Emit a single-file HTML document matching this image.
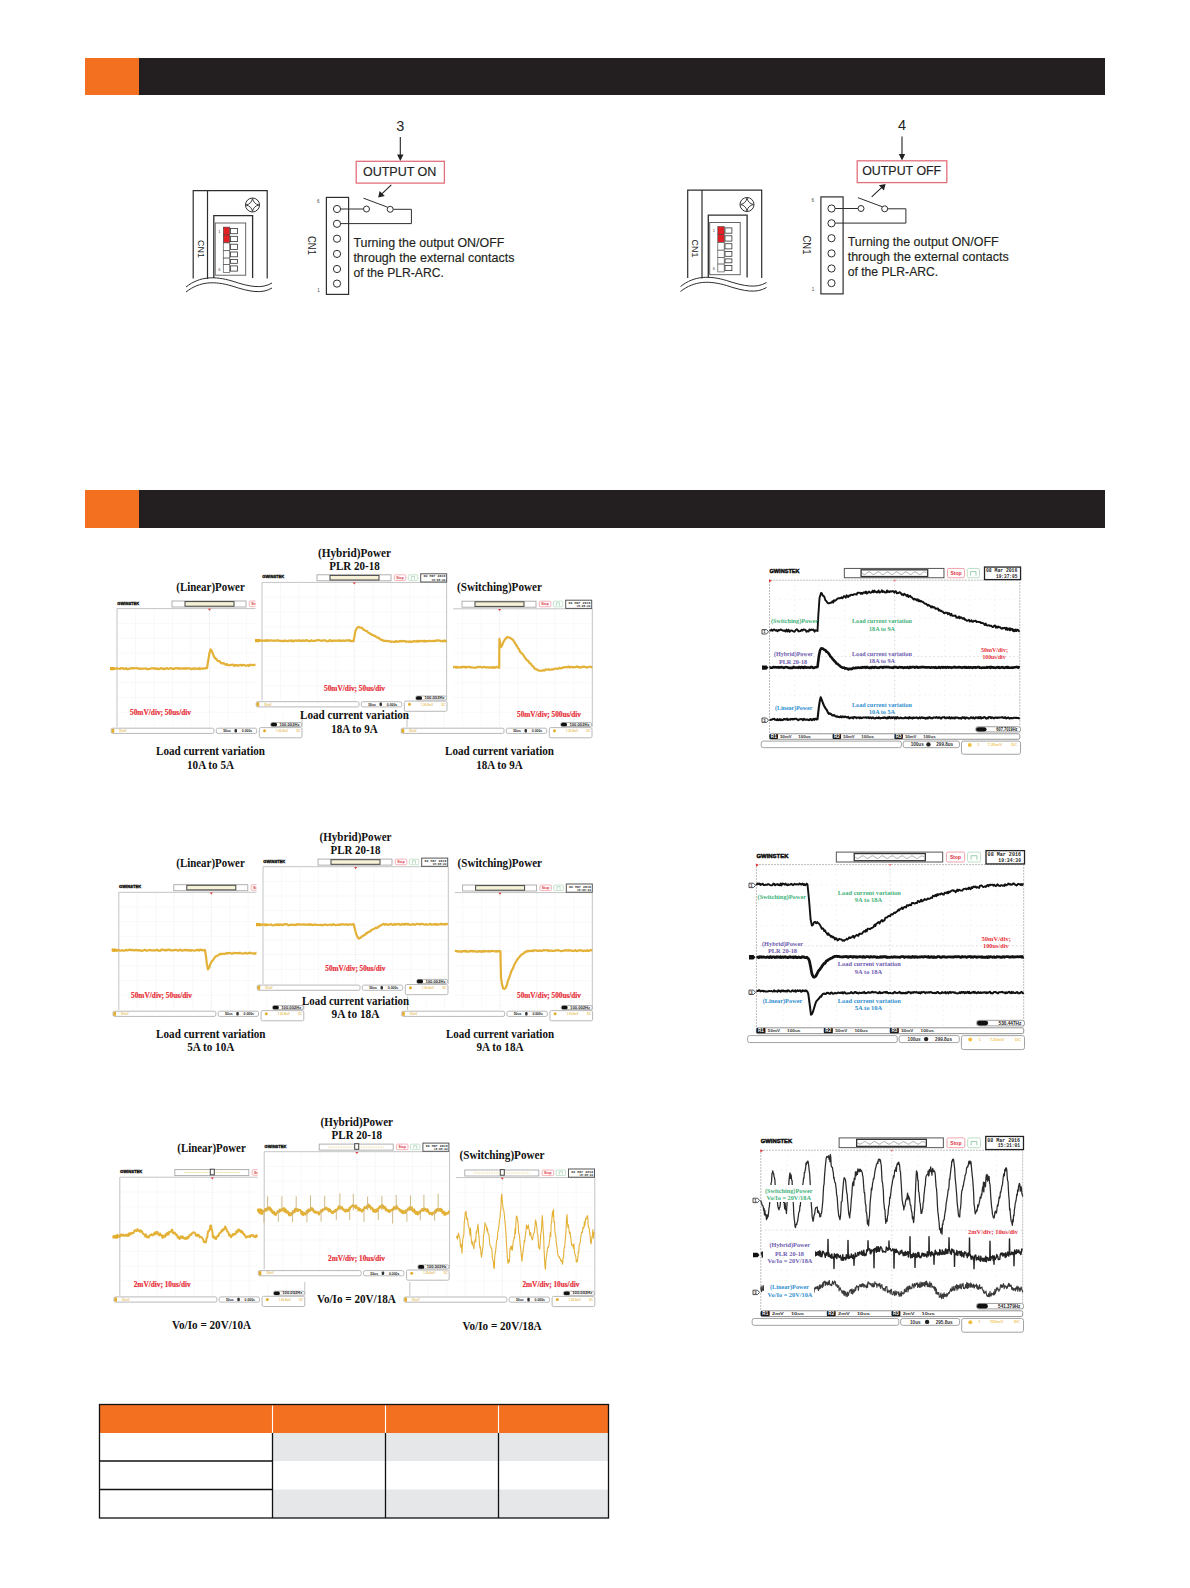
<!DOCTYPE html><html><head><meta charset="utf-8"><style>html,body{margin:0;padding:0;background:#fff;}body{width:1190px;height:1588px;position:relative;overflow:hidden;}svg{position:absolute;left:0;top:0;}</style></head><body>
<svg width="1190" height="1588" viewBox="0 0 1190 1588">
<rect x="85" y="58" width="1020" height="37" fill="#231f20" stroke="none" stroke-width="1" rx="0"/>
<rect x="85" y="58" width="54" height="37" fill="#f37021" stroke="none" stroke-width="1" rx="0"/>
<rect x="85" y="490" width="1020" height="38" fill="#231f20" stroke="none" stroke-width="1" rx="0"/>
<rect x="85" y="490" width="54" height="38" fill="#f37021" stroke="none" stroke-width="1" rx="0"/>
<g transform="translate(0,0)">
<path d="M193.2,278.4 V190.6 H267.2 V278.4" fill="none" stroke="#2e2e2e" stroke-width="1.2"/>
<line x1="207.5" y1="190.6" x2="207.5" y2="279" stroke="#2e2e2e" stroke-width="1.2"/>
<path d="M213.8,278 V215.6 H252.6 V278" fill="none" stroke="#2e2e2e" stroke-width="1.3"/>
<rect x="215.2" y="223" width="30.5" height="52.2" fill="#fff" stroke="#555" stroke-width="0.9" rx="0"/>
<circle cx="252.5" cy="205" r="7" fill="none" stroke="#2e2e2e" stroke-width="1"/>
<path d="M252.5,198.6 Q253.6,203.9 258.9,205 Q253.6,206.1 252.5,211.4 Q251.4,206.1 246.1,205 Q251.4,203.9 252.5,198.6 Z" fill="none" stroke="#2e2e2e" stroke-width="0.9"/>
<rect x="223.3" y="227.1" width="6.4" height="7.9" fill="#e31e24" stroke="#444" stroke-width="0.6" rx="0"/>
<rect x="230.5" y="228.4" width="6.9" height="5.3" fill="#fff" stroke="#333" stroke-width="0.8" rx="0"/>
<rect x="223.3" y="235" width="6.4" height="7.9" fill="#e31e24" stroke="#444" stroke-width="0.6" rx="0"/>
<rect x="230.5" y="236.3" width="6.9" height="5.3" fill="#fff" stroke="#333" stroke-width="0.8" rx="0"/>
<rect x="223.3" y="242.9" width="6.4" height="7.8" fill="#fff" stroke="#555" stroke-width="0.7" rx="0"/>
<rect x="230.5" y="244.2" width="6.9" height="5.2" fill="#fff" stroke="#333" stroke-width="0.8" rx="0"/>
<rect x="223.3" y="250.7" width="6.4" height="7.4" fill="#fff" stroke="#555" stroke-width="0.7" rx="0"/>
<rect x="230.5" y="252" width="6.9" height="4.8" fill="#fff" stroke="#333" stroke-width="0.8" rx="0"/>
<rect x="223.3" y="258.1" width="6.4" height="6.5" fill="#fff" stroke="#555" stroke-width="0.7" rx="0"/>
<rect x="230.5" y="259.4" width="6.9" height="3.9" fill="#fff" stroke="#333" stroke-width="0.8" rx="0"/>
<rect x="223.3" y="264.6" width="6.4" height="7.8" fill="#fff" stroke="#555" stroke-width="0.7" rx="0"/>
<rect x="230.5" y="265.9" width="6.9" height="5.2" fill="#fff" stroke="#333" stroke-width="0.8" rx="0"/>
<text x="219.3" y="232.5" font-family="'Liberation Sans', sans-serif" font-size="4" font-weight="normal" fill="#444" text-anchor="middle">1</text>
<text x="219.3" y="270.5" font-family="'Liberation Sans', sans-serif" font-size="4" font-weight="normal" fill="#444" text-anchor="middle">6</text>
<text transform="translate(197.6,240) rotate(90)" font-family="'Liberation Sans', sans-serif" font-size="9.6" fill="#222" textLength="18" lengthAdjust="spacingAndGlyphs">CN1</text>
<path d="M186,287 C200,276 215,276 232,281 C250,287 262,289 272,283" fill="none" stroke="#2e2e2e" stroke-width="1"/>
<path d="M186,292 C200,281 215,281 232,286 C250,292 262,294 272,288" fill="none" stroke="#2e2e2e" stroke-width="1"/>
<rect x="326.4" y="197.4" width="22.2" height="97" fill="none" stroke="#2e2e2e" stroke-width="1.2" rx="0"/>
<circle cx="337" cy="209" r="3.6" fill="#fff" stroke="#2e2e2e" stroke-width="1"/>
<circle cx="337" cy="223.8" r="3.6" fill="#fff" stroke="#2e2e2e" stroke-width="1"/>
<circle cx="337" cy="238.7" r="3.6" fill="#fff" stroke="#2e2e2e" stroke-width="1"/>
<circle cx="337" cy="253.9" r="3.6" fill="#fff" stroke="#2e2e2e" stroke-width="1"/>
<circle cx="337" cy="269" r="3.6" fill="#fff" stroke="#2e2e2e" stroke-width="1"/>
<circle cx="337" cy="283.6" r="3.6" fill="#fff" stroke="#2e2e2e" stroke-width="1"/>
<text x="318.2" y="202.5" font-family="'Liberation Sans', sans-serif" font-size="4.5" font-weight="normal" fill="#444" text-anchor="middle">6</text>
<text x="318.5" y="291.5" font-family="'Liberation Sans', sans-serif" font-size="4.5" font-weight="normal" fill="#444" text-anchor="middle">1</text>
<text transform="translate(308.2,236) rotate(90)" font-family="'Liberation Sans', sans-serif" font-size="10" fill="#222" textLength="19" lengthAdjust="spacingAndGlyphs">CN1</text>
<line x1="340.6" y1="209" x2="363.5" y2="209" stroke="#2e2e2e" stroke-width="1"/>
<circle cx="366.5" cy="209" r="3" fill="#fff" stroke="#2e2e2e" stroke-width="1"/>
<circle cx="390.2" cy="209.3" r="3" fill="#fff" stroke="#2e2e2e" stroke-width="1"/>
<line x1="363.5" y1="198.2" x2="387.6" y2="207.2" stroke="#2e2e2e" stroke-width="1"/>
<path d="M393.2,209.3 H411.4 V223.6 H340.6" fill="none" stroke="#2e2e2e" stroke-width="1"/>
</g>
<g transform="translate(494.5,-0.5)">
<path d="M193.2,278.4 V190.6 H267.2 V278.4" fill="none" stroke="#2e2e2e" stroke-width="1.2"/>
<line x1="207.5" y1="190.6" x2="207.5" y2="279" stroke="#2e2e2e" stroke-width="1.2"/>
<path d="M213.8,278 V215.6 H252.6 V278" fill="none" stroke="#2e2e2e" stroke-width="1.3"/>
<rect x="215.2" y="223" width="30.5" height="52.2" fill="#fff" stroke="#555" stroke-width="0.9" rx="0"/>
<circle cx="252.5" cy="205" r="7" fill="none" stroke="#2e2e2e" stroke-width="1"/>
<path d="M252.5,198.6 Q253.6,203.9 258.9,205 Q253.6,206.1 252.5,211.4 Q251.4,206.1 246.1,205 Q251.4,203.9 252.5,198.6 Z" fill="none" stroke="#2e2e2e" stroke-width="0.9"/>
<rect x="223.3" y="227.1" width="6.4" height="7.9" fill="#e31e24" stroke="#444" stroke-width="0.6" rx="0"/>
<rect x="230.5" y="228.4" width="6.9" height="5.3" fill="#fff" stroke="#333" stroke-width="0.8" rx="0"/>
<rect x="223.3" y="235" width="6.4" height="7.9" fill="#e31e24" stroke="#444" stroke-width="0.6" rx="0"/>
<rect x="230.5" y="236.3" width="6.9" height="5.3" fill="#fff" stroke="#333" stroke-width="0.8" rx="0"/>
<rect x="223.3" y="242.9" width="6.4" height="7.8" fill="#fff" stroke="#555" stroke-width="0.7" rx="0"/>
<rect x="230.5" y="244.2" width="6.9" height="5.2" fill="#fff" stroke="#333" stroke-width="0.8" rx="0"/>
<rect x="223.3" y="250.7" width="6.4" height="7.4" fill="#fff" stroke="#555" stroke-width="0.7" rx="0"/>
<rect x="230.5" y="252" width="6.9" height="4.8" fill="#fff" stroke="#333" stroke-width="0.8" rx="0"/>
<rect x="223.3" y="258.1" width="6.4" height="6.5" fill="#fff" stroke="#555" stroke-width="0.7" rx="0"/>
<rect x="230.5" y="259.4" width="6.9" height="3.9" fill="#fff" stroke="#333" stroke-width="0.8" rx="0"/>
<rect x="223.3" y="264.6" width="6.4" height="7.8" fill="#fff" stroke="#555" stroke-width="0.7" rx="0"/>
<rect x="230.5" y="265.9" width="6.9" height="5.2" fill="#fff" stroke="#333" stroke-width="0.8" rx="0"/>
<text x="219.3" y="232.5" font-family="'Liberation Sans', sans-serif" font-size="4" font-weight="normal" fill="#444" text-anchor="middle">1</text>
<text x="219.3" y="270.5" font-family="'Liberation Sans', sans-serif" font-size="4" font-weight="normal" fill="#444" text-anchor="middle">6</text>
<text transform="translate(197.6,240) rotate(90)" font-family="'Liberation Sans', sans-serif" font-size="9.6" fill="#222" textLength="18" lengthAdjust="spacingAndGlyphs">CN1</text>
<path d="M186,287 C200,276 215,276 232,281 C250,287 262,289 272,283" fill="none" stroke="#2e2e2e" stroke-width="1"/>
<path d="M186,292 C200,281 215,281 232,286 C250,292 262,294 272,288" fill="none" stroke="#2e2e2e" stroke-width="1"/>
<rect x="326.4" y="197.4" width="22.2" height="97" fill="none" stroke="#2e2e2e" stroke-width="1.2" rx="0"/>
<circle cx="337" cy="209" r="3.6" fill="#fff" stroke="#2e2e2e" stroke-width="1"/>
<circle cx="337" cy="223.8" r="3.6" fill="#fff" stroke="#2e2e2e" stroke-width="1"/>
<circle cx="337" cy="238.7" r="3.6" fill="#fff" stroke="#2e2e2e" stroke-width="1"/>
<circle cx="337" cy="253.9" r="3.6" fill="#fff" stroke="#2e2e2e" stroke-width="1"/>
<circle cx="337" cy="269" r="3.6" fill="#fff" stroke="#2e2e2e" stroke-width="1"/>
<circle cx="337" cy="283.6" r="3.6" fill="#fff" stroke="#2e2e2e" stroke-width="1"/>
<text x="318.2" y="202.5" font-family="'Liberation Sans', sans-serif" font-size="4.5" font-weight="normal" fill="#444" text-anchor="middle">6</text>
<text x="318.5" y="291.5" font-family="'Liberation Sans', sans-serif" font-size="4.5" font-weight="normal" fill="#444" text-anchor="middle">1</text>
<text transform="translate(308.2,236) rotate(90)" font-family="'Liberation Sans', sans-serif" font-size="10" fill="#222" textLength="19" lengthAdjust="spacingAndGlyphs">CN1</text>
<line x1="340.6" y1="209" x2="363.5" y2="209" stroke="#2e2e2e" stroke-width="1"/>
<circle cx="366.5" cy="209" r="3" fill="#fff" stroke="#2e2e2e" stroke-width="1"/>
<circle cx="390.2" cy="209.3" r="3" fill="#fff" stroke="#2e2e2e" stroke-width="1"/>
<line x1="363.5" y1="198.2" x2="387.6" y2="207.2" stroke="#2e2e2e" stroke-width="1"/>
<path d="M393.2,209.3 H411.4 V223.6 H340.6" fill="none" stroke="#2e2e2e" stroke-width="1"/>
</g>
<g transform="translate(0,0)">
<text x="400.3" y="130.6" font-family="'Liberation Sans', sans-serif" font-size="14.5" font-weight="normal" fill="#222" text-anchor="middle">3</text>
<line x1="400.3" y1="137" x2="400.3" y2="155.5" stroke="#222" stroke-width="1.1"/>
<path d="M397.1,154.5 L400.3,161 L403.5,154.5 Z" fill="#222"/>
</g>
<rect x="356.2" y="161.3" width="88.2" height="21.8" fill="none" stroke="#e2707c" stroke-width="1.3" rx="0"/>
<text x="362.9" y="175.7" font-family="'Liberation Sans', sans-serif" font-size="12" font-weight="normal" fill="#222" text-anchor="start" textLength="73.5" lengthAdjust="spacingAndGlyphs" stroke="#222" stroke-width="0.15">OUTPUT ON</text>
<g transform="translate(501.7,-0.5)">
<text x="400.3" y="130.6" font-family="'Liberation Sans', sans-serif" font-size="14.5" font-weight="normal" fill="#222" text-anchor="middle">4</text>
<line x1="400.3" y1="137" x2="400.3" y2="155.5" stroke="#222" stroke-width="1.1"/>
<path d="M397.1,154.5 L400.3,161 L403.5,154.5 Z" fill="#222"/>
</g>
<rect x="857.2" y="160.8" width="89.6" height="21.8" fill="none" stroke="#e2707c" stroke-width="1.3" rx="0"/>
<text x="862.2" y="175.2" font-family="'Liberation Sans', sans-serif" font-size="12" font-weight="normal" fill="#222" text-anchor="start" textLength="79" lengthAdjust="spacingAndGlyphs" stroke="#222" stroke-width="0.15">OUTPUT OFF</text>
<g stroke="#222" stroke-width="1.1" fill="#222">
<line x1="391.3" y1="184.8" x2="381" y2="194.6"/>
<path d="M378.2,197.4 L379.6,190.9 L384.8,195.9 Z" stroke="none"/>
<line x1="871.7" y1="196.8" x2="882.6" y2="186.7"/>
<path d="M885.6,183.9 L883.9,190.4 L878.9,185.2 Z" stroke="none"/>
</g>
<text x="353.4" y="246.9" font-family="'Liberation Sans', sans-serif" font-size="12.2" font-weight="normal" fill="#231f20" text-anchor="start" textLength="151" lengthAdjust="spacingAndGlyphs" stroke="#231f20" stroke-width="0.15">Turning the output ON/OFF</text>
<text x="353.4" y="261.8" font-family="'Liberation Sans', sans-serif" font-size="12.2" font-weight="normal" fill="#231f20" text-anchor="start" textLength="161" lengthAdjust="spacingAndGlyphs" stroke="#231f20" stroke-width="0.15">through the external contacts</text>
<text x="353.4" y="276.7" font-family="'Liberation Sans', sans-serif" font-size="12.2" font-weight="normal" fill="#231f20" text-anchor="start" textLength="90.5" lengthAdjust="spacingAndGlyphs" stroke="#231f20" stroke-width="0.15">of the PLR-ARC.</text>
<text x="847.7" y="246.4" font-family="'Liberation Sans', sans-serif" font-size="12.2" font-weight="normal" fill="#231f20" text-anchor="start" textLength="151" lengthAdjust="spacingAndGlyphs" stroke="#231f20" stroke-width="0.15">Turning the output ON/OFF</text>
<text x="847.7" y="261.3" font-family="'Liberation Sans', sans-serif" font-size="12.2" font-weight="normal" fill="#231f20" text-anchor="start" textLength="161" lengthAdjust="spacingAndGlyphs" stroke="#231f20" stroke-width="0.15">through the external contacts</text>
<text x="847.7" y="276.2" font-family="'Liberation Sans', sans-serif" font-size="12.2" font-weight="normal" fill="#231f20" text-anchor="start" textLength="90.5" lengthAdjust="spacingAndGlyphs" stroke="#231f20" stroke-width="0.15">of the PLR-ARC.</text>
<rect x="99.5" y="1404.5" width="509" height="28.5" fill="#f37021" stroke="none" stroke-width="1" rx="0"/>
<rect x="272.5" y="1433" width="336" height="28" fill="#e6e7e8" stroke="none" stroke-width="1" rx="0"/>
<rect x="272.5" y="1489.5" width="336" height="28.5" fill="#e6e7e8" stroke="none" stroke-width="1" rx="0"/>
<line x1="272.5" y1="1405.5" x2="272.5" y2="1433" stroke="#fff" stroke-width="1.1"/>
<line x1="272.5" y1="1433" x2="272.5" y2="1518" stroke="#111" stroke-width="1.3"/>
<line x1="385.5" y1="1405.5" x2="385.5" y2="1433" stroke="#fff" stroke-width="1.1"/>
<line x1="385.5" y1="1433" x2="385.5" y2="1518" stroke="#111" stroke-width="1.3"/>
<line x1="498.5" y1="1405.5" x2="498.5" y2="1433" stroke="#fff" stroke-width="1.1"/>
<line x1="498.5" y1="1433" x2="498.5" y2="1518" stroke="#111" stroke-width="1.3"/>
<line x1="99.5" y1="1461" x2="272.5" y2="1461" stroke="#111" stroke-width="1.3"/>
<line x1="99.5" y1="1489.5" x2="272.5" y2="1489.5" stroke="#111" stroke-width="1.3"/>
<rect x="99.5" y="1404.5" width="509" height="113.5" fill="none" stroke="#111" stroke-width="1.3" rx="0"/>
<path d="M135.5,608.6V727M154,608.6V727M172.5,608.6V727M191,608.6V727M228,608.6V727M246.5,608.6V727M265,608.6V727M283.5,608.6V727M117,623.4H302M117,638.2H302M117,653H302M117,667.8H302M117,682.6H302M117,697.4H302M117,712.2H302" stroke="#f6f6f6" stroke-width="0.7" fill="none"/>
<path d="M209.5,608.6V727" stroke="#dcdcdc" stroke-width="0.8" stroke-dasharray="1,1.5" fill="none"/>
<path d="M117,727 V608.6 H302 V727" stroke="#c4c4c4" stroke-width="1" fill="none"/>
<text x="117.3" y="604.5" font-family="'Liberation Sans', sans-serif" font-size="4.4" font-weight="bold" fill="#111" text-anchor="start" textLength="22" lengthAdjust="spacingAndGlyphs" stroke="#111" stroke-width="0.35">GWINSTEK</text>
<rect x="172" y="601" width="74" height="6" fill="#fff" stroke="#a8a8a8" stroke-width="0.9" rx="0"/>
<rect x="185" y="601.6" width="49" height="4.6" fill="#f6f2d8" stroke="#444" stroke-width="1" rx="0"/>
<rect x="249.3" y="601" width="11.5" height="5.6" fill="#fff" stroke="#f0a0a8" stroke-width="0.8" rx="1"/>
<text x="255" y="605" font-family="'Liberation Sans', sans-serif" font-size="3.4" font-weight="bold" fill="#e0303c" text-anchor="middle">Stop</text>
<rect x="263.3" y="601" width="9.5" height="5.6" fill="#fff" stroke="#b8dcc0" stroke-width="0.8" rx="1"/>
<path d="M266.5,605.6 v-3 h3 v3" stroke="#8cc8a0" stroke-width="0.6" fill="none"/>
<rect x="275.7" y="600" width="26" height="8.2" fill="#fff" stroke="#555" stroke-width="1" rx="0"/>
<text x="300.5" y="603.6" font-family="'Liberation Mono', monospace" font-size="3.4" font-weight="bold" fill="#333" text-anchor="end" textLength="22" lengthAdjust="spacingAndGlyphs">02 Mar 2016</text>
<text x="300.5" y="607.2" font-family="'Liberation Mono', monospace" font-size="3.4" font-weight="bold" fill="#333" text-anchor="end" textLength="14" lengthAdjust="spacingAndGlyphs">18:08:22</text>
<path d="M208,608.8 h3 l-1.5,2 z" fill="#e03030"/>
<rect x="270.6" y="722.5" width="31" height="4" fill="#fff" stroke="#999" stroke-width="0.7" rx="1.5"/>
<rect x="271" y="722.7" width="6" height="3.6" fill="#111" stroke="none" stroke-width="1" rx="1.5"/>
<text x="289.5" y="725.6" font-family="'Liberation Sans', sans-serif" font-size="3.4" font-weight="bold" fill="#222" text-anchor="middle" textLength="20" lengthAdjust="spacingAndGlyphs">100.002Hz</text>
<rect x="111.2" y="728.2" width="102.8" height="5.2" fill="#fff" stroke="#b0b0b0" stroke-width="0.9" rx="1.5"/>
<rect x="111.6" y="728.8" width="2.6" height="4" fill="#e3ad2c" stroke="none" stroke-width="1" rx="0"/>
<text x="123" y="732" font-family="'Liberation Sans', sans-serif" font-size="2.8" font-weight="bold" fill="#e8c060" text-anchor="middle">50mV</text>
<rect x="216.3" y="728.2" width="40.4" height="5.2" fill="#fff" stroke="#b0b0b0" stroke-width="0.9" rx="1.5"/>
<text x="227" y="732.1" font-family="'Liberation Sans', sans-serif" font-size="3.4" font-weight="bold" fill="#222" text-anchor="middle">50us</text>
<rect x="234.5" y="729" width="2.5" height="3.6" fill="#333" stroke="none" stroke-width="1" rx="1"/>
<text x="247" y="732.1" font-family="'Liberation Sans', sans-serif" font-size="3.4" font-weight="bold" fill="#222" text-anchor="middle">0.000s</text>
<rect x="259.3" y="727.6" width="42.7" height="10.2" fill="#fff" stroke="#b0b0b0" stroke-width="0.9" rx="1.5"/>
<circle cx="264.5" cy="730.8" r="1.5" fill="#e3ad2c"/>
<text x="282" y="732" font-family="'Liberation Sans', sans-serif" font-size="2.8" font-weight="bold" fill="#e8c060" text-anchor="middle">1   26.8mV</text>
<text x="298.5" y="732" font-family="'Liberation Sans', sans-serif" font-size="2.8" font-weight="bold" fill="#e8c060" text-anchor="middle">DC</text>
<polyline points="111,668.54 112,668.67 113,669.11 114,668.56 115,668.61 116,668.7 117,668.22 118,668.61 119,668.76 120,668.95 121,668.11 122,668.36 123,668.11 124,668.97 125,668.83 126,668.05 127,669.18 128,669.16 129,668.78 130,668.74 131,668.19 132,668.02 133,668.63 134,668.07 135,668.23 136,668.29 137,668.04 138,668.56 139,668.53 140,669.01 141,668.62 142,668.77 143,668.6 144,668.79 145,668.55 146,668.33 147,669.2 148,669.19 149,669.01 150,668.85 151,668.38 152,668.28 153,668.35 154,668.08 155,668.92 156,668.48 157,669.02 158,668.46 159,669.15 160,669.02 161,668 162,668.25 163,669.09 164,668.56 165,669.18 166,668.48 167,668.09 168,668.76 169,668.93 170,668.32 171,668.1 172,668.4 173,669.16 174,668.91 175,668.14 176,668.3 177,668.12 178,668.07 179,668.96 180,668.21 181,668.67 182,668.54 183,668.23 184,668.88 185,668.16 186,668.77 187,668.14 188,668.5 189,668.26 190,668.32 191,669.17 192,668.96 193,668.36 194,669.06 195,668.25 196,668.47 197,669.03 198,668.77 199,668.12 200,669.19 201,668.26 202,668.31 203,668.93 204,668.39 205,668.36 206,668.09 207,668.11 208.3,660.1 209.5,652.71 210.7,649.42 212.15,651.81 213.6,655.64 214.68,657.76 215.76,658.52 216.84,659.78 217.92,661.08 219,661.02 220,661.57 221,663.01 222,663.38 223,663.13 224,663.42 225,664.37 226,664.83 227,664.11 228,665.18 229,665.26 230,665.06 231,664.97 232,664.69 233,664.68 234,665.84 235,664.99 236,665.55 237,665.01 238,665.69 239,665.42 240,665.05 241,664.91 242,665.56 243,664.78 244,664.97 245,665.37 246,665.72 247,665.44 248,665.04 249,665.8 250,664.94 251,664.72 252,665.02 253,665.23 254,664.77 255,664.91 256,665.14 257,665.39 258,664.86 259,665.13 260,665.77 261,665.88 262,665.49 263,665.53 264,665.4 265,664.87 266,664.74 267,664.72 268,665.79 269,665.54 270,665.86 271,664.73 272,665.46 273,665.28 274,665.58 275,665.08 276,665.9 277,664.79 278,665.36 279,665.58 280,665.78 281,665.58 282,665.54 283,665.65 284,665.8 285,665.12 286,665.52 287,665.78 288,665.75 289,665.2 290,665.65 291,665.74 292,665.39 293,665.45 294,665.16 295,665.4 296,665.43 297,664.8 298,665.47 299,665.89 300,665.76 301,665.57 302,665.3" fill="none" stroke="#e3ad2c" stroke-width="2.2" stroke-linejoin="round" opacity="0.95"/>
<path d="M110,667 h4 l2,1.6 l-2,1.6 h-4 z" fill="#e3ad2c"/>
<path d="M425.53,608.8V727M444.06,608.8V727M462.59,608.8V727M481.12,608.8V727M518.18,608.8V727M536.71,608.8V727M555.24,608.8V727M573.77,608.8V727M407,623.57H592.3M407,638.35H592.3M407,653.12H592.3M407,667.9H592.3M407,682.67H592.3M407,697.45H592.3M407,712.22H592.3" stroke="#f6f6f6" stroke-width="0.7" fill="none"/>
<path d="M499.65,608.8V727" stroke="#dcdcdc" stroke-width="0.8" stroke-dasharray="1,1.5" fill="none"/>
<path d="M407,727 V608.8 H592.3 V727" stroke="#c4c4c4" stroke-width="1" fill="none"/>
<text x="407.3" y="604.7" font-family="'Liberation Sans', sans-serif" font-size="4.4" font-weight="bold" fill="#111" text-anchor="start" textLength="22" lengthAdjust="spacingAndGlyphs" stroke="#111" stroke-width="0.35">GWINSTEK</text>
<rect x="462" y="601.2" width="74" height="6" fill="#fff" stroke="#a8a8a8" stroke-width="0.9" rx="0"/>
<rect x="475" y="601.8" width="49" height="4.6" fill="#f6f2d8" stroke="#444" stroke-width="1" rx="0"/>
<rect x="539.3" y="601.2" width="11.5" height="5.6" fill="#fff" stroke="#f0a0a8" stroke-width="0.8" rx="1"/>
<text x="545" y="605.2" font-family="'Liberation Sans', sans-serif" font-size="3.4" font-weight="bold" fill="#e0303c" text-anchor="middle">Stop</text>
<rect x="553.3" y="601.2" width="9.5" height="5.6" fill="#fff" stroke="#b8dcc0" stroke-width="0.8" rx="1"/>
<path d="M556.5,605.8 v-3 h3 v3" stroke="#8cc8a0" stroke-width="0.6" fill="none"/>
<rect x="565.7" y="600.2" width="26" height="8.2" fill="#fff" stroke="#555" stroke-width="1" rx="0"/>
<text x="590.5" y="603.8" font-family="'Liberation Mono', monospace" font-size="3.4" font-weight="bold" fill="#333" text-anchor="end" textLength="22" lengthAdjust="spacingAndGlyphs">02 Mar 2016</text>
<text x="590.5" y="607.4" font-family="'Liberation Mono', monospace" font-size="3.4" font-weight="bold" fill="#333" text-anchor="end" textLength="14" lengthAdjust="spacingAndGlyphs">18:08:22</text>
<path d="M498.15,609 h3 l-1.5,2 z" fill="#e03030"/>
<rect x="560.6" y="722.5" width="31" height="4" fill="#fff" stroke="#999" stroke-width="0.7" rx="1.5"/>
<rect x="561" y="722.7" width="6" height="3.6" fill="#111" stroke="none" stroke-width="1" rx="1.5"/>
<text x="579.5" y="725.6" font-family="'Liberation Sans', sans-serif" font-size="3.4" font-weight="bold" fill="#222" text-anchor="middle" textLength="20" lengthAdjust="spacingAndGlyphs">100.002Hz</text>
<rect x="401.2" y="728.2" width="102.8" height="5.2" fill="#fff" stroke="#b0b0b0" stroke-width="0.9" rx="1.5"/>
<rect x="401.6" y="728.8" width="2.6" height="4" fill="#e3ad2c" stroke="none" stroke-width="1" rx="0"/>
<text x="413" y="732" font-family="'Liberation Sans', sans-serif" font-size="2.8" font-weight="bold" fill="#e8c060" text-anchor="middle">50mV</text>
<rect x="506.3" y="728.2" width="40.4" height="5.2" fill="#fff" stroke="#b0b0b0" stroke-width="0.9" rx="1.5"/>
<text x="517" y="732.1" font-family="'Liberation Sans', sans-serif" font-size="3.4" font-weight="bold" fill="#222" text-anchor="middle">50us</text>
<rect x="524.5" y="729" width="2.5" height="3.6" fill="#333" stroke="none" stroke-width="1" rx="1"/>
<text x="537" y="732.1" font-family="'Liberation Sans', sans-serif" font-size="3.4" font-weight="bold" fill="#222" text-anchor="middle">0.000s</text>
<rect x="549.3" y="727.6" width="42.7" height="10.2" fill="#fff" stroke="#b0b0b0" stroke-width="0.9" rx="1.5"/>
<circle cx="554.5" cy="730.8" r="1.5" fill="#e3ad2c"/>
<text x="572" y="732" font-family="'Liberation Sans', sans-serif" font-size="2.8" font-weight="bold" fill="#e8c060" text-anchor="middle">1   26.8mV</text>
<text x="588.5" y="732" font-family="'Liberation Sans', sans-serif" font-size="2.8" font-weight="bold" fill="#e8c060" text-anchor="middle">DC</text>
<polyline points="401,667.17 402,667.58 403,667.4 404.01,667.23 405.01,667.71 406.01,666.8 407.01,667.6 408.01,666.74 409.02,667.42 410.02,667.28 411.02,666.98 412.02,667.54 413.02,667.3 414.03,667.44 415.03,667.8 416.03,667.01 417.03,666.71 418.03,667.06 419.04,667.51 420.04,666.94 421.04,666.9 422.04,667.79 423.04,667.49 424.05,667.23 425.05,667.77 426.05,667.09 427.05,667.5 428.06,666.94 429.06,667.22 430.06,667.67 431.06,667.8 432.06,667.76 433.07,667.16 434.07,667.4 435.07,667.08 436.07,666.86 437.07,667.3 438.08,667.7 439.08,667.72 440.08,667.55 441.08,667.84 442.08,667.03 443.09,666.9 444.09,667.24 445.09,667.03 446.09,666.96 447.09,667.2 448.1,667.45 449.1,667.29 450.1,667.08 451.1,667.71 452.1,667.88 453.11,667.24 454.11,666.79 455.11,666.74 456.11,667.75 457.11,666.75 458.12,667.55 459.12,667.38 460.12,667.07 461.12,667.65 462.12,666.72 463.13,666.86 464.13,667.25 465.13,666.73 466.13,667.7 467.13,666.98 468.14,666.87 469.14,666.76 470.14,667.46 471.14,667.24 472.14,667.46 473.15,667.49 474.15,667.67 475.15,667.85 476.15,667.52 477.16,666.94 478.16,667.27 479.16,666.91 480.16,666.71 481.16,667.27 482.17,667.56 483.17,666.91 484.17,667.03 485.17,667.11 486.17,667.54 487.18,667.32 488.18,667.44 489.18,667.61 490.18,667.17 491.18,667.65 492.19,667.79 493.19,666.8 494.19,667.82 495.19,667.57 496.19,666.86 497.2,667.24 498.2,667.45 499.2,667.79 499.4,638.85 500.7,647.08 501.8,646.06 502.9,643.12 504,641.03 505.05,639.21 506.1,638.31 507.15,636.96 508.2,637.27 509.4,637.65 510.6,638.15 511.8,639.2 513,639.66 514,641.56 515,643.08 516,644.74 517,646 518,648.11 519,649.27 520,651.49 521.07,652.89 522.14,653.72 523.21,654.81 524.28,656.62 525.35,658.08 526.42,659.64 527.49,660.55 528.56,661.2 529.63,663.28 530.7,663.48 531.77,665.5 532.84,665.96 533.91,667.36 534.99,669.01 536.06,669.13 537.13,669.75 538.2,670.42 539.27,670.66 540.35,670.76 541.42,670.52 542.49,670.76 543.56,670.13 544.64,670.58 545.71,669.44 546.78,669.49 547.85,669.74 548.93,669.35 550,669.77 551.04,669.56 552.07,669.3 553.11,669.54 554.15,669.04 555.18,668.58 556.22,668.5 557.26,668.88 558.29,668.76 559.33,667.76 560.37,668.36 561.41,668.33 562.44,667.64 563.48,667.55 564.52,666.98 565.55,667.26 566.59,667.13 567.63,667.19 568.66,666.45 569.7,667.56 570.73,667.02 571.76,666.88 572.8,667.36 573.83,667.08 574.86,666.99 575.89,667.23 576.92,666.48 577.95,667.05 578.99,666.9 580.02,667.55 581.05,667.51 582.08,666.72 583.11,666.97 584.15,666.55 585.18,666.92 586.21,667.38 587.24,667.48 588.27,666.97 589.3,666.78 590.34,666.63 591.37,667.14 592.4,667" fill="none" stroke="#e3ad2c" stroke-width="2.2" stroke-linejoin="round" opacity="0.95"/>
<path d="M400,665.7 h4 l2,1.6 l-2,1.6 h-4 z" fill="#e3ad2c"/>
<rect x="255.5" y="571.9" width="197.6" height="141.1" fill="#fff" stroke="none" stroke-width="1" rx="0"/>
<path d="M280.46,582.4V700.5M298.92,582.4V700.5M317.38,582.4V700.5M335.84,582.4V700.5M372.76,582.4V700.5M391.22,582.4V700.5M409.68,582.4V700.5M428.14,582.4V700.5M262,597.16H446.6M262,611.92H446.6M262,626.69H446.6M262,641.45H446.6M262,656.21H446.6M262,670.97H446.6M262,685.74H446.6" stroke="#f6f6f6" stroke-width="0.7" fill="none"/>
<path d="M354.3,582.4V700.5" stroke="#dcdcdc" stroke-width="0.8" stroke-dasharray="1,1.5" fill="none"/>
<path d="M262,700.5 V582.4 H446.6 V700.5" stroke="#c4c4c4" stroke-width="1" fill="none"/>
<text x="262.3" y="578.3" font-family="'Liberation Sans', sans-serif" font-size="4.4" font-weight="bold" fill="#111" text-anchor="start" textLength="22" lengthAdjust="spacingAndGlyphs" stroke="#111" stroke-width="0.35">GWINSTEK</text>
<rect x="317" y="574.8" width="74" height="6" fill="#fff" stroke="#a8a8a8" stroke-width="0.9" rx="0"/>
<rect x="330" y="575.4" width="49" height="4.6" fill="#f6f2d8" stroke="#444" stroke-width="1" rx="0"/>
<rect x="394.3" y="574.8" width="11.5" height="5.6" fill="#fff" stroke="#f0a0a8" stroke-width="0.8" rx="1"/>
<text x="400" y="578.8" font-family="'Liberation Sans', sans-serif" font-size="3.4" font-weight="bold" fill="#e0303c" text-anchor="middle">Stop</text>
<rect x="408.3" y="574.8" width="9.5" height="5.6" fill="#fff" stroke="#b8dcc0" stroke-width="0.8" rx="1"/>
<path d="M411.5,579.4 v-3 h3 v3" stroke="#8cc8a0" stroke-width="0.6" fill="none"/>
<rect x="420.7" y="573.8" width="26" height="8.2" fill="#fff" stroke="#555" stroke-width="1" rx="0"/>
<text x="445.5" y="577.4" font-family="'Liberation Mono', monospace" font-size="3.4" font-weight="bold" fill="#333" text-anchor="end" textLength="22" lengthAdjust="spacingAndGlyphs">02 Mar 2016</text>
<text x="445.5" y="581" font-family="'Liberation Mono', monospace" font-size="3.4" font-weight="bold" fill="#333" text-anchor="end" textLength="14" lengthAdjust="spacingAndGlyphs">18:08:22</text>
<path d="M352.8,582.6 h3 l-1.5,2 z" fill="#e03030"/>
<rect x="415.6" y="696" width="31" height="4" fill="#fff" stroke="#999" stroke-width="0.7" rx="1.5"/>
<rect x="416" y="696.2" width="6" height="3.6" fill="#111" stroke="none" stroke-width="1" rx="1.5"/>
<text x="434.5" y="699.1" font-family="'Liberation Sans', sans-serif" font-size="3.4" font-weight="bold" fill="#222" text-anchor="middle" textLength="20" lengthAdjust="spacingAndGlyphs">100.002Hz</text>
<rect x="256.2" y="701.7" width="102.8" height="5.2" fill="#fff" stroke="#b0b0b0" stroke-width="0.9" rx="1.5"/>
<rect x="256.6" y="702.3" width="2.6" height="4" fill="#e3ad2c" stroke="none" stroke-width="1" rx="0"/>
<text x="268" y="705.5" font-family="'Liberation Sans', sans-serif" font-size="2.8" font-weight="bold" fill="#e8c060" text-anchor="middle">50mV</text>
<rect x="361.3" y="701.7" width="40.4" height="5.2" fill="#fff" stroke="#b0b0b0" stroke-width="0.9" rx="1.5"/>
<text x="372" y="705.6" font-family="'Liberation Sans', sans-serif" font-size="3.4" font-weight="bold" fill="#222" text-anchor="middle">50us</text>
<rect x="379.5" y="702.5" width="2.5" height="3.6" fill="#333" stroke="none" stroke-width="1" rx="1"/>
<text x="392" y="705.6" font-family="'Liberation Sans', sans-serif" font-size="3.4" font-weight="bold" fill="#222" text-anchor="middle">0.000s</text>
<rect x="404.3" y="701.1" width="42.7" height="10.2" fill="#fff" stroke="#b0b0b0" stroke-width="0.9" rx="1.5"/>
<circle cx="409.5" cy="704.3" r="1.5" fill="#e3ad2c"/>
<text x="427" y="705.5" font-family="'Liberation Sans', sans-serif" font-size="2.8" font-weight="bold" fill="#e8c060" text-anchor="middle">1   26.8mV</text>
<text x="443.5" y="705.5" font-family="'Liberation Sans', sans-serif" font-size="2.8" font-weight="bold" fill="#e8c060" text-anchor="middle">DC</text>
<polyline points="256,641.21 257.01,640.26 258.01,641.04 259.02,640.13 260.02,640.33 261.03,640.37 262.04,640.92 263.04,640.49 264.05,640.53 265.06,640.84 266.06,640.23 267.07,640.98 268.07,640.25 269.08,640.71 270.09,640.4 271.09,640.34 272.1,640.74 273.11,640.62 274.11,640.55 275.12,640.6 276.12,640.74 277.13,640.29 278.14,640.35 279.14,640.86 280.15,640.87 281.15,640.74 282.16,641.12 283.17,640.83 284.17,641.13 285.18,640.38 286.19,640.99 287.19,641.07 288.2,641.18 289.2,640.48 290.21,640.48 291.22,641.21 292.22,640.36 293.23,641.3 294.24,641.17 295.24,640.26 296.25,640.39 297.25,640.97 298.26,640.41 299.27,640.22 300.27,641.1 301.28,640.61 302.28,641.05 303.29,640.25 304.3,640.58 305.3,640.92 306.31,640.12 307.32,640.34 308.32,640.92 309.33,641.19 310.33,641.26 311.34,640.24 312.35,640.71 313.35,641.01 314.36,640.7 315.36,640.92 316.37,640.33 317.38,640.18 318.38,640.23 319.39,640.14 320.4,640.76 321.4,640.72 322.41,640.78 323.41,640.28 324.42,640.32 325.43,640.34 326.43,641.11 327.44,641.29 328.45,641.21 329.45,640.21 330.46,640.17 331.46,641.24 332.47,640.65 333.48,641.02 334.48,640.49 335.49,640.66 336.49,640.72 337.5,640.62 338.51,640.82 339.51,640.12 340.52,640.94 341.53,641.11 342.53,640.32 343.54,640.64 344.54,640.99 345.55,640.59 346.56,640.33 347.56,640.3 348.57,640.72 349.58,640.12 350.58,641.17 351.59,641.06 352.59,640.95 353.6,641.13 355.3,631.56 356.43,628.92 357.57,627.53 358.7,626.81 359.75,627.53 360.8,627.73 361.85,627.66 362.9,629.14 363.95,629.64 365,630.33 366,630.97 367,631.13 368,632.39 369,633.05 370,633.5 371,634.23 372,634.82 373.06,635 374.12,636.01 375.18,635.87 376.23,636.84 377.29,637.63 378.35,637.68 379.41,638.66 380.47,639.52 381.52,639.96 382.58,639.88 383.64,641.03 384.7,640.9 385.73,640.65 386.77,641.17 387.8,641.19 388.83,641.25 389.87,641.18 390.9,641.99 391.93,641.62 392.97,641.73 394,641.81 395.01,642.08 396.02,640.93 397.03,641.63 398.05,641.78 399.06,641.2 400.07,641.36 401.08,640.94 402.09,641.1 403.1,641.31 404.12,640.97 405.13,641.15 406.14,641.92 407.15,641.48 408.16,641.42 409.17,641.96 410.18,641.47 411.2,641.97 412.21,641.53 413.22,641.72 414.23,640.82 415.24,641.43 416.25,641.61 417.27,640.74 418.28,641.79 419.29,640.85 420.3,641.2 421.31,640.82 422.32,641.2 423.33,641.32 424.35,640.64 425.36,641.69 426.37,641.04 427.38,641.15 428.39,641.21 429.4,640.92 430.42,640.8 431.43,641.23 432.44,641.1 433.45,640.75 434.46,641.25 435.47,640.73 436.48,640.37 437.5,640.63 438.51,640.37 439.52,640.49 440.53,641.19 441.54,640.74 442.55,641.33 443.57,641.14 444.58,640.29 445.59,641.4 446.6,640.8" fill="none" stroke="#e3ad2c" stroke-width="2.2" stroke-linejoin="round" opacity="0.95"/>
<path d="M255,639.1 h4 l2,1.6 l-2,1.6 h-4 z" fill="#e3ad2c"/>
<text x="210.5" y="591" font-family="'Liberation Serif', serif" font-size="12.4" font-weight="bold" fill="#111" text-anchor="middle" textLength="68.5" lengthAdjust="spacingAndGlyphs">(Linear)Power</text>
<text x="354.5" y="556.5" font-family="'Liberation Serif', serif" font-size="12.4" font-weight="bold" fill="#111" text-anchor="middle" textLength="73" lengthAdjust="spacingAndGlyphs">(Hybrid)Power</text>
<text x="354.5" y="570.1" font-family="'Liberation Serif', serif" font-size="12.4" font-weight="bold" fill="#111" text-anchor="middle" textLength="50.5" lengthAdjust="spacingAndGlyphs">PLR 20-18</text>
<text x="499.5" y="591" font-family="'Liberation Serif', serif" font-size="12.4" font-weight="bold" fill="#111" text-anchor="middle" textLength="85" lengthAdjust="spacingAndGlyphs">(Switching)Power</text>
<text x="354.5" y="719" font-family="'Liberation Serif', serif" font-size="12.4" font-weight="bold" fill="#111" text-anchor="middle" textLength="109" lengthAdjust="spacingAndGlyphs">Load current variation</text>
<text x="354.5" y="732.6" font-family="'Liberation Serif', serif" font-size="12.4" font-weight="bold" fill="#111" text-anchor="middle" textLength="46.5" lengthAdjust="spacingAndGlyphs">18A to 9A</text>
<text x="210.5" y="755" font-family="'Liberation Serif', serif" font-size="12.4" font-weight="bold" fill="#111" text-anchor="middle" textLength="109" lengthAdjust="spacingAndGlyphs">Load current variation</text>
<text x="210.5" y="768.6" font-family="'Liberation Serif', serif" font-size="12.4" font-weight="bold" fill="#111" text-anchor="middle" textLength="47" lengthAdjust="spacingAndGlyphs">10A to 5A</text>
<text x="499.5" y="755" font-family="'Liberation Serif', serif" font-size="12.4" font-weight="bold" fill="#111" text-anchor="middle" textLength="109" lengthAdjust="spacingAndGlyphs">Load current variation</text>
<text x="499.5" y="768.6" font-family="'Liberation Serif', serif" font-size="12.4" font-weight="bold" fill="#111" text-anchor="middle" textLength="46.5" lengthAdjust="spacingAndGlyphs">18A to 9A</text>
<text x="160.5" y="714.8" font-family="'Liberation Serif', serif" font-size="7.4" font-weight="bold" fill="#e8323c" text-anchor="middle" textLength="61" lengthAdjust="spacingAndGlyphs" stroke="#e8323c" stroke-width="0.2">50mV/div; 50us/div</text>
<text x="354.5" y="690.5" font-family="'Liberation Serif', serif" font-size="7.4" font-weight="bold" fill="#e8323c" text-anchor="middle" textLength="61" lengthAdjust="spacingAndGlyphs" stroke="#e8323c" stroke-width="0.2">50mV/div; 50us/div</text>
<text x="549" y="717.3" font-family="'Liberation Serif', serif" font-size="7.4" font-weight="bold" fill="#e8323c" text-anchor="middle" textLength="64" lengthAdjust="spacingAndGlyphs" stroke="#e8323c" stroke-width="0.2">50mV/div; 500us/div</text>
<path d="M137.3,892.3V1010M155.8,892.3V1010M174.3,892.3V1010M192.8,892.3V1010M229.8,892.3V1010M248.3,892.3V1010M266.8,892.3V1010M285.3,892.3V1010M118.8,907.01H303.8M118.8,921.72H303.8M118.8,936.44H303.8M118.8,951.15H303.8M118.8,965.86H303.8M118.8,980.57H303.8M118.8,995.29H303.8" stroke="#f6f6f6" stroke-width="0.7" fill="none"/>
<path d="M211.3,892.3V1010" stroke="#dcdcdc" stroke-width="0.8" stroke-dasharray="1,1.5" fill="none"/>
<path d="M118.8,1010 V892.3 H303.8 V1010" stroke="#c4c4c4" stroke-width="1" fill="none"/>
<text x="119.1" y="888.2" font-family="'Liberation Sans', sans-serif" font-size="4.4" font-weight="bold" fill="#111" text-anchor="start" textLength="22" lengthAdjust="spacingAndGlyphs" stroke="#111" stroke-width="0.35">GWINSTEK</text>
<rect x="173.8" y="884.7" width="74" height="6" fill="#fff" stroke="#a8a8a8" stroke-width="0.9" rx="0"/>
<rect x="186.8" y="885.3" width="49" height="4.6" fill="#f6f2d8" stroke="#444" stroke-width="1" rx="0"/>
<rect x="251.1" y="884.7" width="11.5" height="5.6" fill="#fff" stroke="#f0a0a8" stroke-width="0.8" rx="1"/>
<text x="256.8" y="888.7" font-family="'Liberation Sans', sans-serif" font-size="3.4" font-weight="bold" fill="#e0303c" text-anchor="middle">Stop</text>
<rect x="265.1" y="884.7" width="9.5" height="5.6" fill="#fff" stroke="#b8dcc0" stroke-width="0.8" rx="1"/>
<path d="M268.3,889.3 v-3 h3 v3" stroke="#8cc8a0" stroke-width="0.6" fill="none"/>
<rect x="277.5" y="883.7" width="26" height="8.2" fill="#fff" stroke="#555" stroke-width="1" rx="0"/>
<text x="302.3" y="887.3" font-family="'Liberation Mono', monospace" font-size="3.4" font-weight="bold" fill="#333" text-anchor="end" textLength="22" lengthAdjust="spacingAndGlyphs">02 Mar 2016</text>
<text x="302.3" y="890.9" font-family="'Liberation Mono', monospace" font-size="3.4" font-weight="bold" fill="#333" text-anchor="end" textLength="14" lengthAdjust="spacingAndGlyphs">18:08:22</text>
<path d="M209.8,892.5 h3 l-1.5,2 z" fill="#e03030"/>
<rect x="272.4" y="1005.5" width="31" height="4" fill="#fff" stroke="#999" stroke-width="0.7" rx="1.5"/>
<rect x="272.8" y="1005.7" width="6" height="3.6" fill="#111" stroke="none" stroke-width="1" rx="1.5"/>
<text x="291.3" y="1008.6" font-family="'Liberation Sans', sans-serif" font-size="3.4" font-weight="bold" fill="#222" text-anchor="middle" textLength="20" lengthAdjust="spacingAndGlyphs">100.002Hz</text>
<rect x="113" y="1011.2" width="102.8" height="5.2" fill="#fff" stroke="#b0b0b0" stroke-width="0.9" rx="1.5"/>
<rect x="113.4" y="1011.8" width="2.6" height="4" fill="#e3ad2c" stroke="none" stroke-width="1" rx="0"/>
<text x="124.8" y="1015" font-family="'Liberation Sans', sans-serif" font-size="2.8" font-weight="bold" fill="#e8c060" text-anchor="middle">50mV</text>
<rect x="218.1" y="1011.2" width="40.4" height="5.2" fill="#fff" stroke="#b0b0b0" stroke-width="0.9" rx="1.5"/>
<text x="228.8" y="1015.1" font-family="'Liberation Sans', sans-serif" font-size="3.4" font-weight="bold" fill="#222" text-anchor="middle">50us</text>
<rect x="236.3" y="1012" width="2.5" height="3.6" fill="#333" stroke="none" stroke-width="1" rx="1"/>
<text x="248.8" y="1015.1" font-family="'Liberation Sans', sans-serif" font-size="3.4" font-weight="bold" fill="#222" text-anchor="middle">0.000s</text>
<rect x="261.1" y="1010.6" width="42.7" height="10.2" fill="#fff" stroke="#b0b0b0" stroke-width="0.9" rx="1.5"/>
<circle cx="266.3" cy="1013.8" r="1.5" fill="#e3ad2c"/>
<text x="283.8" y="1015" font-family="'Liberation Sans', sans-serif" font-size="2.8" font-weight="bold" fill="#e8c060" text-anchor="middle">1   26.8mV</text>
<text x="300.3" y="1015" font-family="'Liberation Sans', sans-serif" font-size="2.8" font-weight="bold" fill="#e8c060" text-anchor="middle">DC</text>
<polyline points="112,950.73 113.01,949.69 114.02,950.69 115.03,950.12 116.04,950.17 117.05,950.77 118.06,949.89 119.07,950.23 120.08,950.72 121.09,950.47 122.1,950.16 123.11,950.77 124.12,950.58 125.13,950.32 126.14,949.74 127.15,950.35 128.16,950.15 129.17,949.84 130.18,949.66 131.19,950.23 132.2,949.75 133.21,950.13 134.22,950.4 135.22,950.15 136.23,949.91 137.24,950.3 138.25,950.1 139.26,950.53 140.27,950.24 141.28,950.8 142.29,950.74 143.3,950.48 144.31,949.89 145.32,949.74 146.33,950.67 147.34,950.54 148.35,950.35 149.36,950.03 150.37,949.93 151.38,950.42 152.39,950.28 153.4,950.31 154.41,950.36 155.42,950.5 156.43,949.83 157.44,949.9 158.45,950.78 159.46,950.7 160.47,950.65 161.48,949.65 162.49,949.67 163.5,949.93 164.51,950.11 165.52,950.35 166.53,949.72 167.54,950.25 168.55,949.69 169.56,949.7 170.57,950.41 171.58,950.26 172.59,950.36 173.6,950.05 174.61,950.17 175.62,949.85 176.63,950.01 177.64,950.49 178.65,950.61 179.66,949.69 180.67,949.74 181.68,950.57 182.68,950.35 183.69,950.52 184.7,949.86 185.71,950.11 186.72,949.91 187.73,950.57 188.74,950.04 189.75,950.38 190.76,950.79 191.77,949.99 192.78,950.26 193.79,950.5 194.8,950.7 195.81,950.11 196.82,950.04 197.83,949.72 198.84,950.65 199.85,949.69 200.86,949.7 201.87,950.28 202.88,950.18 203.89,950.42 204.9,949.96 205.9,955.59 206.9,964.14 207.9,969.36 209.2,967.66 210.5,963.5 211.53,961.81 212.57,960.53 213.6,959.13 214.72,957.53 215.83,956.37 216.95,955.75 218.07,955.46 219.18,954.45 220.3,953.74 221.38,954.15 222.46,953.71 223.54,953.91 224.62,953.78 225.7,953.7 226.7,953.13 227.71,953.56 228.71,952.97 229.72,952.98 230.72,953.08 231.72,953.72 232.73,953.67 233.73,952.9 234.74,953.03 235.74,953.04 236.74,953.04 237.75,953.07 238.75,953.07 239.75,952.83 240.76,953.28 241.76,953.56 242.77,953.25 243.77,953.6 244.77,953.28 245.78,952.81 246.78,953.51 247.79,953.66 248.79,952.94 249.79,952.63 250.8,953.22 251.8,953.25 252.81,953.28 253.81,953.76 254.81,953.38 255.82,953.57 256.82,952.68 257.82,953.26 258.83,953.55 259.83,952.7 260.84,952.7 261.84,953.48 262.84,953.68 263.85,952.7 264.85,953.36 265.86,952.77 266.86,953.49 267.86,953.38 268.87,952.89 269.87,952.86 270.88,953.52 271.88,953.23 272.88,953.52 273.89,953.07 274.89,953.01 275.89,953.76 276.9,953.41 277.9,953.19 278.91,953.24 279.91,953.47 280.91,953.45 281.92,953.7 282.92,953.09 283.93,953.59 284.93,953.4 285.93,953.62 286.94,953.57 287.94,953.6 288.95,953.67 289.95,953.75 290.95,953.37 291.96,953.23 292.96,953.45 293.96,953.56 294.97,953.11 295.97,953.1 296.98,952.78 297.98,953.49 298.98,953.79 299.99,953.05 300.99,952.8 302,952.85 303,953.2" fill="none" stroke="#e3ad2c" stroke-width="2.2" stroke-linejoin="round" opacity="0.95"/>
<path d="M111.8,948.6 h4 l2,1.6 l-2,1.6 h-4 z" fill="#e3ad2c"/>
<path d="M426.07,892.6V1010M444.54,892.6V1010M463.01,892.6V1010M481.48,892.6V1010M518.42,892.6V1010M536.89,892.6V1010M555.36,892.6V1010M573.83,892.6V1010M407.6,907.27H592.3M407.6,921.95H592.3M407.6,936.62H592.3M407.6,951.3H592.3M407.6,965.98H592.3M407.6,980.65H592.3M407.6,995.33H592.3" stroke="#f6f6f6" stroke-width="0.7" fill="none"/>
<path d="M499.95,892.6V1010" stroke="#dcdcdc" stroke-width="0.8" stroke-dasharray="1,1.5" fill="none"/>
<path d="M407.6,1010 V892.6 H592.3 V1010" stroke="#c4c4c4" stroke-width="1" fill="none"/>
<text x="407.9" y="888.5" font-family="'Liberation Sans', sans-serif" font-size="4.4" font-weight="bold" fill="#111" text-anchor="start" textLength="22" lengthAdjust="spacingAndGlyphs" stroke="#111" stroke-width="0.35">GWINSTEK</text>
<rect x="462.6" y="885" width="74" height="6" fill="#fff" stroke="#a8a8a8" stroke-width="0.9" rx="0"/>
<rect x="475.6" y="885.6" width="49" height="4.6" fill="#f6f2d8" stroke="#444" stroke-width="1" rx="0"/>
<rect x="539.9" y="885" width="11.5" height="5.6" fill="#fff" stroke="#f0a0a8" stroke-width="0.8" rx="1"/>
<text x="545.6" y="889" font-family="'Liberation Sans', sans-serif" font-size="3.4" font-weight="bold" fill="#e0303c" text-anchor="middle">Stop</text>
<rect x="553.9" y="885" width="9.5" height="5.6" fill="#fff" stroke="#b8dcc0" stroke-width="0.8" rx="1"/>
<path d="M557.1,889.6 v-3 h3 v3" stroke="#8cc8a0" stroke-width="0.6" fill="none"/>
<rect x="566.3" y="884" width="26" height="8.2" fill="#fff" stroke="#555" stroke-width="1" rx="0"/>
<text x="591.1" y="887.6" font-family="'Liberation Mono', monospace" font-size="3.4" font-weight="bold" fill="#333" text-anchor="end" textLength="22" lengthAdjust="spacingAndGlyphs">02 Mar 2016</text>
<text x="591.1" y="891.2" font-family="'Liberation Mono', monospace" font-size="3.4" font-weight="bold" fill="#333" text-anchor="end" textLength="14" lengthAdjust="spacingAndGlyphs">18:08:22</text>
<path d="M498.45,892.8 h3 l-1.5,2 z" fill="#e03030"/>
<rect x="561.2" y="1005.5" width="31" height="4" fill="#fff" stroke="#999" stroke-width="0.7" rx="1.5"/>
<rect x="561.6" y="1005.7" width="6" height="3.6" fill="#111" stroke="none" stroke-width="1" rx="1.5"/>
<text x="580.1" y="1008.6" font-family="'Liberation Sans', sans-serif" font-size="3.4" font-weight="bold" fill="#222" text-anchor="middle" textLength="20" lengthAdjust="spacingAndGlyphs">100.002Hz</text>
<rect x="401.8" y="1011.2" width="102.8" height="5.2" fill="#fff" stroke="#b0b0b0" stroke-width="0.9" rx="1.5"/>
<rect x="402.2" y="1011.8" width="2.6" height="4" fill="#e3ad2c" stroke="none" stroke-width="1" rx="0"/>
<text x="413.6" y="1015" font-family="'Liberation Sans', sans-serif" font-size="2.8" font-weight="bold" fill="#e8c060" text-anchor="middle">50mV</text>
<rect x="506.9" y="1011.2" width="40.4" height="5.2" fill="#fff" stroke="#b0b0b0" stroke-width="0.9" rx="1.5"/>
<text x="517.6" y="1015.1" font-family="'Liberation Sans', sans-serif" font-size="3.4" font-weight="bold" fill="#222" text-anchor="middle">50us</text>
<rect x="525.1" y="1012" width="2.5" height="3.6" fill="#333" stroke="none" stroke-width="1" rx="1"/>
<text x="537.6" y="1015.1" font-family="'Liberation Sans', sans-serif" font-size="3.4" font-weight="bold" fill="#222" text-anchor="middle">0.000s</text>
<rect x="549.9" y="1010.6" width="42.7" height="10.2" fill="#fff" stroke="#b0b0b0" stroke-width="0.9" rx="1.5"/>
<circle cx="555.1" cy="1013.8" r="1.5" fill="#e3ad2c"/>
<text x="572.6" y="1015" font-family="'Liberation Sans', sans-serif" font-size="2.8" font-weight="bold" fill="#e8c060" text-anchor="middle">1   26.8mV</text>
<text x="589.1" y="1015" font-family="'Liberation Sans', sans-serif" font-size="2.8" font-weight="bold" fill="#e8c060" text-anchor="middle">DC</text>
<polyline points="401,951.21 402,951.05 403.01,951.86 404.01,950.77 405.02,951.07 406.02,950.84 407.02,951.48 408.03,951.63 409.03,950.92 410.04,950.77 411.04,951.25 412.04,951.4 413.05,951.79 414.05,950.74 415.06,950.83 416.06,950.92 417.06,950.96 418.07,950.98 419.07,951.56 420.08,951.41 421.08,950.97 422.08,950.92 423.09,951.04 424.09,950.91 425.1,951.61 426.1,951.07 427.11,951.36 428.11,951.68 429.11,951.28 430.12,951.01 431.12,951.76 432.13,951.8 433.13,951.11 434.13,951.36 435.14,951.85 436.14,951.28 437.15,950.97 438.15,950.76 439.15,951.84 440.16,951.66 441.16,951.16 442.17,951.33 443.17,951.32 444.17,951.03 445.18,951.89 446.18,951.49 447.19,950.99 448.19,950.71 449.19,951.27 450.2,951.15 451.2,951.66 452.21,951.56 453.21,951.43 454.21,950.89 455.22,950.89 456.22,951.09 457.23,951.01 458.23,951.74 459.23,951.32 460.24,951.46 461.24,951.89 462.25,951.02 463.25,951.34 464.25,950.88 465.26,951.62 466.26,950.7 467.27,951.69 468.27,951.72 469.27,951.69 470.28,950.8 471.28,951.02 472.29,951.56 473.29,950.82 474.29,951.28 475.3,951.26 476.3,951.85 477.31,951.4 478.31,951.73 479.32,951.06 480.32,951.65 481.32,951.2 482.33,951.8 483.33,950.81 484.34,951.69 485.34,950.95 486.34,951.35 487.35,951.33 488.35,950.89 489.36,951.7 490.36,951.07 491.36,951.07 492.37,950.79 493.37,951.07 494.38,951.26 495.38,951.56 496.38,951.13 497.39,951.52 498.39,950.83 499.4,951.17 500.4,951.25 501,977.56 502.13,984.88 503.27,988.57 504.4,988.91 505.55,988.1 506.7,985.45 507.85,981.12 509,978.08 510.18,974.84 511.35,971.08 512.53,969.21 513.7,966.36 514.8,963.56 515.9,962.12 517,959.97 518.1,958.51 519.2,957.35 520.4,955.75 521.6,954.63 522.8,953.69 524,953.2 525,952.1 526,951.45 527,951.58 528,950.74 529,951.33 530,950.86 531.01,951.04 532.01,950.56 533.02,951.14 534.02,950.25 535.03,950.3 536.03,950.23 537.04,950.92 538.04,950.95 539.05,950.31 540.05,950.57 541.06,951.08 542.06,950.78 543.07,950.17 544.07,950.33 545.08,950.24 546.08,950.19 547.09,950.53 548.09,950.12 549.1,951.13 550.1,950.53 551.1,950.63 552.11,950.79 553.11,950.93 554.12,950.99 555.12,950.46 556.13,950.4 557.13,950.49 558.14,950.01 559.14,950.47 560.15,950.83 561.15,951.16 562.16,950.93 563.16,950.77 564.17,950.71 565.17,950 566.18,950.37 567.18,950.38 568.19,950.75 569.19,950.09 570.2,950.42 571.2,950.57 572.2,950.91 573.21,950.95 574.21,950.69 575.22,950.14 576.22,950.87 577.23,951.03 578.23,950.6 579.24,950.37 580.24,950.54 581.25,950.11 582.25,950.79 583.26,951.12 584.26,950.55 585.27,950.79 586.27,950.93 587.28,950.16 588.28,951.05 589.29,950.67 590.29,950.15 591.3,950 592.3,950.5" fill="none" stroke="#e3ad2c" stroke-width="2.2" stroke-linejoin="round" opacity="0.95"/>
<path d="M400.6,949.7 h4 l2,1.6 l-2,1.6 h-4 z" fill="#e3ad2c"/>
<rect x="256.5" y="856.2" width="198.3" height="140.2" fill="#fff" stroke="none" stroke-width="1" rx="0"/>
<path d="M281.53,866.7V983.9M300.06,866.7V983.9M318.59,866.7V983.9M337.12,866.7V983.9M374.18,866.7V983.9M392.71,866.7V983.9M411.24,866.7V983.9M429.77,866.7V983.9M263,881.35H448.3M263,896H448.3M263,910.65H448.3M263,925.3H448.3M263,939.95H448.3M263,954.6H448.3M263,969.25H448.3" stroke="#f6f6f6" stroke-width="0.7" fill="none"/>
<path d="M355.65,866.7V983.9" stroke="#dcdcdc" stroke-width="0.8" stroke-dasharray="1,1.5" fill="none"/>
<path d="M263,983.9 V866.7 H448.3 V983.9" stroke="#c4c4c4" stroke-width="1" fill="none"/>
<text x="263.3" y="862.6" font-family="'Liberation Sans', sans-serif" font-size="4.4" font-weight="bold" fill="#111" text-anchor="start" textLength="22" lengthAdjust="spacingAndGlyphs" stroke="#111" stroke-width="0.35">GWINSTEK</text>
<rect x="318" y="859.1" width="74" height="6" fill="#fff" stroke="#a8a8a8" stroke-width="0.9" rx="0"/>
<rect x="331" y="859.7" width="49" height="4.6" fill="#f6f2d8" stroke="#444" stroke-width="1" rx="0"/>
<rect x="395.3" y="859.1" width="11.5" height="5.6" fill="#fff" stroke="#f0a0a8" stroke-width="0.8" rx="1"/>
<text x="401" y="863.1" font-family="'Liberation Sans', sans-serif" font-size="3.4" font-weight="bold" fill="#e0303c" text-anchor="middle">Stop</text>
<rect x="409.3" y="859.1" width="9.5" height="5.6" fill="#fff" stroke="#b8dcc0" stroke-width="0.8" rx="1"/>
<path d="M412.5,863.7 v-3 h3 v3" stroke="#8cc8a0" stroke-width="0.6" fill="none"/>
<rect x="421.7" y="858.1" width="26" height="8.2" fill="#fff" stroke="#555" stroke-width="1" rx="0"/>
<text x="446.5" y="861.7" font-family="'Liberation Mono', monospace" font-size="3.4" font-weight="bold" fill="#333" text-anchor="end" textLength="22" lengthAdjust="spacingAndGlyphs">02 Mar 2016</text>
<text x="446.5" y="865.3" font-family="'Liberation Mono', monospace" font-size="3.4" font-weight="bold" fill="#333" text-anchor="end" textLength="14" lengthAdjust="spacingAndGlyphs">18:08:22</text>
<path d="M354.15,866.9 h3 l-1.5,2 z" fill="#e03030"/>
<rect x="416.6" y="979.4" width="31" height="4" fill="#fff" stroke="#999" stroke-width="0.7" rx="1.5"/>
<rect x="417" y="979.6" width="6" height="3.6" fill="#111" stroke="none" stroke-width="1" rx="1.5"/>
<text x="435.5" y="982.5" font-family="'Liberation Sans', sans-serif" font-size="3.4" font-weight="bold" fill="#222" text-anchor="middle" textLength="20" lengthAdjust="spacingAndGlyphs">100.002Hz</text>
<rect x="257.2" y="985.1" width="102.8" height="5.2" fill="#fff" stroke="#b0b0b0" stroke-width="0.9" rx="1.5"/>
<rect x="257.6" y="985.7" width="2.6" height="4" fill="#e3ad2c" stroke="none" stroke-width="1" rx="0"/>
<text x="269" y="988.9" font-family="'Liberation Sans', sans-serif" font-size="2.8" font-weight="bold" fill="#e8c060" text-anchor="middle">50mV</text>
<rect x="362.3" y="985.1" width="40.4" height="5.2" fill="#fff" stroke="#b0b0b0" stroke-width="0.9" rx="1.5"/>
<text x="373" y="989" font-family="'Liberation Sans', sans-serif" font-size="3.4" font-weight="bold" fill="#222" text-anchor="middle">50us</text>
<rect x="380.5" y="985.9" width="2.5" height="3.6" fill="#333" stroke="none" stroke-width="1" rx="1"/>
<text x="393" y="989" font-family="'Liberation Sans', sans-serif" font-size="3.4" font-weight="bold" fill="#222" text-anchor="middle">0.000s</text>
<rect x="405.3" y="984.5" width="42.7" height="10.2" fill="#fff" stroke="#b0b0b0" stroke-width="0.9" rx="1.5"/>
<circle cx="410.5" cy="987.7" r="1.5" fill="#e3ad2c"/>
<text x="428" y="988.9" font-family="'Liberation Sans', sans-serif" font-size="2.8" font-weight="bold" fill="#e8c060" text-anchor="middle">1   26.8mV</text>
<text x="444.5" y="988.9" font-family="'Liberation Sans', sans-serif" font-size="2.8" font-weight="bold" fill="#e8c060" text-anchor="middle">DC</text>
<polyline points="257,924.39 258.01,924.79 259.01,924.94 260.02,924.5 261.02,925.21 262.03,924.53 263.04,924.66 264.04,924.25 265.05,925.27 266.06,924.26 267.06,925.18 268.07,924.75 269.07,924.77 270.08,924.77 271.09,924.42 272.09,925.19 273.1,925.29 274.11,925.08 275.11,924.82 276.12,924.25 277.12,925.09 278.13,924.45 279.14,925.18 280.14,924.39 281.15,924.79 282.16,925.1 283.16,924.32 284.17,924.76 285.18,924.19 286.18,924.14 287.19,924.32 288.19,925.28 289.2,925.23 290.21,924.89 291.21,924.47 292.22,924.91 293.23,924.99 294.23,924.56 295.24,924.81 296.24,925.06 297.25,924.12 298.26,924.34 299.26,924.66 300.27,924.27 301.27,924.56 302.28,924.78 303.29,924.31 304.29,924.72 305.3,924.42 306.31,924.78 307.31,924.5 308.32,924.87 309.32,924.15 310.33,924.91 311.34,924.27 312.34,925.25 313.35,924.82 314.36,924.66 315.36,924.59 316.37,924.85 317.38,924.93 318.38,925.01 319.39,925 320.39,924.68 321.4,925.29 322.41,925.11 323.41,925.13 324.42,924.59 325.43,924.62 326.43,924.78 327.44,925.19 328.44,924.73 329.45,924.73 330.46,924.62 331.46,925.19 332.47,924.48 333.48,924.17 334.48,924.97 335.49,925.18 336.49,924.98 337.5,924.82 338.51,925 339.51,924.47 340.52,924.81 341.53,924.18 342.53,924.25 343.54,924.64 344.54,924.7 345.55,924.58 346.56,924.16 347.56,924.93 348.57,924.73 349.58,924.39 350.58,924.47 351.59,924.57 352.59,924.38 353.6,924.18 354.8,928.6 356,933.56 357.35,936.64 358.7,938.64 359.76,937.88 360.82,937.75 361.88,936.26 362.94,936.05 364,935.08 365.07,934.82 366.13,933.17 367.2,933.32 368.27,931.84 369.33,931.68 370.4,931.54 371.5,929.77 372.6,929.45 373.7,928.92 374.8,928.37 375.9,927.5 377,927.97 378.1,927.32 379.2,926.22 380.3,925.56 381.4,925.28 382.5,924.18 383.6,923.85 384.7,924.78 385.7,924.07 386.71,924.3 387.71,924.82 388.72,924.87 389.72,924.27 390.73,923.95 391.73,924.05 392.74,924.81 393.74,924.78 394.75,923.93 395.75,924.71 396.76,924.12 397.76,924.27 398.77,923.91 399.77,924.76 400.78,924.89 401.78,923.94 402.79,924.46 403.79,923.93 404.8,924.76 405.8,923.76 406.8,923.83 407.81,924.57 408.81,924.08 409.82,924.78 410.82,924.74 411.83,924.56 412.83,923.86 413.84,924.54 414.84,924.83 415.85,924.23 416.85,923.79 417.86,923.97 418.86,924.07 419.87,924.55 420.87,923.94 421.88,923.92 422.88,923.98 423.89,924.5 424.89,924.65 425.9,924.15 426.9,924.49 427.9,924.76 428.91,924.41 429.91,923.97 430.92,924.06 431.92,924.81 432.93,924.5 433.93,924.03 434.94,924.47 435.94,923.81 436.95,924.88 437.95,924.23 438.96,924.33 439.96,924.34 440.97,923.75 441.97,924.42 442.98,924.04 443.98,924 444.99,924.66 445.99,923.8 447,924.04 448,924.3" fill="none" stroke="#e3ad2c" stroke-width="2.2" stroke-linejoin="round" opacity="0.95"/>
<path d="M256,923.1 h4 l2,1.6 l-2,1.6 h-4 z" fill="#e3ad2c"/>
<text x="210.5" y="866.8" font-family="'Liberation Serif', serif" font-size="12.4" font-weight="bold" fill="#111" text-anchor="middle" textLength="68.5" lengthAdjust="spacingAndGlyphs">(Linear)Power</text>
<text x="355.5" y="840.6" font-family="'Liberation Serif', serif" font-size="12.4" font-weight="bold" fill="#111" text-anchor="middle" textLength="72" lengthAdjust="spacingAndGlyphs">(Hybrid)Power</text>
<text x="355.5" y="854.2" font-family="'Liberation Serif', serif" font-size="12.4" font-weight="bold" fill="#111" text-anchor="middle" textLength="50" lengthAdjust="spacingAndGlyphs">PLR 20-18</text>
<text x="499.8" y="866.8" font-family="'Liberation Serif', serif" font-size="12.4" font-weight="bold" fill="#111" text-anchor="middle" textLength="84.5" lengthAdjust="spacingAndGlyphs">(Switching)Power</text>
<text x="355.5" y="1004.5" font-family="'Liberation Serif', serif" font-size="12.4" font-weight="bold" fill="#111" text-anchor="middle" textLength="107" lengthAdjust="spacingAndGlyphs">Load current variation</text>
<text x="355.5" y="1018.1" font-family="'Liberation Serif', serif" font-size="12.4" font-weight="bold" fill="#111" text-anchor="middle" textLength="48" lengthAdjust="spacingAndGlyphs">9A to 18A</text>
<text x="210.8" y="1037.6" font-family="'Liberation Serif', serif" font-size="12.4" font-weight="bold" fill="#111" text-anchor="middle" textLength="109.5" lengthAdjust="spacingAndGlyphs">Load current variation</text>
<text x="210.8" y="1051.2" font-family="'Liberation Serif', serif" font-size="12.4" font-weight="bold" fill="#111" text-anchor="middle" textLength="47" lengthAdjust="spacingAndGlyphs">5A to 10A</text>
<text x="500" y="1037.6" font-family="'Liberation Serif', serif" font-size="12.4" font-weight="bold" fill="#111" text-anchor="middle" textLength="108" lengthAdjust="spacingAndGlyphs">Load current variation</text>
<text x="500" y="1051.2" font-family="'Liberation Serif', serif" font-size="12.4" font-weight="bold" fill="#111" text-anchor="middle" textLength="47" lengthAdjust="spacingAndGlyphs">9A to 18A</text>
<text x="161.5" y="998" font-family="'Liberation Serif', serif" font-size="7.4" font-weight="bold" fill="#e8323c" text-anchor="middle" textLength="61" lengthAdjust="spacingAndGlyphs" stroke="#e8323c" stroke-width="0.2">50mV/div; 50us/div</text>
<text x="355.3" y="971.2" font-family="'Liberation Serif', serif" font-size="7.4" font-weight="bold" fill="#e8323c" text-anchor="middle" textLength="60" lengthAdjust="spacingAndGlyphs" stroke="#e8323c" stroke-width="0.2">50mV/div; 50us/div</text>
<text x="549" y="997.5" font-family="'Liberation Serif', serif" font-size="7.4" font-weight="bold" fill="#e8323c" text-anchor="middle" textLength="64" lengthAdjust="spacingAndGlyphs" stroke="#e8323c" stroke-width="0.2">50mV/div; 500us/div</text>
<path d="M138.3,1177.2V1295.7M156.8,1177.2V1295.7M175.3,1177.2V1295.7M193.8,1177.2V1295.7M230.8,1177.2V1295.7M249.3,1177.2V1295.7M267.8,1177.2V1295.7M286.3,1177.2V1295.7M119.8,1192.01H304.8M119.8,1206.83H304.8M119.8,1221.64H304.8M119.8,1236.45H304.8M119.8,1251.26H304.8M119.8,1266.08H304.8M119.8,1280.89H304.8" stroke="#f6f6f6" stroke-width="0.7" fill="none"/>
<path d="M212.3,1177.2V1295.7" stroke="#dcdcdc" stroke-width="0.8" stroke-dasharray="1,1.5" fill="none"/>
<path d="M119.8,1295.7 V1177.2 H304.8 V1295.7" stroke="#c4c4c4" stroke-width="1" fill="none"/>
<text x="120.1" y="1173.1" font-family="'Liberation Sans', sans-serif" font-size="4.4" font-weight="bold" fill="#111" text-anchor="start" textLength="22" lengthAdjust="spacingAndGlyphs" stroke="#111" stroke-width="0.35">GWINSTEK</text>
<rect x="174.8" y="1169.6" width="74" height="6" fill="#fff" stroke="#a8a8a8" stroke-width="0.9" rx="0"/>
<line x1="183.8" y1="1172.6" x2="239.8" y2="1172.6" stroke="#e9cf7a" stroke-width="0.8" stroke-dasharray="1.5,1"/>
<rect x="210.3" y="1169.2" width="4" height="5.6" fill="#fff" stroke="#444" stroke-width="1" rx="0"/>
<rect x="252.1" y="1169.6" width="11.5" height="5.6" fill="#fff" stroke="#f0a0a8" stroke-width="0.8" rx="1"/>
<text x="257.8" y="1173.6" font-family="'Liberation Sans', sans-serif" font-size="3.4" font-weight="bold" fill="#e0303c" text-anchor="middle">Stop</text>
<rect x="266.1" y="1169.6" width="9.5" height="5.6" fill="#fff" stroke="#b8dcc0" stroke-width="0.8" rx="1"/>
<path d="M269.3,1174.2 v-3 h3 v3" stroke="#8cc8a0" stroke-width="0.6" fill="none"/>
<rect x="278.5" y="1168.6" width="26" height="8.2" fill="#fff" stroke="#555" stroke-width="1" rx="0"/>
<text x="303.3" y="1172.2" font-family="'Liberation Mono', monospace" font-size="3.4" font-weight="bold" fill="#333" text-anchor="end" textLength="22" lengthAdjust="spacingAndGlyphs">02 Mar 2016</text>
<text x="303.3" y="1175.8" font-family="'Liberation Mono', monospace" font-size="3.4" font-weight="bold" fill="#333" text-anchor="end" textLength="14" lengthAdjust="spacingAndGlyphs">18:08:22</text>
<path d="M210.8,1177.4 h3 l-1.5,2 z" fill="#e03030"/>
<rect x="273.4" y="1291.2" width="31" height="4" fill="#fff" stroke="#999" stroke-width="0.7" rx="1.5"/>
<rect x="273.8" y="1291.4" width="6" height="3.6" fill="#111" stroke="none" stroke-width="1" rx="1.5"/>
<text x="292.3" y="1294.3" font-family="'Liberation Sans', sans-serif" font-size="3.4" font-weight="bold" fill="#222" text-anchor="middle" textLength="20" lengthAdjust="spacingAndGlyphs">100.002Hz</text>
<rect x="114" y="1296.9" width="102.8" height="5.2" fill="#fff" stroke="#b0b0b0" stroke-width="0.9" rx="1.5"/>
<rect x="114.4" y="1297.5" width="2.6" height="4" fill="#e3ad2c" stroke="none" stroke-width="1" rx="0"/>
<text x="125.8" y="1300.7" font-family="'Liberation Sans', sans-serif" font-size="2.8" font-weight="bold" fill="#e8c060" text-anchor="middle">50mV</text>
<rect x="219.1" y="1296.9" width="40.4" height="5.2" fill="#fff" stroke="#b0b0b0" stroke-width="0.9" rx="1.5"/>
<text x="229.8" y="1300.8" font-family="'Liberation Sans', sans-serif" font-size="3.4" font-weight="bold" fill="#222" text-anchor="middle">50us</text>
<rect x="237.3" y="1297.7" width="2.5" height="3.6" fill="#333" stroke="none" stroke-width="1" rx="1"/>
<text x="249.8" y="1300.8" font-family="'Liberation Sans', sans-serif" font-size="3.4" font-weight="bold" fill="#222" text-anchor="middle">0.000s</text>
<rect x="262.1" y="1296.3" width="42.7" height="10.2" fill="#fff" stroke="#b0b0b0" stroke-width="0.9" rx="1.5"/>
<circle cx="267.3" cy="1299.5" r="1.5" fill="#e3ad2c"/>
<text x="284.8" y="1300.7" font-family="'Liberation Sans', sans-serif" font-size="2.8" font-weight="bold" fill="#e8c060" text-anchor="middle">1   26.8mV</text>
<text x="301.3" y="1300.7" font-family="'Liberation Sans', sans-serif" font-size="2.8" font-weight="bold" fill="#e8c060" text-anchor="middle">DC</text>
<polyline points="113,1237.77 113.65,1236.19 114.3,1236.24 114.92,1236.9 115.55,1235.68 116.17,1237.67 116.8,1237.8 117.42,1234.79 118.05,1235.93 118.67,1236.66 119.3,1235.42 119.92,1236.91 120.55,1235.48 121.17,1234.38 121.8,1235.37 122.43,1235.57 123.06,1234.66 123.69,1235.49 124.32,1235.8 124.95,1234.94 125.58,1234.85 126.22,1235.81 126.85,1235.26 127.48,1234.71 128.11,1235.94 128.74,1233.54 129.37,1235.3 130,1233.4 130.62,1234.3 131.25,1232.76 131.88,1232.95 132.5,1233.52 133.12,1233.13 133.75,1232.72 134.38,1230.63 135,1230.97 135.64,1230.05 136.29,1231.01 136.93,1230.65 137.57,1229.15 138.21,1230.72 138.86,1230.96 139.5,1230.42 140.12,1231.94 140.75,1230.49 141.38,1231.03 142,1231.25 142.62,1233.31 143.25,1233.75 143.88,1234.4 144.5,1234.49 145.2,1236.38 145.9,1234.48 146.6,1237.27 147.3,1236.54 148,1236.75 148.7,1237.77 149.34,1235.79 149.98,1235.19 150.62,1235.36 151.25,1234.23 151.89,1234.73 152.53,1235.33 153.17,1234.71 153.81,1233.61 154.45,1234.26 155.08,1232.43 155.72,1234.31 156.36,1232.04 157,1231.96 157.6,1232.1 158.2,1234.11 158.8,1234.95 159.4,1235.24 160,1233.48 160.6,1234.95 161.2,1235.23 161.8,1235.21 162.4,1237.89 163,1235.53 163.62,1236.48 164.24,1236.9 164.86,1237.18 165.48,1234.26 166.1,1234.8 166.72,1235.27 167.34,1232.76 167.96,1232.98 168.58,1234.53 169.2,1231.89 169.82,1232.25 170.44,1231.57 171.06,1231.56 171.68,1230.12 172.3,1229.6 172.91,1233.1 173.52,1233.01 174.13,1233.53 174.74,1232.63 175.35,1233.31 175.95,1234.81 176.56,1234.49 177.17,1235.76 177.78,1237.78 178.39,1236.68 179,1237.21 179.6,1239.14 180.2,1238.03 180.8,1236.32 181.4,1237.41 182,1238.15 182.6,1236.38 183.2,1237.23 183.8,1238.28 184.4,1238.79 185,1237.97 185.6,1238.86 186.2,1237.59 186.8,1237.38 187.4,1238.73 188.06,1236.84 188.72,1237.54 189.38,1235.35 190.04,1235.24 190.7,1234.25 191.36,1234.85 192.02,1233.19 192.68,1232.81 193.34,1232.34 194,1232.6 194.62,1232.58 195.24,1233.45 195.85,1235.54 196.47,1235.06 197.09,1236.06 197.71,1234.54 198.33,1235.53 198.95,1235.05 199.56,1237.36 200.18,1236.83 200.8,1237.02 201.44,1236.89 202.08,1238.02 202.71,1238.9 203.35,1239.93 203.99,1242.16 204.62,1242.17 205.26,1241.47 205.9,1242.38 206.6,1238.16 207.3,1236.91 208,1231.58 208.6,1231.6 209.2,1230.27 209.8,1229.62 210.4,1225.76 211,1225.47 211.67,1228.99 212.33,1231.42 213,1237.15 213.6,1236.16 214.2,1238.17 214.8,1238.1 215.4,1237.38 216,1239.08 216.62,1237.69 217.25,1236.17 217.88,1235.58 218.5,1235.99 219.12,1233.37 219.75,1233.29 220.38,1232.7 221,1232.13 221.7,1230.17 222.4,1231.15 223.1,1229.08 223.8,1229.74 224.5,1228.83 225.2,1226.54 225.86,1227.84 226.51,1229.19 227.17,1231.6 227.82,1231.8 228.48,1232.87 229.13,1235.43 229.79,1234.63 230.44,1235.95 231.1,1237.23 231.75,1236.06 232.4,1234.76 233.05,1233.92 233.7,1234.96 234.35,1233.98 235,1233.93 235.64,1233.9 236.29,1231.34 236.93,1231.93 237.57,1232.14 238.21,1229.51 238.86,1230.4 239.5,1229.8 240.11,1231.43 240.72,1231.93 241.33,1230.79 241.94,1232.75 242.55,1231.89 243.15,1233.66 243.76,1234.32 244.37,1234.09 244.98,1235.82 245.59,1236.42 246.2,1237.69 246.84,1236.85 247.49,1236.3 248.13,1236.84 248.78,1236.87 249.42,1235.76 250.07,1237.06 250.71,1235.6 251.36,1234.97 252,1235.53 252.6,1235.86 253.2,1235.13 253.8,1236.52 254.4,1236.96 255,1236.61 255.6,1237.14 256.2,1235.2 256.8,1236.39 257.4,1236.4 258,1235.59 258.6,1236.47 259.2,1235.27 259.8,1236.45 260.4,1236.58 261,1236.08 261.6,1235.51 262.2,1235.15 262.8,1234.31 263.4,1235.14 264,1236.63 264.6,1235.5 265.2,1234.45 265.8,1235.52 266.4,1233.93 267,1234.63 267.6,1234.93 268.2,1235.8 268.8,1233.88 269.4,1234.37 270,1235.33 270.6,1234.97 271.2,1234.7 271.8,1234.84 272.4,1234.37 273,1234.55 273.6,1234.29 274.2,1236.11 274.8,1236.42 275.4,1235.09 276,1236.83 276.6,1234.37 277.2,1234.83 277.8,1236.1 278.4,1235.67 279,1235.98 279.6,1237.99 280.2,1235.67 280.8,1235.96 281.4,1236.23 282,1237.74 282.6,1236.56 283.2,1236.02 283.8,1237.81 284.4,1237.52 285,1237.22 285.61,1237.92 286.23,1238.32 286.84,1237.95 287.45,1238.12 288.06,1237.86 288.68,1238.61 289.29,1238.95 289.9,1236.98 290.52,1236.96 291.13,1238.51 291.74,1236.73 292.35,1237.87 292.97,1237.75 293.58,1237.66 294.19,1238.42 294.81,1237.94 295.42,1235.88 296.03,1237.2 296.65,1236.75 297.26,1236.9 297.87,1236.25 298.48,1235.94 299.1,1237.26 299.71,1236.55 300.32,1235.6 300.94,1235.57 301.55,1235.73 302.16,1235.23 302.77,1236.17 303.39,1234.94 304,1236" fill="none" stroke="#e3ad2c" stroke-width="2" stroke-linejoin="round" opacity="0.95"/>
<path d="M112.8,1235.4 h4 l2,1.6 l-2,1.6 h-4 z" fill="#e3ad2c"/>
<path d="M428.3,1177.6V1295.8M446.8,1177.6V1295.8M465.3,1177.6V1295.8M483.8,1177.6V1295.8M520.8,1177.6V1295.8M539.3,1177.6V1295.8M557.8,1177.6V1295.8M576.3,1177.6V1295.8M409.8,1192.38H594.8M409.8,1207.15H594.8M409.8,1221.92H594.8M409.8,1236.7H594.8M409.8,1251.47H594.8M409.8,1266.25H594.8M409.8,1281.02H594.8" stroke="#f6f6f6" stroke-width="0.7" fill="none"/>
<path d="M502.3,1177.6V1295.8" stroke="#dcdcdc" stroke-width="0.8" stroke-dasharray="1,1.5" fill="none"/>
<path d="M409.8,1295.8 V1177.6 H594.8 V1295.8" stroke="#c4c4c4" stroke-width="1" fill="none"/>
<text x="410.1" y="1173.5" font-family="'Liberation Sans', sans-serif" font-size="4.4" font-weight="bold" fill="#111" text-anchor="start" textLength="22" lengthAdjust="spacingAndGlyphs" stroke="#111" stroke-width="0.35">GWINSTEK</text>
<rect x="464.8" y="1170" width="74" height="6" fill="#fff" stroke="#a8a8a8" stroke-width="0.9" rx="0"/>
<line x1="473.8" y1="1173" x2="529.8" y2="1173" stroke="#e9cf7a" stroke-width="0.8" stroke-dasharray="1.5,1"/>
<rect x="500.3" y="1169.6" width="4" height="5.6" fill="#fff" stroke="#444" stroke-width="1" rx="0"/>
<rect x="542.1" y="1170" width="11.5" height="5.6" fill="#fff" stroke="#f0a0a8" stroke-width="0.8" rx="1"/>
<text x="547.8" y="1174" font-family="'Liberation Sans', sans-serif" font-size="3.4" font-weight="bold" fill="#e0303c" text-anchor="middle">Stop</text>
<rect x="556.1" y="1170" width="9.5" height="5.6" fill="#fff" stroke="#b8dcc0" stroke-width="0.8" rx="1"/>
<path d="M559.3,1174.6 v-3 h3 v3" stroke="#8cc8a0" stroke-width="0.6" fill="none"/>
<rect x="568.5" y="1169" width="26" height="8.2" fill="#fff" stroke="#555" stroke-width="1" rx="0"/>
<text x="593.3" y="1172.6" font-family="'Liberation Mono', monospace" font-size="3.4" font-weight="bold" fill="#333" text-anchor="end" textLength="22" lengthAdjust="spacingAndGlyphs">02 Mar 2016</text>
<text x="593.3" y="1176.2" font-family="'Liberation Mono', monospace" font-size="3.4" font-weight="bold" fill="#333" text-anchor="end" textLength="14" lengthAdjust="spacingAndGlyphs">18:08:22</text>
<path d="M500.8,1177.8 h3 l-1.5,2 z" fill="#e03030"/>
<rect x="563.4" y="1291.3" width="31" height="4" fill="#fff" stroke="#999" stroke-width="0.7" rx="1.5"/>
<rect x="563.8" y="1291.5" width="6" height="3.6" fill="#111" stroke="none" stroke-width="1" rx="1.5"/>
<text x="582.3" y="1294.4" font-family="'Liberation Sans', sans-serif" font-size="3.4" font-weight="bold" fill="#222" text-anchor="middle" textLength="20" lengthAdjust="spacingAndGlyphs">100.002Hz</text>
<rect x="404" y="1297" width="102.8" height="5.2" fill="#fff" stroke="#b0b0b0" stroke-width="0.9" rx="1.5"/>
<rect x="404.4" y="1297.6" width="2.6" height="4" fill="#e3ad2c" stroke="none" stroke-width="1" rx="0"/>
<text x="415.8" y="1300.8" font-family="'Liberation Sans', sans-serif" font-size="2.8" font-weight="bold" fill="#e8c060" text-anchor="middle">50mV</text>
<rect x="509.1" y="1297" width="40.4" height="5.2" fill="#fff" stroke="#b0b0b0" stroke-width="0.9" rx="1.5"/>
<text x="519.8" y="1300.9" font-family="'Liberation Sans', sans-serif" font-size="3.4" font-weight="bold" fill="#222" text-anchor="middle">50us</text>
<rect x="527.3" y="1297.8" width="2.5" height="3.6" fill="#333" stroke="none" stroke-width="1" rx="1"/>
<text x="539.8" y="1300.9" font-family="'Liberation Sans', sans-serif" font-size="3.4" font-weight="bold" fill="#222" text-anchor="middle">0.000s</text>
<rect x="552.1" y="1296.4" width="42.7" height="10.2" fill="#fff" stroke="#b0b0b0" stroke-width="0.9" rx="1.5"/>
<circle cx="557.3" cy="1299.6" r="1.5" fill="#e3ad2c"/>
<text x="574.8" y="1300.8" font-family="'Liberation Sans', sans-serif" font-size="2.8" font-weight="bold" fill="#e8c060" text-anchor="middle">1   26.8mV</text>
<text x="591.3" y="1300.8" font-family="'Liberation Sans', sans-serif" font-size="2.8" font-weight="bold" fill="#e8c060" text-anchor="middle">DC</text>
<polyline points="403,1235.99 403.46,1238.76 403.92,1236.19 404.38,1239.68 404.84,1237.81 405.3,1234.75 405.76,1231.5 406.22,1238.79 406.68,1240.54 407.14,1236.95 407.59,1240.2 408.05,1238.57 408.51,1236.48 408.97,1239.86 409.43,1237.56 409.89,1237.1 410.35,1234.36 410.81,1235.49 411.27,1235.28 411.73,1239.34 412.19,1238.5 412.65,1243.48 413.11,1236.14 413.57,1234.63 414.03,1235.45 414.49,1236.66 414.95,1236.5 415.41,1238.55 415.86,1237.78 416.32,1228.16 416.78,1235.29 417.24,1234 417.7,1237.03 418.16,1235.21 418.62,1238.74 419.08,1234.12 419.54,1234.1 420,1229.33 420.45,1239.03 420.91,1236.72 421.36,1236.22 421.82,1234.85 422.27,1240.52 422.73,1236.44 423.18,1233.95 423.64,1235.47 424.09,1240.42 424.55,1234.79 425,1231.54 425.45,1237.24 425.91,1234.35 426.36,1239.3 426.82,1239.65 427.27,1237.01 427.73,1239.64 428.18,1237.84 428.64,1232.52 429.09,1234.96 429.55,1238.77 430,1238.51 430.45,1237.52 430.91,1236.03 431.36,1236.39 431.82,1234.46 432.27,1236.21 432.73,1237.49 433.18,1236.95 433.64,1236.83 434.09,1240.08 434.55,1236.19 435,1241.24 435.45,1247.29 435.91,1238.57 436.36,1241.4 436.82,1242.15 437.27,1240.93 437.73,1237.48 438.18,1242.58 438.64,1241.55 439.09,1240.26 439.55,1237.27 440,1238.94 440.46,1238.74 440.91,1241.53 441.37,1240.67 441.83,1241.6 442.29,1242.43 442.74,1242.63 443.2,1241.17 443.66,1240.01 444.11,1240.51 444.57,1238.57 445.03,1239.33 445.49,1241.68 445.94,1238.85 446.4,1242.37 446.86,1237.1 447.31,1239.1 447.77,1238.15 448.23,1240.64 448.69,1241.22 449.14,1241.75 449.6,1239.71 450.06,1238.65 450.51,1239.95 450.97,1242.25 451.43,1238 451.89,1237.76 452.34,1238.58 452.8,1241.21 453.26,1237.4 453.71,1240.97 454.17,1238.75 454.63,1240.82 455.09,1242.42 455.54,1238.23 456,1237.62 456.5,1236.84 457,1236.24 457.5,1239.16 458,1235.08 458.5,1233.08 459,1236.22 459.5,1237.56 460,1239.15 460.5,1247.07 461,1244.09 461.5,1246.72 462,1253.2 462.45,1243.76 462.9,1238.99 463.35,1235.86 463.8,1235.19 464.25,1222.86 464.7,1219.69 465.15,1213.34 465.6,1211.76 466.09,1211.42 466.58,1217.59 467.07,1219.49 467.56,1218.04 468.04,1224.06 468.53,1225.99 469.02,1227.94 469.51,1230.77 470,1235.16 470.5,1228.13 471,1236.57 471.5,1241.9 472,1244.19 472.5,1241.67 473,1245.64 473.5,1246.69 473.95,1248.75 474.4,1242.51 474.85,1241.11 475.3,1239.26 475.75,1241.98 476.2,1231.65 476.65,1233.05 477.1,1229.82 477.55,1227.94 478,1224 478.5,1231.65 479,1236.51 479.5,1244.34 480,1248.09 480.5,1246.91 481,1254.19 481.5,1257.24 482,1253.76 482.5,1249.3 483,1246.86 483.5,1235.83 484,1233.34 484.5,1228.54 485,1222.73 485.49,1224.91 485.98,1225.45 486.47,1226.2 486.96,1230.95 487.44,1227.97 487.93,1232.68 488.42,1233.97 488.91,1234.27 489.4,1239.96 489.89,1244.8 490.38,1245.96 490.87,1246.98 491.36,1248.28 491.84,1248.49 492.33,1257.65 492.82,1260.24 493.31,1261.07 493.8,1267.4 494.3,1268.56 494.8,1255.79 495.3,1253.13 495.8,1249.69 496.3,1243.42 496.8,1239.63 497.3,1239.41 497.75,1231.85 498.2,1230.77 498.65,1228.39 499.1,1224.31 499.55,1219.2 500,1218.56 500.45,1211.82 500.9,1207.7 501.35,1197.01 501.8,1193.96 502.3,1200.94 502.8,1206.01 503.3,1209.92 503.8,1210.3 504.3,1214.57 504.8,1219.92 505.3,1225.11 505.84,1231.55 506.38,1242.15 506.92,1250.22 507.46,1258.69 508,1263.47 508.48,1259.71 508.96,1262.02 509.43,1261.89 509.91,1249.16 510.39,1248.38 510.87,1246.38 511.34,1249.54 511.82,1246.14 512.3,1250.23 512.75,1246.34 513.2,1241.2 513.65,1240.29 514.1,1237.41 514.55,1238.3 515,1228.88 515.45,1233.71 515.9,1223.02 516.35,1216.33 516.8,1215.98 517.27,1218.51 517.75,1220.67 518.22,1225.06 518.69,1233.45 519.16,1233.76 519.64,1237.71 520.11,1243.86 520.58,1247.63 521.05,1252.11 521.53,1257.49 522,1261.24 522.45,1255.56 522.9,1252.67 523.35,1248.43 523.8,1246.33 524.25,1240.44 524.7,1241.93 525.15,1237.19 525.6,1233.56 526.05,1230.55 526.5,1224.85 526.97,1227.12 527.44,1228.66 527.91,1227.43 528.38,1224.98 528.85,1228.85 529.32,1230.29 529.78,1235.14 530.25,1232.6 530.72,1232.82 531.19,1236.9 531.66,1237.56 532.13,1239.28 532.6,1239.94 533.09,1235.97 533.57,1234.03 534.06,1232.84 534.54,1230.87 535.03,1225.63 535.51,1219.99 536,1221.47 536.46,1224.33 536.92,1228.03 537.39,1233.98 537.85,1234.9 538.31,1241.94 538.78,1247.34 539.24,1248.29 539.7,1249.25 540.22,1243.37 540.74,1233.63 541.26,1232.1 541.78,1223.93 542.3,1215.47 542.75,1222.02 543.2,1231.2 543.65,1235.98 544.1,1250.04 544.55,1259.9 545,1266.73 545.48,1269.34 545.96,1259.21 546.45,1256.69 546.93,1253.29 547.41,1248.88 547.89,1247.13 548.37,1247.51 548.85,1245.75 549.34,1242.54 549.82,1238.54 550.3,1232.5 550.75,1236.56 551.2,1223.68 551.65,1221.97 552.1,1215.93 552.55,1211.54 553,1216.12 553.48,1209.24 553.96,1222.02 554.43,1221.34 554.91,1231.4 555.39,1234.93 555.87,1236.49 556.34,1243.44 556.82,1246.11 557.3,1249.85 557.78,1254.05 558.26,1255.87 558.75,1256.85 559.23,1256.57 559.71,1258.49 560.19,1258.52 560.67,1259.98 561.15,1261.33 561.64,1260.31 562.12,1262.17 562.6,1264.3 563.09,1257.84 563.58,1256.75 564.07,1247.68 564.56,1247.42 565.04,1242.4 565.53,1236.8 566.02,1230.45 566.51,1218.55 567,1214.59 567.45,1222.21 567.9,1227.12 568.35,1224.87 568.8,1228.12 569.25,1231.8 569.7,1234.05 570.15,1232.14 570.6,1236.46 571.05,1240.37 571.5,1244.09 571.98,1245.56 572.46,1245.86 572.95,1244.61 573.43,1248.42 573.91,1243.83 574.39,1251.41 574.87,1253.94 575.35,1255.2 575.84,1256.8 576.32,1262.01 576.8,1260.11 577.27,1261.81 577.75,1258.99 578.22,1251.97 578.69,1253 579.16,1245.44 579.64,1243.43 580.11,1243.29 580.58,1238.97 581.05,1235.72 581.53,1232.01 582,1232.14 582.48,1232.42 582.96,1227.36 583.45,1228.44 583.93,1227.64 584.41,1221.81 584.89,1225.69 585.37,1219.81 585.85,1218.18 586.34,1219.1 586.82,1217.79 587.3,1215.5 587.75,1217.23 588.2,1225.43 588.65,1227.51 589.1,1227.6 589.55,1232.68 590,1233.72 590.45,1239.84 590.9,1243.86 591.4,1242.25 591.9,1237.35 592.4,1235.66 592.9,1229.62 593.4,1238.13 593.9,1232.23 594.4,1233.73" fill="none" stroke="#e3ad2c" stroke-width="1.1" stroke-linejoin="round" opacity="0.95"/>
<path d="M402.8,1236.4 h4 l2,1.6 l-2,1.6 h-4 z" fill="#e3ad2c"/>
<rect x="257.7" y="1141.2" width="198.4" height="140.7" fill="#fff" stroke="none" stroke-width="1" rx="0"/>
<path d="M282.74,1151.7V1269.4M301.28,1151.7V1269.4M319.82,1151.7V1269.4M338.36,1151.7V1269.4M375.44,1151.7V1269.4M393.98,1151.7V1269.4M412.52,1151.7V1269.4M431.06,1151.7V1269.4M264.2,1166.41H449.6M264.2,1181.12H449.6M264.2,1195.84H449.6M264.2,1210.55H449.6M264.2,1225.26H449.6M264.2,1239.98H449.6M264.2,1254.69H449.6" stroke="#f6f6f6" stroke-width="0.7" fill="none"/>
<path d="M356.9,1151.7V1269.4" stroke="#dcdcdc" stroke-width="0.8" stroke-dasharray="1,1.5" fill="none"/>
<path d="M264.2,1269.4 V1151.7 H449.6 V1269.4" stroke="#c4c4c4" stroke-width="1" fill="none"/>
<text x="264.5" y="1147.6" font-family="'Liberation Sans', sans-serif" font-size="4.4" font-weight="bold" fill="#111" text-anchor="start" textLength="22" lengthAdjust="spacingAndGlyphs" stroke="#111" stroke-width="0.35">GWINSTEK</text>
<rect x="319.2" y="1144.1" width="74" height="6" fill="#fff" stroke="#a8a8a8" stroke-width="0.9" rx="0"/>
<line x1="328.2" y1="1147.1" x2="384.2" y2="1147.1" stroke="#e9cf7a" stroke-width="0.8" stroke-dasharray="1.5,1"/>
<rect x="354.7" y="1143.7" width="4" height="5.6" fill="#fff" stroke="#444" stroke-width="1" rx="0"/>
<rect x="396.5" y="1144.1" width="11.5" height="5.6" fill="#fff" stroke="#f0a0a8" stroke-width="0.8" rx="1"/>
<text x="402.2" y="1148.1" font-family="'Liberation Sans', sans-serif" font-size="3.4" font-weight="bold" fill="#e0303c" text-anchor="middle">Stop</text>
<rect x="410.5" y="1144.1" width="9.5" height="5.6" fill="#fff" stroke="#b8dcc0" stroke-width="0.8" rx="1"/>
<path d="M413.7,1148.7 v-3 h3 v3" stroke="#8cc8a0" stroke-width="0.6" fill="none"/>
<rect x="422.9" y="1143.1" width="26" height="8.2" fill="#fff" stroke="#555" stroke-width="1" rx="0"/>
<text x="447.7" y="1146.7" font-family="'Liberation Mono', monospace" font-size="3.4" font-weight="bold" fill="#333" text-anchor="end" textLength="22" lengthAdjust="spacingAndGlyphs">02 Mar 2016</text>
<text x="447.7" y="1150.3" font-family="'Liberation Mono', monospace" font-size="3.4" font-weight="bold" fill="#333" text-anchor="end" textLength="14" lengthAdjust="spacingAndGlyphs">18:08:22</text>
<path d="M355.4,1151.9 h3 l-1.5,2 z" fill="#e03030"/>
<rect x="417.8" y="1264.9" width="31" height="4" fill="#fff" stroke="#999" stroke-width="0.7" rx="1.5"/>
<rect x="418.2" y="1265.1" width="6" height="3.6" fill="#111" stroke="none" stroke-width="1" rx="1.5"/>
<text x="436.7" y="1268" font-family="'Liberation Sans', sans-serif" font-size="3.4" font-weight="bold" fill="#222" text-anchor="middle" textLength="20" lengthAdjust="spacingAndGlyphs">100.002Hz</text>
<rect x="258.4" y="1270.6" width="102.8" height="5.2" fill="#fff" stroke="#b0b0b0" stroke-width="0.9" rx="1.5"/>
<rect x="258.8" y="1271.2" width="2.6" height="4" fill="#e3ad2c" stroke="none" stroke-width="1" rx="0"/>
<text x="270.2" y="1274.4" font-family="'Liberation Sans', sans-serif" font-size="2.8" font-weight="bold" fill="#e8c060" text-anchor="middle">50mV</text>
<rect x="363.5" y="1270.6" width="40.4" height="5.2" fill="#fff" stroke="#b0b0b0" stroke-width="0.9" rx="1.5"/>
<text x="374.2" y="1274.5" font-family="'Liberation Sans', sans-serif" font-size="3.4" font-weight="bold" fill="#222" text-anchor="middle">50us</text>
<rect x="381.7" y="1271.4" width="2.5" height="3.6" fill="#333" stroke="none" stroke-width="1" rx="1"/>
<text x="394.2" y="1274.5" font-family="'Liberation Sans', sans-serif" font-size="3.4" font-weight="bold" fill="#222" text-anchor="middle">0.000s</text>
<rect x="406.5" y="1270" width="42.7" height="10.2" fill="#fff" stroke="#b0b0b0" stroke-width="0.9" rx="1.5"/>
<circle cx="411.7" cy="1273.2" r="1.5" fill="#e3ad2c"/>
<text x="429.2" y="1274.4" font-family="'Liberation Sans', sans-serif" font-size="2.8" font-weight="bold" fill="#e8c060" text-anchor="middle">1   26.8mV</text>
<text x="445.7" y="1274.4" font-family="'Liberation Sans', sans-serif" font-size="2.8" font-weight="bold" fill="#e8c060" text-anchor="middle">DC</text>
<polyline points="258,1210.39 258.45,1211.24 258.9,1211.87 259.35,1212.76 259.8,1212.48 260.25,1213.37 260.7,1210.75 261.15,1212.3 261.6,1213.9 262.05,1212.94 262.5,1213.64 262.95,1210.94 263.4,1211.82 263.85,1210.8 264.3,1211.39 264.75,1211.1 265.2,1208.9 265.65,1209.15 266.1,1208.97 266.55,1210.67 267,1209.9 267.45,1207.73 267.9,1209.62 268.35,1207.45 268.8,1209 269.25,1207.53 269.7,1207.32 270.15,1210.36 270.6,1208.58 271.05,1208.99 271.5,1211.87 271.95,1211.97 272.4,1210.57 272.85,1213.18 273.3,1212.27 273.75,1213.1 274.2,1211.92 274.65,1214.55 275.1,1213.94 275.55,1214.93 276,1214.72 276.45,1212.75 276.9,1212.8 277.35,1211.94 277.8,1211.59 278.25,1210.98 278.7,1211.35 279.15,1211.91 279.6,1209.57 280.05,1211.33 280.5,1209.86 280.95,1209.44 281.4,1210.79 281.85,1209.5 282.3,1208.84 282.75,1209.33 283.2,1210.08 283.65,1208.14 284.1,1211.28 284.55,1208.51 285,1211.18 285.45,1211.88 285.9,1209.66 286.35,1212.57 286.8,1211.67 287.25,1212.78 287.7,1211.36 288.15,1211.83 288.6,1212.55 289.05,1215.24 289.5,1212.95 289.95,1214.79 290.4,1215.31 290.85,1215.22 291.3,1213.11 291.75,1212.86 292.2,1213.07 292.65,1213.49 293.1,1210.93 293.55,1212.55 294,1212.27 294.45,1212.05 294.9,1209.04 295.35,1211.62 295.8,1208.62 296.25,1209.22 296.7,1209.97 297.15,1210.92 297.6,1209.13 298.05,1211.14 298.5,1210.15 298.95,1209.69 299.4,1210.05 299.85,1210 300.3,1210.09 300.75,1210.75 301.2,1212.9 301.65,1214.28 302.1,1211.97 302.55,1211.91 303,1215.15 303.45,1213.86 303.9,1213.53 304.35,1212.98 304.8,1214.02 305.25,1214.58 305.7,1213.14 306.15,1212.7 306.6,1211.15 307.05,1213.48 307.5,1210.2 307.95,1211.22 308.4,1211.88 308.85,1209.19 309.3,1210.73 309.75,1211.11 310.2,1209.83 310.65,1210.15 311.1,1207.88 311.55,1208.92 312,1208.08 312.45,1210.46 312.9,1208.94 313.35,1209.74 313.8,1211.84 314.25,1211.75 314.7,1212.55 315.15,1211.29 315.6,1211.8 316.05,1212.93 316.5,1212.45 316.95,1212.11 317.4,1212.66 317.85,1211.94 318.3,1212.7 318.75,1214.59 319.2,1214.35 319.65,1213.05 320.1,1212.34 320.55,1211.46 321,1210.24 321.45,1210.38 321.9,1211.54 322.35,1211.35 322.8,1209.28 323.25,1210.22 323.7,1209.81 324.15,1209.25 324.6,1208.92 325.05,1209.07 325.5,1207.73 325.95,1208.84 326.4,1207.59 326.85,1208.43 327.3,1209.59 327.75,1209.65 328.2,1208.74 328.65,1211.21 329.1,1210.67 329.55,1210.84 330,1209.4 330.45,1211.45 330.9,1210.79 331.35,1212.36 331.8,1211.84 332.25,1213.04 332.7,1212.48 333.15,1212.85 333.6,1211.22 334.05,1211.9 334.5,1211.86 334.95,1211.76 335.4,1209.79 335.85,1210.91 336.3,1210.52 336.75,1209.48 337.2,1209.96 337.65,1209.5 338.1,1207.75 338.55,1207.51 339,1206.15 339.45,1208.19 339.9,1208.48 340.35,1207.07 340.8,1207.89 341.25,1208.2 341.7,1208.52 342.15,1207.07 342.6,1209.4 343.05,1209.16 343.5,1209.84 343.95,1209.45 344.4,1210.47 344.85,1211.28 345.3,1211.11 345.75,1211.57 346.2,1209.47 346.65,1209.93 347.1,1210.78 347.55,1211.31 348,1209.72 348.45,1210.92 348.9,1210.39 349.35,1208.1 349.8,1209.04 350.25,1207.8 350.7,1206.79 351.15,1206.6 351.6,1206.78 352.05,1205.98 352.5,1205.72 352.95,1204.98 353.4,1206.21 353.85,1205.88 354.3,1206.64 354.75,1206.69 355.2,1205.75 355.65,1208.14 356.1,1205.58 356.55,1207.25 357,1207.25 357.45,1208.09 357.9,1207.57 358.35,1210.27 358.8,1209.17 359.25,1208.41 359.7,1210.51 360.15,1209.03 360.6,1210.58 361.05,1209.93 361.5,1210.63 361.95,1211.69 362.4,1211.01 362.85,1209.43 363.3,1210.33 363.75,1209.38 364.2,1208.08 364.65,1206.91 365.1,1207.93 365.55,1207.42 366,1208.31 366.45,1208.03 366.9,1206.63 367.35,1205.63 367.8,1207.28 368.25,1204.42 368.7,1204.84 369.15,1206.48 369.6,1206.88 370.05,1205.68 370.5,1207.61 370.95,1208.86 371.4,1207.65 371.85,1208.27 372.3,1208.05 372.75,1208.67 373.2,1211.22 373.65,1209.64 374.1,1211.74 374.55,1211.76 375,1210.83 375.45,1209.75 375.9,1211.97 376.35,1210.25 376.8,1209.75 377.25,1209.14 377.7,1210.91 378.15,1208.93 378.6,1207.86 379.05,1208.05 379.5,1206.51 379.95,1207.74 380.4,1206.84 380.85,1206.09 381.3,1207.46 381.75,1207.49 382.2,1204.85 382.65,1206.57 383.1,1205.88 383.55,1208.23 384,1208.03 384.45,1206.68 384.9,1207.16 385.35,1207.24 385.8,1210.37 386.25,1208.6 386.7,1210.06 387.15,1210.04 387.6,1210.95 388.05,1211.12 388.5,1211.8 388.95,1209.94 389.4,1212.06 389.85,1210.57 390.3,1211.2 390.75,1210.39 391.2,1210 391.65,1210.43 392.1,1209.86 392.55,1209.14 393,1209.96 393.45,1209.07 393.9,1206.92 394.35,1207.27 394.8,1207.63 395.25,1208.88 395.7,1208.64 396.15,1207.47 396.6,1205.79 397.05,1208.34 397.5,1207.41 397.95,1208.15 398.4,1208.92 398.85,1209.07 399.3,1209.02 399.75,1210.86 400.2,1209.65 400.65,1210.13 401.1,1212.04 401.55,1210.35 402,1211.01 402.45,1213 402.9,1210.75 403.35,1213.33 403.8,1212.91 404.25,1212.02 404.7,1211.41 405.15,1212.78 405.6,1212.91 406.05,1210.12 406.5,1210.82 406.95,1210.65 407.4,1210.08 407.85,1209.16 408.3,1208.23 408.75,1209.29 409.2,1209.75 409.65,1207.18 410.1,1207.58 410.55,1209.44 411,1209.41 411.45,1209.14 411.9,1207.32 412.35,1209.85 412.8,1211.03 413.25,1211.51 413.7,1211 414.15,1209.38 414.6,1212.38 415.05,1210.84 415.5,1212.63 415.95,1213.98 416.4,1213.52 416.85,1211.91 417.3,1212.57 417.75,1214.64 418.2,1212.17 418.65,1213.54 419.1,1212.73 419.55,1211.67 420,1212.83 420.45,1210.61 420.9,1210.42 421.35,1210.88 421.8,1209.49 422.25,1209.05 422.7,1210.35 423.15,1210.58 423.6,1210.77 424.05,1208.22 424.5,1209.08 424.95,1208.7 425.4,1209.7 425.85,1209.51 426.3,1211.19 426.75,1209.69 427.2,1209.05 427.65,1211.51 428.1,1210.21 428.55,1212.2 429,1212.24 429.45,1213.96 429.9,1213.2 430.35,1213.74 430.8,1212.86 431.25,1213.97 431.7,1213.12 432.15,1214.72 432.6,1213.9 433.05,1212.52 433.5,1212.61 433.95,1212.74 434.4,1213.56 434.85,1211.37 435.3,1212.66 435.75,1212.04 436.2,1209.79 436.65,1211.26 437.1,1209.06 437.55,1208.86 438,1210.13 438.45,1208.84 438.9,1210.81 439.35,1209.56 439.8,1209.15 440.25,1210.85 440.7,1208.65 441.15,1211.19 441.6,1209.41 442.05,1210.13 442.5,1213.12 442.95,1212.69 443.4,1211.64 443.85,1211.68 444.3,1214.76 444.75,1214.06 445.2,1214.76 445.65,1212.71 446.1,1214.3 446.55,1213.39 447,1212.88 447.45,1212.98 447.9,1213.59 448.35,1212.4 448.8,1212.11 449.25,1210.88" fill="none" stroke="#e3ad2c" stroke-width="2" stroke-linejoin="round" opacity="0.95"/>
<path d="M257.2,1208.4 h4 l2,1.6 l-2,1.6 h-4 z" fill="#e3ad2c"/>
<path d="M267.6,1196.32V1210M264,1210V1222.59M281.9,1196.22V1210M278.3,1210V1221.73M296.2,1196.41V1210M292.6,1210V1222.07M310.5,1195.37V1210M306.9,1210V1222.29M324.7,1195.96V1210M321.1,1210V1221.58M339.9,1193.39V1210M336.3,1210V1220.13M353.3,1193.81V1210M349.7,1210V1220.16M367.6,1196.56V1210M364,1210V1221.92M381.9,1196.04V1210M378.3,1210V1220M396.2,1194.88V1210M392.6,1210V1223.56M410.5,1195.48V1210M406.9,1210V1221.71M423.9,1194.86V1210M420.3,1210V1220.4M438.2,1193.62V1210M434.6,1210V1220.64" stroke="#c9b27a" stroke-width="0.9" fill="none"/>
<text x="211.5" y="1152.3" font-family="'Liberation Serif', serif" font-size="12.4" font-weight="bold" fill="#111" text-anchor="middle" textLength="68.5" lengthAdjust="spacingAndGlyphs">(Linear)Power</text>
<text x="356.8" y="1125.8" font-family="'Liberation Serif', serif" font-size="12.4" font-weight="bold" fill="#111" text-anchor="middle" textLength="72.5" lengthAdjust="spacingAndGlyphs">(Hybrid)Power</text>
<text x="356.8" y="1139.4" font-family="'Liberation Serif', serif" font-size="12.4" font-weight="bold" fill="#111" text-anchor="middle" textLength="50.5" lengthAdjust="spacingAndGlyphs">PLR 20-18</text>
<text x="502" y="1159" font-family="'Liberation Serif', serif" font-size="12.4" font-weight="bold" fill="#111" text-anchor="middle" textLength="85" lengthAdjust="spacingAndGlyphs">(Switching)Power</text>
<text x="356.4" y="1303.2" font-family="'Liberation Serif', serif" font-size="12.4" font-weight="bold" fill="#111" text-anchor="middle" textLength="79" lengthAdjust="spacingAndGlyphs">Vo/Io = 20V/18A</text>
<text x="211.5" y="1329.2" font-family="'Liberation Serif', serif" font-size="12.4" font-weight="bold" fill="#111" text-anchor="middle" textLength="79" lengthAdjust="spacingAndGlyphs">Vo/Io = 20V/10A</text>
<text x="502" y="1329.8" font-family="'Liberation Serif', serif" font-size="12.4" font-weight="bold" fill="#111" text-anchor="middle" textLength="79" lengthAdjust="spacingAndGlyphs">Vo/Io = 20V/18A</text>
<text x="162.2" y="1287.3" font-family="'Liberation Serif', serif" font-size="7.4" font-weight="bold" fill="#e8323c" text-anchor="middle" textLength="57" lengthAdjust="spacingAndGlyphs" stroke="#e8323c" stroke-width="0.2">2mV/div; 10us/div</text>
<text x="356.5" y="1260.8" font-family="'Liberation Serif', serif" font-size="7.4" font-weight="bold" fill="#e8323c" text-anchor="middle" textLength="57" lengthAdjust="spacingAndGlyphs" stroke="#e8323c" stroke-width="0.2">2mV/div; 10us/div</text>
<text x="550.9" y="1287" font-family="'Liberation Serif', serif" font-size="7.4" font-weight="bold" fill="#e8323c" text-anchor="middle" textLength="57" lengthAdjust="spacingAndGlyphs" stroke="#e8323c" stroke-width="0.2">2mV/div; 10us/div</text>
<path d="M794.53,580.2V733M819.56,580.2V733M844.59,580.2V733M869.62,580.2V733M894.65,580.2V733M919.68,580.2V733M944.71,580.2V733M969.74,580.2V733M994.77,580.2V733M769.5,599.3H1019.8M769.5,618.4H1019.8M769.5,637.5H1019.8M769.5,656.6H1019.8M769.5,675.7H1019.8M769.5,694.8H1019.8M769.5,713.9H1019.8" stroke="#e4e4e4" stroke-width="0.8" stroke-dasharray="1,4" fill="none"/>
<path d="M894.65,580.2V733 M769.5,656.6H1019.8" stroke="#cfcfcf" stroke-width="0.9" stroke-dasharray="1,3" fill="none"/>
<path d="M769.5,733 V580.2 H1019.8 V733" stroke="#bdbdbd" stroke-width="1" stroke-dasharray="2,1" fill="none"/>
<text x="769.5" y="573.4" font-family="'Liberation Sans', sans-serif" font-size="5.6" font-weight="bold" fill="#111" text-anchor="start" textLength="30.04" lengthAdjust="spacingAndGlyphs" stroke="#111" stroke-width="0.45">GWINSTEK</text>
<rect x="844.34" y="568.43" width="99.62" height="9.32" fill="#fff" stroke="#555" stroke-width="1" rx="0"/>
<rect x="861.11" y="569.81" width="66.58" height="6.72" fill="#fff" stroke="#333" stroke-width="1.3" rx="0"/>
<polyline points="862.11,573.17 863.19,574.04 864.26,574.46 865.34,574.22 866.42,573.44 867.49,572.52 868.57,571.93 869.64,571.98 870.72,572.64 871.8,573.57 872.87,574.3 873.95,574.44 875.03,573.94 876.1,573.04 877.18,572.21 878.25,571.87 879.33,572.21 880.41,573.04 881.48,573.94 882.56,574.44 883.64,574.3 884.71,573.57 885.79,572.64 886.87,571.98 887.94,571.93 889.02,572.52 890.09,573.44 891.17,574.22 892.25,574.46 893.32,574.04 894.4,573.17 895.48,572.3 896.55,571.88 897.63,572.12 898.71,572.9 899.78,573.82 900.86,574.41 901.93,574.36 903.01,573.7 904.09,572.77 905.16,572.05 906.24,571.9 907.32,572.41 908.39,573.31 909.47,574.14 910.54,574.47 911.62,574.14 912.7,573.31 913.77,572.41 914.85,571.9 915.93,572.05 917,572.77 918.08,573.7 919.16,574.36 920.23,574.41 921.31,573.82 922.38,572.9 923.46,572.12 924.54,571.88 925.61,572.3 926.69,573.17" fill="none" stroke="#777" stroke-width="0.6" stroke-linejoin="round"/>
<rect x="947.46" y="568.43" width="17.02" height="9.32" fill="#fff" stroke="#f09aa2" stroke-width="0.9" rx="1.5"/>
<text x="955.97" y="574.85" font-family="'Liberation Sans', sans-serif" font-size="5" font-weight="bold" fill="#e0303c" text-anchor="middle">Stop</text>
<rect x="967.24" y="568.43" width="12.26" height="9.32" fill="#fff" stroke="#b5dcc0" stroke-width="0.9" rx="1.5"/>
<path d="M970.49,575.62 v-4 h5.51 v4" stroke="#70b888" stroke-width="0.7" fill="none"/>
<rect x="984.51" y="567.06" width="36.04" height="12.53" fill="#fff" stroke="#222" stroke-width="1.3" rx="0"/>
<text x="1017.3" y="572.25" font-family="'Liberation Mono', monospace" font-size="5.4" font-weight="bold" fill="#222" text-anchor="end" textLength="31.29" lengthAdjust="spacingAndGlyphs">08 Mar 2016</text>
<text x="1017.3" y="577.6" font-family="'Liberation Mono', monospace" font-size="5.4" font-weight="bold" fill="#222" text-anchor="end" textLength="21.28" lengthAdjust="spacingAndGlyphs">19:37:05</text>
<path d="M893.15,579.7 h3 l-1.5,2.2 z" fill="#f08080"/>
<path d="M769,579.2 l3,1.5 l-3,1.5 z" fill="#e03030"/>
<rect x="975.75" y="726.74" width="44.8" height="5.2" fill="#fff" stroke="#888" stroke-width="0.8" rx="2"/>
<rect x="976.05" y="727.14" width="10.51" height="4.4" fill="#111" stroke="none" stroke-width="1" rx="2.5"/>
<text x="1006.91" y="730.73" font-family="'Liberation Sans', sans-serif" font-size="4.6" font-weight="bold" fill="#222" text-anchor="middle" textLength="21.28" lengthAdjust="spacingAndGlyphs">607.7019Hz</text>
<rect x="769.5" y="733.76" width="250.3" height="5.5" fill="#fff" stroke="#888" stroke-width="0.9" rx="1.5"/>
<rect x="769.5" y="734.06" width="8.51" height="4.9" fill="#1a1a1a" stroke="none" stroke-width="1" rx="1"/>
<text x="773.76" y="738.06" font-family="'Liberation Sans', sans-serif" font-size="4.6" font-weight="bold" fill="#fff" text-anchor="middle">R1</text>
<text x="780.26" y="737.96" font-family="'Liberation Sans', sans-serif" font-size="4.2" font-weight="bold" fill="#333" text-anchor="start" textLength="11.26" lengthAdjust="spacingAndGlyphs">50mV</text>
<text x="798.28" y="737.96" font-family="'Liberation Sans', sans-serif" font-size="4.2" font-weight="bold" fill="#333" text-anchor="start" textLength="12.52" lengthAdjust="spacingAndGlyphs">100us</text>
<rect x="832.58" y="734.06" width="8.51" height="4.9" fill="#1a1a1a" stroke="none" stroke-width="1" rx="1"/>
<text x="836.83" y="738.06" font-family="'Liberation Sans', sans-serif" font-size="4.6" font-weight="bold" fill="#fff" text-anchor="middle">R2</text>
<text x="843.34" y="737.96" font-family="'Liberation Sans', sans-serif" font-size="4.2" font-weight="bold" fill="#333" text-anchor="start" textLength="11.26" lengthAdjust="spacingAndGlyphs">50mV</text>
<text x="861.36" y="737.96" font-family="'Liberation Sans', sans-serif" font-size="4.2" font-weight="bold" fill="#333" text-anchor="start" textLength="12.52" lengthAdjust="spacingAndGlyphs">100us</text>
<rect x="894.4" y="734.06" width="8.51" height="4.9" fill="#1a1a1a" stroke="none" stroke-width="1" rx="1"/>
<text x="898.65" y="738.06" font-family="'Liberation Sans', sans-serif" font-size="4.6" font-weight="bold" fill="#fff" text-anchor="middle">R3</text>
<text x="905.16" y="737.96" font-family="'Liberation Sans', sans-serif" font-size="4.2" font-weight="bold" fill="#333" text-anchor="start" textLength="11.26" lengthAdjust="spacingAndGlyphs">50mV</text>
<text x="923.18" y="737.96" font-family="'Liberation Sans', sans-serif" font-size="4.2" font-weight="bold" fill="#333" text-anchor="start" textLength="12.52" lengthAdjust="spacingAndGlyphs">100us</text>
<rect x="761.24" y="741.1" width="140.17" height="6.57" fill="#fff" stroke="#999" stroke-width="0.9" rx="2"/>
<rect x="903.16" y="741.1" width="56.32" height="6.57" fill="#fff" stroke="#999" stroke-width="0.9" rx="2"/>
<text x="917.18" y="746.17" font-family="'Liberation Sans', sans-serif" font-size="4.6" font-weight="bold" fill="#333" text-anchor="middle">100us</text>
<circle cx="928.44" cy="744.38" r="2.2" fill="#222"/>
<text x="944.71" y="746.17" font-family="'Liberation Sans', sans-serif" font-size="4.6" font-weight="bold" fill="#333" text-anchor="middle">299.8us</text>
<rect x="961.48" y="741.1" width="59.07" height="13.14" fill="#fff" stroke="#999" stroke-width="0.9" rx="2"/>
<circle cx="969.74" cy="744.9" r="2" fill="#f2c040"/>
<text x="978.5" y="746.1" font-family="'Liberation Sans', sans-serif" font-size="4.2" font-weight="bold" fill="#f0c860" text-anchor="middle">1</text>
<text x="994.77" y="746.1" font-family="'Liberation Sans', sans-serif" font-size="4.2" font-weight="bold" fill="#f0c860" text-anchor="middle">7.20mV</text>
<text x="1017.3" y="746.1" font-family="'Liberation Sans', sans-serif" font-size="4.2" font-weight="bold" fill="#f0c860" text-anchor="end">DC</text>
<polyline points="769.5,630.08 770.5,630.62 771.5,629.62 772.5,630.78 773.5,629.64 774.5,629.53 775.5,630.63 776.5,630.06 777.5,631.32 778.5,629.94 779.5,630.38 780.5,629.44 781.5,629.87 782.5,630.47 783.5,630.75 784.5,630.49 785.5,631.51 786.5,629.57 787.5,631.51 788.5,629.7 789.5,631.82 790.5,630.66 791.5,630.36 792.5,630.89 793.5,631.55 794.5,631.81 795.5,630.37 796.5,629.33 797.5,629.7 798.5,631.43 799.5,631.21 800.5,631.15 801.5,629.71 802.5,630.68 803.5,629.37 804.5,629.59 805.5,630.08 806.5,631.81 807.5,630.97 808.5,631.5 809.5,629.42 810.5,630.38 811.5,629.5 812.5,629.98 813.5,629.59 814.5,631.69 815.5,630.15 816.5,630.57 817.5,631 818.5,612 818.5,612.93 819.5,598.07 821,592.96 821.83,593.37 822.67,595.62 823.5,595.75 824.44,597.14 825.38,600.17 826.32,600.91 827.26,602.61 828.2,603.33 829.03,603.38 829.87,602.92 830.7,602.81 831.53,602.51 832.37,601.13 833.2,602.56 834.03,600.21 834.87,600.84 835.7,600.41 836.53,599.6 837.37,598.77 838.2,598.14 839.04,598.49 839.88,598.06 840.72,598.18 841.56,597.29 842.4,598.26 843.24,597.37 844.08,595.96 844.92,596.66 845.76,597.76 846.6,595.21 847.44,596.39 848.28,597.04 849.12,595.39 849.96,595.74 850.8,594.99 851.64,594.62 852.48,595.16 853.32,594.92 854.16,594.07 855,594.32 855.84,594.18 856.68,594.57 857.52,592.72 858.36,592.65 859.2,592.87 860.04,592.76 860.88,593.88 861.72,592.86 862.56,593.78 863.4,592.57 864.24,592.18 865.08,593.01 865.92,591.48 866.76,593.53 867.6,593.06 868.44,591.75 869.28,591.63 870.12,592.74 870.96,592.59 871.8,592.16 872.64,590.69 873.48,592.33 874.32,590.57 875.16,591.92 876,591.73 876.85,592.61 877.69,591.91 878.54,590.42 879.39,592.6 880.23,592.15 881.08,591.73 881.93,590.34 882.77,592.09 883.62,591.32 884.47,591.94 885.31,592.67 886.16,592.5 887.01,590.48 887.85,592.18 888.7,591.36 889.52,592.12 890.34,591.26 891.15,591.49 891.97,591.55 892.79,590.89 893.61,591.5 894.42,592.64 895.24,591.2 896.06,591.48 896.88,593.38 897.69,593.17 898.51,593.08 899.33,592.24 900.15,592.46 900.96,593.13 901.78,594.88 902.6,594.14 903.44,595.24 904.28,593.79 905.12,594.56 905.96,595.15 906.8,596.21 907.64,594.83 908.48,596.99 909.32,596.39 910.16,595.71 911,597.05 911.84,597.3 912.68,598.4 913.52,599.39 914.36,598.72 915.2,599.55 916.04,599.19 916.88,600.5 917.72,599.25 918.56,601.16 919.4,600.15 920.24,601.54 921.08,601 921.92,601.73 922.76,601.68 923.6,602.52 924.44,603.48 925.28,603.7 926.12,603.77 926.96,604.6 927.8,605.62 928.64,604.84 929.48,605.77 930.32,605.91 931.16,607.49 932,606.31 932.84,607.59 933.68,606.86 934.52,607.32 935.36,608.83 936.2,608.84 937.04,608.45 937.88,608.36 938.72,610.56 939.56,609.85 940.4,611.02 941.24,610.69 942.08,611.49 942.92,611.71 943.76,613.06 944.6,613.25 945.44,612.51 946.28,612.92 947.12,612.65 947.96,614.24 948.8,613 949.64,613.82 950.48,615.43 951.32,613.79 952.16,615.68 953,615.66 953.84,615.91 954.68,615.66 955.52,615.5 956.36,617.69 957.2,617.51 958.04,617.87 958.88,616.42 959.72,618.32 960.56,617.21 961.4,617.41 962.24,618.45 963.08,618.87 963.92,617.93 964.76,619.71 965.6,619.5 966.44,620.48 967.28,620.76 968.12,620.41 968.96,619.84 969.8,621.46 970.64,621.11 971.48,620.28 972.32,621.84 973.16,621.73 974,620.82 974.84,620.98 975.68,620.63 976.52,622.08 977.36,621.6 978.2,621.9 979.04,622.02 979.88,621.94 980.72,623.01 981.56,622.72 982.4,622.97 983.24,623.18 984.08,623.96 984.92,625.05 985.76,623.56 986.6,625.45 987.44,625.65 988.28,625.27 989.12,625.32 989.96,625.97 990.8,625.68 991.65,626.17 992.49,626.97 993.34,626.8 994.19,625.74 995.03,625.41 995.88,627.69 996.73,626.48 997.57,627.66 998.42,626.49 999.27,627.18 1000.11,627.14 1000.96,628.16 1001.81,628.84 1002.65,627.95 1003.5,628.26 1004.32,627.9 1005.13,627.78 1005.94,629.66 1006.76,627.81 1007.58,629.96 1008.39,629.44 1009.2,628.19 1010.02,630.34 1010.84,628.59 1011.65,629.86 1012.46,628.95 1013.28,631.19 1014.1,629.72 1014.91,631.23 1015.72,629.45 1016.54,631.06 1017.36,629.78 1018.17,629.85 1018.98,631.31 1019.8,631.3" fill="none" stroke="#111" stroke-width="1.9" stroke-linejoin="round"/>
<polyline points="769.5,667.88 770.3,667.59 771.1,667.76 771.9,667.68 772.7,667.42 773.5,666.98 774.3,667.43 775.1,667.08 775.9,667.43 776.7,667.25 777.5,667.4 778.3,667.1 779.1,667.61 779.9,667.32 780.7,667.39 781.5,666.98 782.3,667.39 783.1,667.46 783.9,667.87 784.7,667.46 785.5,667.03 786.3,667.2 787.1,667.24 787.9,667.6 788.7,667.84 789.5,667.88 790.3,667.85 791.1,667.83 791.9,667.76 792.7,667.83 793.5,666.92 794.3,667.39 795.1,667.49 795.9,667.59 796.7,667.51 797.5,667.51 798.3,667.83 799.1,666.99 799.9,667.42 800.7,667.86 801.5,666.93 802.3,667.01 803.1,667.77 803.9,667.86 804.7,666.92 805.5,666.93 806.3,667.73 807.1,667.59 807.9,667.42 808.7,667.48 809.5,667.66 810.3,667.71 811.1,666.9 811.9,666.97 812.7,667.69 813.5,667.88 814.3,667.73 815.1,667.31 815.9,667.24 816.7,667.25 817.5,666.91 819,655.27 820.1,650.15 821.2,648.39 822.13,648.52 823.07,648.79 824,649.67 824.8,649.97 825.6,650.39 826.4,651.77 827.2,651.85 828,652.65 828.83,653.71 829.67,655.03 830.5,656.51 831.33,657.24 832.17,658.25 833,659.65 833.87,660.2 834.73,661.39 835.6,662.04 836.47,663.54 837.33,663.67 838.2,664.48 839.07,665.24 839.93,665.85 840.8,666.73 841.64,667.08 842.49,667.6 843.33,667.73 844.18,667.62 845.02,668.62 845.87,668.37 846.71,668.54 847.56,668.87 848.4,669.49 849.24,668.83 850.09,668.72 850.93,669.13 851.78,669.03 852.62,668.24 853.47,667.81 854.31,668.29 855.16,668.16 856,667.64 856.82,668.05 857.65,667.6 858.47,667.47 859.29,667.74 860.12,667.85 860.94,667.55 861.76,667.87 862.59,667.04 863.41,667.5 864.24,667.36 865.06,667.02 865.88,667.85 866.71,667.07 867.53,667.12 868.35,667.78 869.18,667.86 870,667.83 870.8,667.24 871.6,667.83 872.4,667.04 873.2,667.61 874.01,667.85 874.81,667.09 875.61,667.04 876.41,667.58 877.21,667.78 878.01,667.63 878.81,667.85 879.61,667.35 880.41,667.27 881.21,667.02 882.02,667.17 882.82,667.84 883.62,666.97 884.42,667.08 885.22,667.25 886.02,666.95 886.82,667.21 887.62,667.08 888.42,667.02 889.23,667.43 890.03,667.44 890.83,667.47 891.63,667.66 892.43,667.43 893.23,667.85 894.03,666.98 894.83,667.12 895.63,666.98 896.44,667.21 897.24,667.66 898.04,667.82 898.84,667.4 899.64,667.06 900.44,667.23 901.24,667.47 902.04,667.19 902.84,667.69 903.64,667.87 904.45,667.36 905.25,667.5 906.05,667.75 906.85,667.37 907.65,667.09 908.45,667.84 909.25,667.88 910.05,666.92 910.85,667.66 911.66,667.3 912.46,666.95 913.26,667.06 914.06,667.07 914.86,667.64 915.66,667.11 916.46,666.92 917.26,667.12 918.06,667.7 918.87,667.4 919.67,667.55 920.47,667.37 921.27,667.08 922.07,666.92 922.87,667.2 923.67,666.94 924.47,667.16 925.27,667.52 926.07,667.27 926.88,667.37 927.68,667.52 928.48,667.22 929.28,667.26 930.08,667.78 930.88,667.48 931.68,667.32 932.48,667.44 933.28,667.36 934.09,667.23 934.89,667.81 935.69,667.13 936.49,667.84 937.29,667.75 938.09,667.78 938.89,667.06 939.69,667.41 940.49,667.88 941.3,667.19 942.1,667.07 942.9,667.62 943.7,667.14 944.5,667.48 945.3,667.06 946.1,667.85 946.9,667.18 947.7,667 948.5,667.59 949.31,667.25 950.11,667.46 950.91,667.4 951.71,667.82 952.51,667.41 953.31,667.28 954.11,666.9 954.91,667.4 955.71,667.17 956.52,667.47 957.32,667.53 958.12,667.36 958.92,666.99 959.72,667.4 960.52,667.38 961.32,667.54 962.12,667.87 962.92,667.18 963.73,667.34 964.53,666.98 965.33,667.7 966.13,667.13 966.93,667.73 967.73,667.7 968.53,667.15 969.33,667.8 970.13,667.4 970.93,667.33 971.74,667.46 972.54,667.85 973.34,667.39 974.14,667.38 974.94,667.19 975.74,667.74 976.54,667.4 977.34,667.24 978.14,667.1 978.95,667.12 979.75,667.73 980.55,667.7 981.35,667.88 982.15,667.82 982.95,667.59 983.75,667.7 984.55,667.61 985.35,667.71 986.16,667.7 986.96,667.08 987.76,667.71 988.56,667.2 989.36,667.14 990.16,667.82 990.96,666.92 991.76,667.41 992.56,667.24 993.36,667.69 994.17,667.51 994.97,667.81 995.77,667.83 996.57,667.54 997.37,666.96 998.17,667.57 998.97,667.01 999.77,667.88 1000.57,667.77 1001.38,667.21 1002.18,667.09 1002.98,667.59 1003.78,667.66 1004.58,667.89 1005.38,667.52 1006.18,667.03 1006.98,667.63 1007.78,666.96 1008.59,667.77 1009.39,667.67 1010.19,667.69 1010.99,667.77 1011.79,667.47 1012.59,667.84 1013.39,667.54 1014.19,667.39 1014.99,667.28 1015.79,667.25 1016.6,666.92 1017.4,667.06 1018.2,667.7 1019,667.13 1019.8,667.4" fill="none" stroke="#111" stroke-width="2.6" stroke-linejoin="round"/>
<polyline points="769.5,719.65 770.3,719.84 771.1,719.71 771.9,719.43 772.7,719.11 773.5,719.04 774.3,718.9 775.1,719.64 775.9,719.7 776.7,720.11 777.5,719.13 778.3,720.08 779.1,720.06 779.9,719.06 780.7,720.12 781.5,719.59 782.3,720.14 783.1,719.84 783.9,719.13 784.7,719.05 785.5,719.44 786.3,719.38 787.1,718.66 787.9,719.98 788.7,719.46 789.5,719.36 790.3,719.79 791.1,719 791.9,718.92 792.7,719.53 793.5,718.99 794.3,719.12 795.1,718.71 795.9,718.68 796.7,719.17 797.5,719.44 798.3,720.12 799.1,719.62 799.9,719.26 800.7,719.25 801.5,718.98 802.3,719.36 803.1,720.13 803.9,718.8 804.7,719.29 805.5,719.7 806.3,719.82 807.1,719.49 807.9,719.63 808.7,720.1 809.5,720.04 810.3,719 811.1,719.47 811.9,720.2 812.7,719.44 813.5,718.9 814.3,719.83 815.1,718.69 815.9,718.84 816.7,719.48 817.5,719.04 818.7,708.35 819.7,701.38 820.7,697.21 821.85,700.03 823,703.24 823.9,705.43 824.8,707.07 825.7,708.69 826.53,709.43 827.37,711.21 828.2,713.06 829.03,713.89 829.87,713.29 830.7,713.81 831.54,714.48 832.38,715.49 833.23,715.37 834.07,715.13 834.91,715.84 835.75,716.29 836.59,716.75 837.43,716.37 838.27,716.91 839.12,717.09 839.96,717.09 840.8,716.27 841.64,717.42 842.47,716.57 843.31,716.53 844.15,717.27 844.98,716.61 845.82,716.76 846.65,717.32 847.49,717.48 848.33,716.94 849.16,718.32 850,718.16 850.8,717.58 851.6,717.75 852.4,717.32 853.2,718.39 854,717.01 854.81,717.31 855.61,717.18 856.41,718.21 857.21,717.65 858.01,717.49 858.81,717.48 859.61,718.26 860.41,717.26 861.21,718.12 862.01,717.99 862.82,717.57 863.62,717.44 864.42,717.56 865.22,717.59 866.02,717.37 866.82,717.87 867.62,717.53 868.42,717.36 869.22,718.12 870.02,717.61 870.82,717.64 871.63,718.3 872.43,717.62 873.23,717.5 874.03,718.33 874.83,718.46 875.63,718.16 876.43,717.55 877.23,717.98 878.03,718.09 878.83,717.39 879.63,718.07 880.44,718.44 881.24,717.97 882.04,717.99 882.84,717.62 883.64,717.97 884.44,717.29 885.24,718.16 886.04,717.79 886.84,718.5 887.64,717.48 888.45,718.08 889.25,716.97 890.05,717.61 890.85,718.17 891.65,717.36 892.45,717.93 893.25,717.3 894.05,717.59 894.85,718.54 895.65,717.27 896.45,718.42 897.26,717.05 898.06,717.89 898.86,718.28 899.66,718.3 900.46,717.59 901.26,717.91 902.06,718.11 902.86,718.19 903.66,718.17 904.46,717.9 905.27,717.38 906.07,718.1 906.87,717.87 907.67,717.85 908.47,718.56 909.27,717.2 910.07,718.23 910.87,717.5 911.67,718.15 912.47,718.51 913.27,717.43 914.08,717.9 914.88,717.84 915.68,717.78 916.48,717.26 917.28,717.99 918.08,718.42 918.88,718.06 919.68,717.46 920.48,718.29 921.28,717.67 922.08,717.23 922.89,717.97 923.69,717.74 924.49,717.85 925.29,718.59 926.09,717.92 926.89,718.53 927.69,717.57 928.49,718.22 929.29,717.13 930.09,717.49 930.9,718.12 931.7,718.12 932.5,718.34 933.3,717.62 934.1,717.45 934.9,717.59 935.7,717.87 936.5,717.05 937.3,717.62 938.1,718.07 938.9,717.26 939.71,717.52 940.51,718.42 941.31,718.51 942.11,717.42 942.91,717.31 943.71,717.21 944.51,717.16 945.31,718.29 946.11,718.21 946.91,717.45 947.72,717.81 948.52,718.14 949.32,717.07 950.12,718.34 950.92,718.4 951.72,717.37 952.52,718.16 953.32,718.15 954.12,717.57 954.92,718.44 955.72,717.38 956.53,717.79 957.33,717.54 958.13,717.74 958.93,718.33 959.73,717.95 960.53,718.01 961.33,718.62 962.13,717.39 962.93,717.39 963.73,718.03 964.53,717.28 965.34,718.58 966.14,717.59 966.94,717.75 967.74,717.73 968.54,718.37 969.34,718.51 970.14,718.13 970.94,717.32 971.74,717.61 972.54,718.18 973.35,717.39 974.15,718.46 974.95,718.44 975.75,717.41 976.55,717.63 977.35,717.42 978.15,718.2 978.95,717.13 979.75,718.16 980.55,717.15 981.35,718.4 982.16,717.92 982.96,717.99 983.76,717.21 984.56,717.13 985.36,717.62 986.16,718.63 986.96,718.02 987.76,718.44 988.56,717.16 989.36,717.22 990.17,717.09 990.97,718.18 991.77,717.34 992.57,717.5 993.37,718.13 994.17,718.18 994.97,717.58 995.77,717.81 996.57,717.53 997.37,717.97 998.17,717.64 998.98,717.65 999.78,717.47 1000.58,717.54 1001.38,717.49 1002.18,717.1 1002.98,717.57 1003.78,718.02 1004.58,717.51 1005.38,717.26 1006.18,718.43 1006.98,717.83 1007.79,717.9 1008.59,717.58 1009.39,718.5 1010.19,718.29 1010.99,718.08 1011.79,718.14 1012.59,718.2 1013.39,717.89 1014.19,717.75 1014.99,717.72 1015.8,717.9 1016.6,717.84 1017.4,717.94 1018.2,717.95 1019,718.36 1019.8,717.9" fill="none" stroke="#111" stroke-width="2.1" stroke-linejoin="round"/>
<path d="M762,629.6 h4.5 l2,2.2 l-2,2.2 h-4.5 z" fill="#fff" stroke="#222" stroke-width="0.8"/>
<text x="764.5" y="633.4" font-family="'Liberation Sans', sans-serif" font-size="4.2" font-weight="bold" fill="#222" text-anchor="middle">1</text>
<path d="M762,665.4 h4.5 l2,2.2 l-2,2.2 h-4.5 z" fill="#111"/>
<path d="M762,718 h4.5 l2,2.2 l-2,2.2 h-4.5 z" fill="#fff" stroke="#222" stroke-width="0.8"/>
<text x="764.5" y="721.8" font-family="'Liberation Sans', sans-serif" font-size="4.2" font-weight="bold" fill="#222" text-anchor="middle">3</text>
<text x="794.5" y="622.67" font-family="'Liberation Serif', serif" font-size="6.2" font-weight="bold" fill="#3fb27a" text-anchor="middle" textLength="47" lengthAdjust="spacingAndGlyphs">(Switching)Power</text>
<text x="882" y="623.47" font-family="'Liberation Serif', serif" font-size="6.2" font-weight="bold" fill="#3fb27a" text-anchor="middle" textLength="60" lengthAdjust="spacingAndGlyphs">Load current variation</text>
<text x="882" y="630.77" font-family="'Liberation Serif', serif" font-size="6.2" font-weight="bold" fill="#3fb27a" text-anchor="middle" textLength="26" lengthAdjust="spacingAndGlyphs">18A to 9A</text>
<text x="793.5" y="656.17" font-family="'Liberation Serif', serif" font-size="6.2" font-weight="bold" fill="#6e5bb0" text-anchor="middle" textLength="39" lengthAdjust="spacingAndGlyphs">(Hybrid)Power</text>
<text x="793" y="663.67" font-family="'Liberation Serif', serif" font-size="6.2" font-weight="bold" fill="#6e5bb0" text-anchor="middle" textLength="28" lengthAdjust="spacingAndGlyphs">PLR 20-18</text>
<text x="882" y="656.17" font-family="'Liberation Serif', serif" font-size="6.2" font-weight="bold" fill="#6e5bb0" text-anchor="middle" textLength="60" lengthAdjust="spacingAndGlyphs">Load current variation</text>
<text x="882" y="663.17" font-family="'Liberation Serif', serif" font-size="6.2" font-weight="bold" fill="#6e5bb0" text-anchor="middle" textLength="26" lengthAdjust="spacingAndGlyphs">18A to 9A</text>
<text x="793.7" y="709.77" font-family="'Liberation Serif', serif" font-size="6.2" font-weight="bold" fill="#2f8fd0" text-anchor="middle" textLength="37.5" lengthAdjust="spacingAndGlyphs">(Linear)Power</text>
<text x="882" y="706.87" font-family="'Liberation Serif', serif" font-size="6.2" font-weight="bold" fill="#2f8fd0" text-anchor="middle" textLength="60" lengthAdjust="spacingAndGlyphs">Load current variation</text>
<text x="882" y="713.87" font-family="'Liberation Serif', serif" font-size="6.2" font-weight="bold" fill="#2f8fd0" text-anchor="middle" textLength="26" lengthAdjust="spacingAndGlyphs">10A to 5A</text>
<text x="994.4" y="651.67" font-family="'Liberation Serif', serif" font-size="6.2" font-weight="bold" fill="#e8323c" text-anchor="middle" textLength="27" lengthAdjust="spacingAndGlyphs">50mV/div;</text>
<text x="994" y="659.17" font-family="'Liberation Serif', serif" font-size="6.2" font-weight="bold" fill="#e8323c" text-anchor="middle" textLength="23" lengthAdjust="spacingAndGlyphs">100us/div</text>
<path d="M783.13,864.6V1027M809.86,864.6V1027M836.59,864.6V1027M863.32,864.6V1027M890.05,864.6V1027M916.78,864.6V1027M943.51,864.6V1027M970.24,864.6V1027M996.97,864.6V1027M756.4,884.9H1023.7M756.4,905.2H1023.7M756.4,925.5H1023.7M756.4,945.8H1023.7M756.4,966.1H1023.7M756.4,986.4H1023.7M756.4,1006.7H1023.7" stroke="#e4e4e4" stroke-width="0.8" stroke-dasharray="1,4" fill="none"/>
<path d="M890.05,864.6V1027 M756.4,945.8H1023.7" stroke="#cfcfcf" stroke-width="0.9" stroke-dasharray="1,3" fill="none"/>
<path d="M756.4,1027 V864.6 H1023.7 V1027" stroke="#bdbdbd" stroke-width="1" stroke-dasharray="2,1" fill="none"/>
<text x="756.4" y="857.8" font-family="'Liberation Sans', sans-serif" font-size="5.6" font-weight="bold" fill="#111" text-anchor="start" textLength="32.08" lengthAdjust="spacingAndGlyphs" stroke="#111" stroke-width="0.45">GWINSTEK</text>
<rect x="836.32" y="852.1" width="106.39" height="9.91" fill="#fff" stroke="#555" stroke-width="1" rx="0"/>
<rect x="854.23" y="853.56" width="71.1" height="7.15" fill="#fff" stroke="#333" stroke-width="1.3" rx="0"/>
<polyline points="855.23,857.13 856.38,858 857.54,858.42 858.69,858.18 859.84,857.4 860.99,856.48 862.14,855.89 863.29,855.94 864.45,856.6 865.6,857.53 866.75,858.26 867.9,858.4 869.05,857.89 870.2,856.99 871.36,856.16 872.51,855.83 873.66,856.16 874.81,856.99 875.96,857.89 877.11,858.4 878.27,858.26 879.42,857.53 880.57,856.6 881.72,855.94 882.87,855.89 884.02,856.48 885.18,857.4 886.33,858.18 887.48,858.42 888.63,858 889.78,857.13 890.93,856.26 892.09,855.84 893.24,856.08 894.39,856.86 895.54,857.78 896.69,858.37 897.84,858.32 899,857.66 900.15,856.73 901.3,856 902.45,855.86 903.6,856.37 904.75,857.27 905.91,858.1 907.06,858.43 908.21,858.1 909.36,857.27 910.51,856.37 911.66,855.86 912.82,856 913.97,856.73 915.12,857.66 916.27,858.32 917.42,858.37 918.58,857.78 919.73,856.86 920.88,856.08 922.03,855.84 923.18,856.26 924.33,857.13" fill="none" stroke="#777" stroke-width="0.6" stroke-linejoin="round"/>
<rect x="946.45" y="852.1" width="18.18" height="9.91" fill="#fff" stroke="#f09aa2" stroke-width="0.9" rx="1.5"/>
<text x="955.54" y="858.92" font-family="'Liberation Sans', sans-serif" font-size="5" font-weight="bold" fill="#e0303c" text-anchor="middle">Stop</text>
<rect x="967.57" y="852.1" width="13.1" height="9.91" fill="#fff" stroke="#b5dcc0" stroke-width="0.9" rx="1.5"/>
<path d="M971.04,859.73 v-4 h5.88 v4" stroke="#70b888" stroke-width="0.7" fill="none"/>
<rect x="986.01" y="850.63" width="38.49" height="13.32" fill="#fff" stroke="#222" stroke-width="1.3" rx="0"/>
<text x="1021.03" y="856.16" font-family="'Liberation Mono', monospace" font-size="5.4" font-weight="bold" fill="#222" text-anchor="end" textLength="33.41" lengthAdjust="spacingAndGlyphs">08 Mar 2016</text>
<text x="1021.03" y="861.84" font-family="'Liberation Mono', monospace" font-size="5.4" font-weight="bold" fill="#222" text-anchor="end" textLength="22.72" lengthAdjust="spacingAndGlyphs">19:34:30</text>
<path d="M888.55,864.1 h3 l-1.5,2.2 z" fill="#f08080"/>
<path d="M755.9,863.6 l3,1.5 l-3,1.5 z" fill="#e03030"/>
<rect x="976.66" y="1020.34" width="47.85" height="5.52" fill="#fff" stroke="#888" stroke-width="0.8" rx="2"/>
<rect x="976.96" y="1020.74" width="11.23" height="4.72" fill="#111" stroke="none" stroke-width="1" rx="2.5"/>
<text x="1009.93" y="1024.66" font-family="'Liberation Sans', sans-serif" font-size="4.6" font-weight="bold" fill="#222" text-anchor="middle" textLength="22.72" lengthAdjust="spacingAndGlyphs">530.447Hz</text>
<rect x="756.4" y="1027.81" width="267.3" height="5.85" fill="#fff" stroke="#888" stroke-width="0.9" rx="1.5"/>
<rect x="756.4" y="1028.11" width="9.09" height="5.25" fill="#1a1a1a" stroke="none" stroke-width="1" rx="1"/>
<text x="760.94" y="1032.46" font-family="'Liberation Sans', sans-serif" font-size="4.6" font-weight="bold" fill="#fff" text-anchor="middle">R1</text>
<text x="767.89" y="1032.36" font-family="'Liberation Sans', sans-serif" font-size="4.2" font-weight="bold" fill="#333" text-anchor="start" textLength="12.03" lengthAdjust="spacingAndGlyphs">50mV</text>
<text x="787.14" y="1032.36" font-family="'Liberation Sans', sans-serif" font-size="4.2" font-weight="bold" fill="#333" text-anchor="start" textLength="13.37" lengthAdjust="spacingAndGlyphs">100us</text>
<rect x="823.76" y="1028.11" width="9.09" height="5.25" fill="#1a1a1a" stroke="none" stroke-width="1" rx="1"/>
<text x="828.3" y="1032.46" font-family="'Liberation Sans', sans-serif" font-size="4.6" font-weight="bold" fill="#fff" text-anchor="middle">R2</text>
<text x="835.25" y="1032.36" font-family="'Liberation Sans', sans-serif" font-size="4.2" font-weight="bold" fill="#333" text-anchor="start" textLength="12.03" lengthAdjust="spacingAndGlyphs">50mV</text>
<text x="854.5" y="1032.36" font-family="'Liberation Sans', sans-serif" font-size="4.2" font-weight="bold" fill="#333" text-anchor="start" textLength="13.37" lengthAdjust="spacingAndGlyphs">100us</text>
<rect x="889.78" y="1028.11" width="9.09" height="5.25" fill="#1a1a1a" stroke="none" stroke-width="1" rx="1"/>
<text x="894.33" y="1032.46" font-family="'Liberation Sans', sans-serif" font-size="4.6" font-weight="bold" fill="#fff" text-anchor="middle">R3</text>
<text x="901.28" y="1032.36" font-family="'Liberation Sans', sans-serif" font-size="4.2" font-weight="bold" fill="#333" text-anchor="start" textLength="12.03" lengthAdjust="spacingAndGlyphs">50mV</text>
<text x="920.52" y="1032.36" font-family="'Liberation Sans', sans-serif" font-size="4.2" font-weight="bold" fill="#333" text-anchor="start" textLength="13.37" lengthAdjust="spacingAndGlyphs">100us</text>
<rect x="747.58" y="1035.61" width="149.69" height="6.98" fill="#fff" stroke="#999" stroke-width="0.9" rx="2"/>
<rect x="899.14" y="1035.61" width="60.14" height="6.98" fill="#fff" stroke="#999" stroke-width="0.9" rx="2"/>
<text x="914.11" y="1041.09" font-family="'Liberation Sans', sans-serif" font-size="4.6" font-weight="bold" fill="#333" text-anchor="middle">100us</text>
<circle cx="926.14" cy="1039.1" r="2.2" fill="#222"/>
<text x="943.51" y="1041.09" font-family="'Liberation Sans', sans-serif" font-size="4.6" font-weight="bold" fill="#333" text-anchor="middle">299.8us</text>
<rect x="961.42" y="1035.61" width="63.08" height="13.97" fill="#fff" stroke="#999" stroke-width="0.9" rx="2"/>
<circle cx="970.24" cy="1039.41" r="2" fill="#f2c040"/>
<text x="979.6" y="1040.61" font-family="'Liberation Sans', sans-serif" font-size="4.2" font-weight="bold" fill="#f0c860" text-anchor="middle">1</text>
<text x="996.97" y="1040.61" font-family="'Liberation Sans', sans-serif" font-size="4.2" font-weight="bold" fill="#f0c860" text-anchor="middle">7.20mV</text>
<text x="1021.03" y="1040.61" font-family="'Liberation Sans', sans-serif" font-size="4.2" font-weight="bold" fill="#f0c860" text-anchor="end">DC</text>
<polyline points="756.4,885.19 757.21,883.85 758.02,883.44 758.83,884 759.64,883.46 760.46,884.99 761.27,884.64 762.08,883.97 762.89,883.78 763.7,885.14 764.51,885.07 765.32,884.77 766.13,884.78 766.94,884.89 767.76,884.31 768.57,884.19 769.38,884.51 770.19,885.16 771,885.38 771.81,885.23 772.62,885.07 773.43,883.55 774.24,883.89 775.06,885.34 775.87,884.49 776.68,884.43 777.49,884.02 778.3,885.12 779.11,884.43 779.92,885.38 780.73,883.55 781.54,885.39 782.36,883.43 783.17,883.7 783.98,884.18 784.79,884.68 785.6,883.62 786.41,884.52 787.22,885.28 788.03,884.27 788.84,884.92 789.66,884.58 790.47,884.56 791.28,883.75 792.09,884.33 792.9,885.2 793.71,884.75 794.52,883.83 795.33,884.29 796.14,884.49 796.96,884.07 797.77,884.56 798.58,884.66 799.39,883.44 800.2,883.84 801.01,884.71 801.82,883.83 802.63,883.55 803.44,884.92 804.26,884.07 805.07,885.32 805.88,884.52 806.69,883.6 807.5,884.67 809,899.52 810.5,918 810.5,918.75 811.9,925.54 812.95,925 814,922.44 815.15,921.79 816.3,923.31 817.24,922.05 818.18,923.01 819.12,923.69 820.06,925.17 821,926.94 821.82,928.89 822.64,928.2 823.45,928.91 824.27,931.14 825.09,930.47 825.91,932.39 826.73,933.16 827.55,934.69 828.36,933.25 829.18,935.12 830,935.22 830.83,936.77 831.66,935.89 832.49,937.49 833.32,936.69 834.15,937.89 834.98,939.46 835.82,938.11 836.65,938.56 837.48,940.4 838.31,940.07 839.14,938.8 839.97,939.21 840.8,939.37 841.64,939.47 842.48,940.74 843.32,940.3 844.16,940.84 845,939.93 845.84,939.64 846.68,938.84 847.52,939.41 848.36,938.62 849.2,937.32 850.04,938.09 850.88,937.55 851.72,937.63 852.56,936.19 853.4,935.87 854.24,937.87 855.08,936.09 855.92,935.65 856.76,934.84 857.6,935.52 858.44,935.88 859.28,933.7 860.12,934.02 860.96,933.57 861.8,933.75 862.64,932.81 863.48,931.56 864.32,930.98 865.16,931.8 866,929.79 866.85,931.21 867.69,928.74 868.54,928.64 869.39,928.81 870.23,929.22 871.08,928.17 871.93,927.97 872.77,927.49 873.62,926.88 874.47,924.74 875.31,926.08 876.16,923.93 877.01,923.44 877.85,922.61 878.7,922.07 879.52,923.6 880.34,921.9 881.15,920.68 881.97,920.07 882.79,921.47 883.61,920.36 884.42,920.59 885.24,917.96 886.06,917.61 886.88,917.51 887.69,916.75 888.51,916.04 889.33,915.73 890.15,916.27 890.96,914.62 891.78,914.11 892.6,914.49 893.44,913.58 894.28,912.5 895.12,912.97 895.96,912.28 896.8,911.45 897.64,911.12 898.48,909.54 899.32,910.39 900.16,908.86 901,908.69 901.84,907.41 902.68,909.04 903.52,907.86 904.36,906.96 905.2,906.9 906.04,907.46 906.88,905.14 907.72,905.38 908.56,905.8 909.4,904.65 910.24,905.12 911.08,905.27 911.92,902.87 912.76,903.14 913.6,902.85 914.44,903.63 915.28,903.41 916.12,902.9 916.96,903.13 917.8,901.05 918.64,901.23 919.48,902.03 920.32,901.51 921.16,899.64 922,901.42 922.84,900.55 923.68,900.55 924.52,899.05 925.36,899.34 926.2,899.9 927.04,899.47 927.88,898.41 928.72,898.89 929.56,898.87 930.4,898.21 931.24,897.5 932.08,897.96 932.92,895.73 933.76,896.08 934.6,896.19 935.44,894.89 936.28,896.18 937.12,894.2 937.96,895.3 938.8,894.21 939.64,894.07 940.48,894.52 941.32,893.29 942.16,893.68 943,894.46 943.84,894.57 944.68,892.63 945.52,892.69 946.36,893.3 947.2,891.91 948.04,893.32 948.88,891.59 949.72,892.29 950.56,891.6 951.4,890.63 952.24,890.46 953.08,890.3 953.92,890.92 954.76,890.63 955.6,892.18 956.44,891.16 957.28,889.61 958.12,891 958.96,889.67 959.8,890.09 960.64,890.49 961.48,890.64 962.32,890.66 963.16,889.26 964,888.84 964.84,888.87 965.68,888.51 966.52,889.38 967.36,888.56 968.2,888.95 969.04,887.52 969.88,888.89 970.72,889.19 971.56,887.21 972.4,888.06 973.24,886.84 974.08,886.4 974.92,887.17 975.76,886.49 976.6,887.68 977.44,887.18 978.28,887.32 979.12,887.91 979.96,885.63 980.8,885.64 981.64,885.4 982.48,886.34 983.32,887.14 984.16,886.73 985,886.33 985.84,887.01 986.68,885.78 987.52,885.09 988.36,886.3 989.2,884.76 990.04,885.19 990.88,884.65 991.72,884.91 992.56,884.62 993.4,885.68 994.24,884.64 995.08,885.72 995.92,886.18 996.76,884.96 997.6,884.36 998.44,885.61 999.28,885.69 1000.12,886 1000.96,885.14 1001.8,885.15 1002.64,885.76 1003.48,885.26 1004.32,885.93 1005.16,884.23 1006,885.36 1006.8,884.98 1007.61,884.55 1008.41,883.42 1009.22,884.51 1010.02,883.96 1010.83,884.75 1011.63,884.5 1012.44,884.47 1013.24,883.36 1014.05,883.51 1014.85,884.63 1015.65,884.78 1016.46,885.5 1017.26,885 1018.07,883.77 1018.87,884.14 1019.68,884.24 1020.48,884.93 1021.29,883.92 1022.09,885.16 1022.9,884.09 1023.7,884.1" fill="none" stroke="#111" stroke-width="1.9" stroke-linejoin="round"/>
<polyline points="756.4,957.1 757.2,957.18 758,957.06 758.8,957.7 759.6,956.75 760.4,957.1 761.2,956.78 762,957.38 762.8,956.85 763.6,956.85 764.4,957.12 765.2,957.3 766,957.46 766.8,957.14 767.6,957 768.4,957.07 769.2,957.59 770,956.91 770.8,956.71 771.6,957.59 772.4,957.18 773.2,956.83 774,956.84 774.8,957.59 775.6,957.45 776.4,956.76 777.2,957.38 778,956.91 778.8,957.15 779.6,957.31 780.4,956.75 781.2,957.64 782,957.04 782.8,956.84 783.6,957.48 784.4,956.81 785.2,956.74 786,957.35 786.8,957.17 787.6,957.6 788.4,957.49 789.2,956.91 790,956.75 790.8,957.3 791.6,957.17 792.4,957 793.2,957.62 794,956.91 794.8,957.34 795.6,956.77 796.4,957.62 797.2,957.65 798,957.32 798.8,957.02 799.6,957.42 800.4,957.6 801.2,957.49 802,956.74 802.8,957.2 803.6,956.84 804.4,957.25 805.2,957.65 806,957.56 806.83,957.19 807.67,958.13 808.5,958.82 809.4,961.01 810.3,965.24 811.8,973.26 812.65,975.66 813.5,977.12 814.5,977.08 815.5,976.43 816.38,975.16 817.25,973.3 818.12,971.59 819,970.17 819.83,969.6 820.67,968.07 821.5,967.05 822.33,965.66 823.17,964.63 824,963.48 824.83,963.37 825.67,962.12 826.5,960.81 827.33,960.62 828.17,959.85 829,959.31 829.85,958.97 830.7,958.32 831.55,958.11 832.4,957.78 833.25,956.85 834.1,956.8 834.95,956.34 835.8,956.31 836.64,956.27 837.47,956.58 838.31,956.32 839.15,956.36 839.98,956.9 840.82,956.91 841.65,956.84 842.49,957.05 843.33,956.63 844.16,956.92 845,956.55 845.81,956.63 846.61,956.42 847.42,957.13 848.23,957.27 849.03,956.66 849.84,956.75 850.65,956.49 851.45,956.53 852.26,957.03 853.06,957.3 853.87,956.5 854.68,956.68 855.48,957.19 856.29,956.66 857.1,957.32 857.9,956.8 858.71,956.93 859.52,956.66 860.32,956.76 861.13,956.9 861.94,956.76 862.74,957.21 863.55,956.52 864.35,957.13 865.16,957.29 865.97,956.82 866.77,956.69 867.58,956.62 868.39,956.58 869.19,957.29 870,957.1 870.8,956.52 871.6,956.95 872.4,957.1 873.2,956.82 874,956.53 874.8,956.92 875.6,956.85 876.4,957.47 877.2,956.86 878.01,957.42 878.81,957.37 879.61,957.07 880.41,956.63 881.21,957.31 882.01,956.59 882.81,957.06 883.61,956.6 884.41,956.59 885.21,956.91 886.01,956.66 886.81,957.49 887.61,957.08 888.41,957.4 889.21,957.46 890.01,957.26 890.81,957.15 891.61,956.97 892.41,957.28 893.22,957.17 894.02,956.66 894.82,957.03 895.62,956.91 896.42,957.02 897.22,957.21 898.02,957.19 898.82,957.07 899.62,957.29 900.42,957.33 901.22,956.59 902.02,956.65 902.82,956.55 903.62,956.66 904.42,957.46 905.22,956.81 906.02,956.94 906.82,956.97 907.62,957.06 908.42,956.78 909.23,957.28 910.03,956.83 910.83,957.35 911.63,957.3 912.43,956.5 913.23,957.05 914.03,956.59 914.83,957.38 915.63,956.57 916.43,956.77 917.23,957.27 918.03,957.09 918.83,957.17 919.63,956.91 920.43,957.02 921.23,956.7 922.03,956.96 922.83,956.76 923.63,957.18 924.44,956.61 925.24,956.64 926.04,956.7 926.84,957.03 927.64,957.08 928.44,956.5 929.24,957.49 930.04,957.34 930.84,956.88 931.64,956.66 932.44,957.33 933.24,957.48 934.04,956.68 934.84,957.26 935.64,957.32 936.44,957.44 937.24,956.71 938.04,956.62 938.84,956.66 939.65,956.73 940.45,957.4 941.25,957.41 942.05,956.97 942.85,956.63 943.65,956.85 944.45,956.74 945.25,957.15 946.05,957.22 946.85,957.28 947.65,956.94 948.45,956.96 949.25,956.97 950.05,956.87 950.85,956.96 951.65,957.19 952.45,957.21 953.25,956.83 954.05,957.07 954.86,956.65 955.66,956.55 956.46,956.89 957.26,956.86 958.06,956.53 958.86,956.58 959.66,956.93 960.46,957.44 961.26,957.34 962.06,956.53 962.86,956.82 963.66,956.87 964.46,956.81 965.26,956.64 966.06,957.09 966.86,957.34 967.66,956.88 968.46,956.68 969.26,956.61 970.07,956.52 970.87,957.27 971.67,956.73 972.47,957.22 973.27,957.29 974.07,956.58 974.87,956.69 975.67,956.82 976.47,957.27 977.27,957.24 978.07,956.8 978.87,956.95 979.67,956.86 980.47,956.97 981.27,957.29 982.07,956.76 982.87,957.31 983.67,957.42 984.47,957.1 985.28,957.46 986.08,957.44 986.88,956.67 987.68,957.49 988.48,956.7 989.28,957.3 990.08,956.62 990.88,956.8 991.68,956.94 992.48,957.34 993.28,957.18 994.08,956.7 994.88,957.4 995.68,957.37 996.48,957.01 997.28,956.55 998.08,956.79 998.88,956.79 999.68,956.92 1000.48,957.44 1001.29,957.1 1002.09,957.32 1002.89,956.57 1003.69,956.75 1004.49,957.23 1005.29,956.84 1006.09,956.73 1006.89,956.56 1007.69,956.55 1008.49,956.91 1009.29,957.05 1010.09,956.9 1010.89,957.07 1011.69,956.79 1012.49,956.52 1013.29,957.17 1014.09,956.84 1014.89,956.99 1015.69,956.88 1016.5,956.77 1017.3,956.55 1018.1,956.8 1018.9,956.8 1019.7,956.61 1020.5,956.53 1021.3,956.98 1022.1,956.52 1022.9,957.38 1023.7,957" fill="none" stroke="#111" stroke-width="2.8" stroke-linejoin="round"/>
<polyline points="756.4,990.78 757.21,990.91 758.02,991.04 758.82,990.24 759.63,990.36 760.44,991.46 761.25,991.09 762.06,990.99 762.86,990.75 763.67,991.4 764.48,991.01 765.29,991.47 766.1,991.54 766.9,991.63 767.71,991.36 768.52,991.28 769.33,990.94 770.14,991.05 770.95,991.13 771.75,991.04 772.56,991.51 773.37,991.57 774.18,990.28 774.99,991.4 775.79,991.19 776.6,991.16 777.41,991.65 778.22,990.28 779.03,990.96 779.83,990.8 780.64,991.72 781.45,990.46 782.26,991.1 783.07,990.43 783.87,991.41 784.68,990.98 785.49,991.38 786.3,990.69 787.11,991.61 787.91,990.21 788.72,990.56 789.53,991.37 790.34,991.61 791.15,991.44 791.95,990.64 792.76,990.33 793.57,991.33 794.38,991.37 795.19,990.3 796,991.7 796.8,991.04 797.61,990.25 798.42,990.97 799.23,990.74 800.04,990.37 800.84,991.62 801.65,991.7 802.46,990.4 803.27,990.91 804.08,990.64 804.88,991.28 805.69,990.38 806.5,990.73 807.4,991.72 808.3,993.96 809.6,1003.9 811,1014.65 811.8,1014.36 812.6,1012.69 813.8,1008.95 815,1005.03 815.88,1002.3 816.75,1000.83 817.62,999.88 818.5,999.03 819.38,997.92 820.25,996.54 821.12,996.74 822,995 822.8,994.04 823.6,993.69 824.4,993.49 825.2,994.03 826,994.05 826.82,992.68 827.65,992.92 828.47,992.86 829.29,993.66 830.12,993.78 830.94,992.72 831.76,992.41 832.59,993.75 833.41,993.72 834.24,993.28 835.06,992.86 835.88,993.28 836.71,993.29 837.53,992.86 838.35,992.46 839.18,992.85 840,993.06 840.81,992.51 841.62,993 842.43,992.2 843.24,993.51 844.05,992.29 844.86,992.3 845.68,993.47 846.49,993.44 847.3,993.4 848.11,993.25 848.92,993.26 849.73,993.21 850.54,992.79 851.35,992 852.16,993.04 852.97,993.2 853.78,993.2 854.59,991.92 855.41,991.95 856.22,993.01 857.03,992.62 857.84,993.26 858.65,993.41 859.46,992.54 860.27,992.9 861.08,992.88 861.89,992.93 862.7,992.4 863.51,992.83 864.32,991.92 865.14,993.25 865.95,992.96 866.76,993.09 867.57,992.54 868.38,992.13 869.19,992.52 870,992.89 870.8,992.68 871.6,991.97 872.4,991.81 873.2,992.44 874,992.19 874.8,992.16 875.6,992.15 876.4,992.47 877.2,992.91 878.01,993.26 878.81,992.88 879.61,991.83 880.41,993.19 881.21,992.77 882.01,992.97 882.81,992.78 883.61,992.37 884.41,992.34 885.21,991.91 886.01,992.86 886.81,991.89 887.61,992.89 888.41,993.26 889.21,992.87 890.01,992.77 890.81,993.09 891.61,993.34 892.41,993.1 893.22,993.38 894.02,992.54 894.82,991.82 895.62,992.78 896.42,992.82 897.22,993.18 898.02,992.78 898.82,992.38 899.62,991.81 900.42,993.13 901.22,992.8 902.02,993.38 902.82,992.75 903.62,993.16 904.42,993.04 905.22,993.39 906.02,992.54 906.82,993.24 907.62,992.43 908.42,991.82 909.23,992.32 910.03,992.36 910.83,993.39 911.63,992.43 912.43,992.24 913.23,992.91 914.03,991.96 914.83,992.29 915.63,992.43 916.43,992 917.23,992.76 918.03,992.48 918.83,993.08 919.63,992.34 920.43,993.36 921.23,992.11 922.03,992.65 922.83,992.16 923.63,991.82 924.44,992.28 925.24,993.23 926.04,992.27 926.84,992.58 927.64,992.64 928.44,992.23 929.24,992.66 930.04,991.9 930.84,992.36 931.64,992.26 932.44,993.1 933.24,993.03 934.04,992.92 934.84,992.75 935.64,993.19 936.44,992.99 937.24,991.89 938.04,992.01 938.84,993 939.65,993.14 940.45,993.38 941.25,993.04 942.05,992.05 942.85,992.71 943.65,992.8 944.45,992.77 945.25,992.02 946.05,993.35 946.85,992.62 947.65,992.23 948.45,993.37 949.25,992.42 950.05,991.91 950.85,992.87 951.65,992.22 952.45,992.15 953.25,992.28 954.05,992.77 954.86,992.31 955.66,992.86 956.46,993.25 957.26,993.39 958.06,993.22 958.86,993.27 959.66,992.21 960.46,993.12 961.26,991.94 962.06,992.73 962.86,991.92 963.66,991.96 964.46,993.32 965.26,992 966.06,992.95 966.86,992.64 967.66,991.8 968.46,993.07 969.26,991.9 970.07,993.22 970.87,993.11 971.67,992.59 972.47,992.51 973.27,991.84 974.07,992.92 974.87,991.86 975.67,992.64 976.47,993.28 977.27,992.88 978.07,991.99 978.87,992.95 979.67,992.92 980.47,992.33 981.27,993.03 982.07,992.73 982.87,992.46 983.67,992.64 984.47,992.24 985.28,992.26 986.08,993.22 986.88,992.36 987.68,993.03 988.48,992.39 989.28,992.1 990.08,991.8 990.88,993.34 991.68,993 992.48,993.37 993.28,992.74 994.08,991.9 994.88,992.06 995.68,991.88 996.48,992.78 997.28,992.8 998.08,993.33 998.88,992.27 999.68,992.17 1000.48,992.15 1001.29,992.04 1002.09,991.85 1002.89,992.59 1003.69,992.47 1004.49,992.39 1005.29,993.32 1006.09,992.3 1006.89,993.12 1007.69,992.65 1008.49,991.96 1009.29,991.85 1010.09,992.77 1010.89,993.2 1011.69,991.88 1012.49,992.92 1013.29,992.17 1014.09,992.9 1014.89,993.13 1015.69,992.96 1016.5,992.19 1017.3,992.05 1018.1,993.35 1018.9,993.27 1019.7,993.28 1020.5,992.67 1021.3,991.88 1022.1,992.39 1022.9,993.26 1023.7,992.6" fill="none" stroke="#111" stroke-width="2" stroke-linejoin="round"/>
<path d="M749,883.2 h4.5 l2,2.2 l-2,2.2 h-4.5 z" fill="#fff" stroke="#222" stroke-width="0.8"/>
<text x="751.5" y="887" font-family="'Liberation Sans', sans-serif" font-size="4.2" font-weight="bold" fill="#222" text-anchor="middle">1</text>
<path d="M749,955 h4.5 l2,2.2 l-2,2.2 h-4.5 z" fill="#111"/>
<path d="M749,990.1 h4.5 l2,2.2 l-2,2.2 h-4.5 z" fill="#fff" stroke="#222" stroke-width="0.8"/>
<text x="751.5" y="993.9" font-family="'Liberation Sans', sans-serif" font-size="4.2" font-weight="bold" fill="#222" text-anchor="middle">3</text>
<text x="781.8" y="899.01" font-family="'Liberation Serif', serif" font-size="6.6" font-weight="bold" fill="#3fb27a" text-anchor="middle" textLength="48.5" lengthAdjust="spacingAndGlyphs">(Switching)Power</text>
<text x="869.3" y="895.31" font-family="'Liberation Serif', serif" font-size="6.6" font-weight="bold" fill="#3fb27a" text-anchor="middle" textLength="63" lengthAdjust="spacingAndGlyphs">Load current variation</text>
<text x="868.5" y="902.31" font-family="'Liberation Serif', serif" font-size="6.6" font-weight="bold" fill="#3fb27a" text-anchor="middle" textLength="27.5" lengthAdjust="spacingAndGlyphs">9A to 18A</text>
<text x="782.5" y="945.71" font-family="'Liberation Serif', serif" font-size="6.6" font-weight="bold" fill="#6e5bb0" text-anchor="middle" textLength="41" lengthAdjust="spacingAndGlyphs">(Hybrid)Power</text>
<text x="782.5" y="953.01" font-family="'Liberation Serif', serif" font-size="6.6" font-weight="bold" fill="#6e5bb0" text-anchor="middle" textLength="29" lengthAdjust="spacingAndGlyphs">PLR 20-18</text>
<text x="869.3" y="965.81" font-family="'Liberation Serif', serif" font-size="6.6" font-weight="bold" fill="#6e5bb0" text-anchor="middle" textLength="63" lengthAdjust="spacingAndGlyphs">Load current variation</text>
<text x="868.5" y="973.61" font-family="'Liberation Serif', serif" font-size="6.6" font-weight="bold" fill="#6e5bb0" text-anchor="middle" textLength="27.5" lengthAdjust="spacingAndGlyphs">9A to 18A</text>
<text x="782.5" y="1003.31" font-family="'Liberation Serif', serif" font-size="6.6" font-weight="bold" fill="#2f8fd0" text-anchor="middle" textLength="39.7" lengthAdjust="spacingAndGlyphs">(Linear)Power</text>
<text x="869.3" y="1002.61" font-family="'Liberation Serif', serif" font-size="6.6" font-weight="bold" fill="#2f8fd0" text-anchor="middle" textLength="63" lengthAdjust="spacingAndGlyphs">Load current variation</text>
<text x="868.5" y="1009.91" font-family="'Liberation Serif', serif" font-size="6.6" font-weight="bold" fill="#2f8fd0" text-anchor="middle" textLength="27.5" lengthAdjust="spacingAndGlyphs">5A to 10A</text>
<text x="996.2" y="941.31" font-family="'Liberation Serif', serif" font-size="6.6" font-weight="bold" fill="#e8323c" text-anchor="middle" textLength="29.5" lengthAdjust="spacingAndGlyphs">50mV/div;</text>
<text x="995.8" y="948.31" font-family="'Liberation Serif', serif" font-size="6.6" font-weight="bold" fill="#e8323c" text-anchor="middle" textLength="25.6" lengthAdjust="spacingAndGlyphs">100us/div</text>
<path d="M786.99,1150.2V1310M813.18,1150.2V1310M839.37,1150.2V1310M865.56,1150.2V1310M891.75,1150.2V1310M917.94,1150.2V1310M944.13,1150.2V1310M970.32,1150.2V1310M996.51,1150.2V1310M760.8,1170.17H1022.7M760.8,1190.15H1022.7M760.8,1210.12H1022.7M760.8,1230.1H1022.7M760.8,1250.08H1022.7M760.8,1270.05H1022.7M760.8,1290.03H1022.7" stroke="#e4e4e4" stroke-width="0.8" stroke-dasharray="1,4" fill="none"/>
<path d="M891.75,1150.2V1310 M760.8,1230.1H1022.7" stroke="#cfcfcf" stroke-width="0.9" stroke-dasharray="1,3" fill="none"/>
<path d="M760.8,1310 V1150.2 H1022.7 V1310" stroke="#bdbdbd" stroke-width="1" stroke-dasharray="2,1" fill="none"/>
<text x="760.8" y="1143.4" font-family="'Liberation Sans', sans-serif" font-size="5.6" font-weight="bold" fill="#111" text-anchor="start" textLength="31.43" lengthAdjust="spacingAndGlyphs" stroke="#111" stroke-width="0.45">GWINSTEK</text>
<rect x="839.11" y="1137.9" width="104.24" height="9.75" fill="#fff" stroke="#555" stroke-width="1" rx="0"/>
<rect x="856.66" y="1139.33" width="69.67" height="7.03" fill="#fff" stroke="#333" stroke-width="1.3" rx="0"/>
<polyline points="857.66,1142.85 858.78,1143.72 859.91,1144.14 861.04,1143.9 862.17,1143.12 863.29,1142.2 864.42,1141.61 865.55,1141.66 866.68,1142.32 867.81,1143.25 868.93,1143.98 870.06,1144.12 871.19,1143.61 872.32,1142.71 873.44,1141.88 874.57,1141.55 875.7,1141.88 876.83,1142.71 877.96,1143.61 879.08,1144.12 880.21,1143.98 881.34,1143.25 882.47,1142.32 883.59,1141.66 884.72,1141.61 885.85,1142.2 886.98,1143.12 888.1,1143.9 889.23,1144.14 890.36,1143.72 891.49,1142.85 892.62,1141.98 893.74,1141.56 894.87,1141.8 896,1142.58 897.13,1143.5 898.25,1144.09 899.38,1144.04 900.51,1143.38 901.64,1142.45 902.77,1141.72 903.89,1141.58 905.02,1142.09 906.15,1142.99 907.28,1143.82 908.4,1144.15 909.53,1143.82 910.66,1142.99 911.79,1142.09 912.92,1141.58 914.04,1141.72 915.17,1142.45 916.3,1143.38 917.43,1144.04 918.55,1144.09 919.68,1143.5 920.81,1142.58 921.94,1141.8 923.07,1141.56 924.19,1141.98 925.32,1142.85" fill="none" stroke="#777" stroke-width="0.6" stroke-linejoin="round"/>
<rect x="947.01" y="1137.9" width="17.81" height="9.75" fill="#fff" stroke="#f09aa2" stroke-width="0.9" rx="1.5"/>
<text x="955.92" y="1144.61" font-family="'Liberation Sans', sans-serif" font-size="5" font-weight="bold" fill="#e0303c" text-anchor="middle">Stop</text>
<rect x="967.7" y="1137.9" width="12.83" height="9.75" fill="#fff" stroke="#b5dcc0" stroke-width="0.9" rx="1.5"/>
<path d="M971.11,1145.41 v-4 h5.76 v4" stroke="#70b888" stroke-width="0.7" fill="none"/>
<rect x="985.77" y="1136.46" width="37.71" height="13.1" fill="#fff" stroke="#222" stroke-width="1.3" rx="0"/>
<text x="1020.08" y="1141.89" font-family="'Liberation Mono', monospace" font-size="5.4" font-weight="bold" fill="#222" text-anchor="end" textLength="32.74" lengthAdjust="spacingAndGlyphs">08 Mar 2016</text>
<text x="1020.08" y="1147.48" font-family="'Liberation Mono', monospace" font-size="5.4" font-weight="bold" fill="#222" text-anchor="end" textLength="22.26" lengthAdjust="spacingAndGlyphs">15:31:01</text>
<path d="M890.25,1149.7 h3 l-1.5,2.2 z" fill="#f08080"/>
<path d="M760.3,1149.2 l3,1.5 l-3,1.5 z" fill="#e03030"/>
<rect x="976.61" y="1303.45" width="46.88" height="5.43" fill="#fff" stroke="#888" stroke-width="0.8" rx="2"/>
<rect x="976.91" y="1303.85" width="11" height="4.63" fill="#111" stroke="none" stroke-width="1" rx="2.5"/>
<text x="1009.21" y="1307.68" font-family="'Liberation Sans', sans-serif" font-size="4.6" font-weight="bold" fill="#222" text-anchor="middle" textLength="22.26" lengthAdjust="spacingAndGlyphs">541.379Hz</text>
<rect x="760.8" y="1310.8" width="261.9" height="5.75" fill="#fff" stroke="#888" stroke-width="0.9" rx="1.5"/>
<rect x="760.8" y="1311.1" width="8.9" height="5.15" fill="#1a1a1a" stroke="none" stroke-width="1" rx="1"/>
<text x="765.25" y="1315.35" font-family="'Liberation Sans', sans-serif" font-size="4.6" font-weight="bold" fill="#fff" text-anchor="middle">R1</text>
<text x="772.06" y="1315.25" font-family="'Liberation Sans', sans-serif" font-size="4.2" font-weight="bold" fill="#333" text-anchor="start" textLength="11.79" lengthAdjust="spacingAndGlyphs">2mV</text>
<text x="790.92" y="1315.25" font-family="'Liberation Sans', sans-serif" font-size="4.2" font-weight="bold" fill="#333" text-anchor="start" textLength="13.09" lengthAdjust="spacingAndGlyphs">10us</text>
<rect x="826.8" y="1311.1" width="8.9" height="5.15" fill="#1a1a1a" stroke="none" stroke-width="1" rx="1"/>
<text x="831.25" y="1315.35" font-family="'Liberation Sans', sans-serif" font-size="4.6" font-weight="bold" fill="#fff" text-anchor="middle">R2</text>
<text x="838.06" y="1315.25" font-family="'Liberation Sans', sans-serif" font-size="4.2" font-weight="bold" fill="#333" text-anchor="start" textLength="11.79" lengthAdjust="spacingAndGlyphs">2mV</text>
<text x="856.92" y="1315.25" font-family="'Liberation Sans', sans-serif" font-size="4.2" font-weight="bold" fill="#333" text-anchor="start" textLength="13.09" lengthAdjust="spacingAndGlyphs">10us</text>
<rect x="891.49" y="1311.1" width="8.9" height="5.15" fill="#1a1a1a" stroke="none" stroke-width="1" rx="1"/>
<text x="895.94" y="1315.35" font-family="'Liberation Sans', sans-serif" font-size="4.6" font-weight="bold" fill="#fff" text-anchor="middle">R3</text>
<text x="902.75" y="1315.25" font-family="'Liberation Sans', sans-serif" font-size="4.2" font-weight="bold" fill="#333" text-anchor="start" textLength="11.79" lengthAdjust="spacingAndGlyphs">2mV</text>
<text x="921.61" y="1315.25" font-family="'Liberation Sans', sans-serif" font-size="4.2" font-weight="bold" fill="#333" text-anchor="start" textLength="13.09" lengthAdjust="spacingAndGlyphs">10us</text>
<rect x="752.16" y="1318.47" width="146.66" height="6.87" fill="#fff" stroke="#999" stroke-width="0.9" rx="2"/>
<rect x="900.65" y="1318.47" width="58.93" height="6.87" fill="#fff" stroke="#999" stroke-width="0.9" rx="2"/>
<text x="915.32" y="1323.84" font-family="'Liberation Sans', sans-serif" font-size="4.6" font-weight="bold" fill="#333" text-anchor="middle">10us</text>
<circle cx="927.11" cy="1321.91" r="2.2" fill="#222"/>
<text x="944.13" y="1323.84" font-family="'Liberation Sans', sans-serif" font-size="4.6" font-weight="bold" fill="#333" text-anchor="middle">295.8us</text>
<rect x="961.68" y="1318.47" width="61.81" height="13.74" fill="#fff" stroke="#999" stroke-width="0.9" rx="2"/>
<circle cx="970.32" cy="1322.27" r="2" fill="#f2c040"/>
<text x="979.49" y="1323.47" font-family="'Liberation Sans', sans-serif" font-size="4.2" font-weight="bold" fill="#f0c860" text-anchor="middle">1</text>
<text x="996.51" y="1323.47" font-family="'Liberation Sans', sans-serif" font-size="4.2" font-weight="bold" fill="#f0c860" text-anchor="middle">720mV</text>
<text x="1020.08" y="1323.47" font-family="'Liberation Sans', sans-serif" font-size="4.2" font-weight="bold" fill="#f0c860" text-anchor="end">DC</text>
<polyline points="760.8,1200.34 761.21,1202.5 761.61,1202.78 762.02,1205.16 762.42,1205.11 762.83,1205.63 763.24,1206.99 763.64,1210.21 764.05,1208.33 764.45,1214.88 764.86,1210.49 765.26,1213.83 765.67,1215.22 766.08,1216.12 766.48,1219.63 766.89,1214.53 767.29,1218.27 767.7,1215.27 768.12,1216.75 768.55,1213.14 768.98,1208.24 769.4,1206.53 769.83,1200.97 770.25,1193.22 770.67,1189.68 771.1,1182.91 771.52,1181.66 771.95,1174.27 772.38,1172.77 772.8,1170.81 773.21,1173.13 773.63,1173.44 774.04,1176.62 774.45,1177.69 774.87,1179.96 775.28,1186.69 775.69,1185.74 776.11,1193.12 776.52,1193.33 776.93,1199.6 777.35,1200.61 777.76,1205.48 778.17,1207.83 778.59,1209.02 779,1209.77 779.43,1207.75 779.86,1207.3 780.29,1204.34 780.71,1198.77 781.14,1198.78 781.57,1195.22 782,1194.44 782.4,1198.77 782.8,1195.09 783.2,1198.61 783.6,1202.43 784,1196.42 784.4,1206.03 784.8,1208.86 785.2,1203.21 785.6,1209.6 786,1209.18 786.44,1213.5 786.88,1205.91 787.32,1200 787.76,1198.78 788.2,1189.76 788.64,1185.85 789.08,1179.9 789.52,1176.07 789.96,1172.85 790.4,1178.4 790.82,1174.39 791.25,1175.81 791.67,1180.24 792.1,1180.51 792.52,1195.09 792.95,1196.92 793.38,1204.22 793.8,1214.18 794.23,1218.84 794.65,1221.97 795.08,1226.65 795.5,1227.62 795.9,1224.65 796.31,1224.21 796.71,1224.59 797.11,1222.31 797.52,1221.97 797.92,1218.82 798.32,1216.28 798.73,1213.1 799.13,1211.64 799.53,1211.36 799.94,1205.63 800.34,1206.06 800.74,1199.16 801.15,1197.72 801.55,1197.2 801.95,1191.77 802.35,1190.55 802.76,1185.08 803.16,1182.17 803.56,1177.96 803.97,1178.14 804.37,1172.26 804.77,1172.62 805.18,1170.13 805.58,1168.25 805.98,1163.12 806.39,1164.56 806.79,1162.22 807.19,1162.87 807.6,1161.1 808,1161.09 808.42,1163.53 808.83,1166.76 809.25,1171.05 809.67,1173.5 810.08,1181.35 810.5,1188.99 810.92,1196.91 811.33,1205.12 811.75,1209.42 812.17,1217.09 812.58,1218.89 813,1221.26 813.43,1219.94 813.86,1216.29 814.29,1214.82 814.71,1213.56 815.14,1210 815.57,1207.79 816,1207.84 816.43,1207.47 816.85,1207.66 817.28,1207.03 817.71,1212.49 818.14,1212.48 818.56,1210.91 818.99,1213.43 819.42,1213.12 819.85,1216.89 820.27,1215.28 820.7,1216.65 821.12,1213.22 821.54,1213.37 821.96,1209.71 822.38,1205.68 822.8,1201.11 823.22,1193.32 823.64,1185.92 824.06,1184.35 824.48,1176.64 824.9,1171.39 825.32,1166.2 825.74,1162.5 826.16,1158.53 826.58,1156.93 827,1156.45 827.42,1156.69 827.84,1157.33 828.26,1156.87 828.68,1155.64 829.1,1159.42 829.51,1157.2 829.93,1161.76 830.35,1154.5 830.77,1157.23 831.19,1165.47 831.61,1166.85 832.03,1167.18 832.45,1167.28 832.87,1170.94 833.29,1172.25 833.7,1178.17 834.12,1177.54 834.54,1181.18 834.96,1182.64 835.38,1182.64 835.8,1186.28 836.22,1188.99 836.64,1195.25 837.07,1195.95 837.49,1201.65 837.91,1208.25 838.33,1211.73 838.76,1216.09 839.18,1216.07 839.6,1218.97 840.02,1219.48 840.43,1216.63 840.85,1211.21 841.27,1202.05 841.68,1201.7 842.1,1201.01 842.52,1193.53 842.93,1188.62 843.35,1183.6 843.77,1179.83 844.18,1177.64 844.6,1177.93 845.02,1179.17 845.45,1179.64 845.88,1184.05 846.3,1188.41 846.73,1192.81 847.15,1193.95 847.58,1200.58 848,1204.92 848.43,1210.27 848.85,1214.44 849.28,1215.87 849.7,1217.86 850.11,1212.79 850.53,1210.52 850.94,1204.82 851.35,1198.42 851.76,1196.2 852.17,1188.85 852.59,1183.72 853,1182.3 853.4,1181.46 853.8,1185.62 854.2,1178.13 854.6,1179.52 855,1179.46 855.4,1171.77 855.8,1173.14 856.2,1175.75 856.6,1171.89 857,1172.48 857.4,1174.37 857.8,1169 858.2,1169.1 858.6,1170.5 859,1171.91 859.4,1170.5 859.8,1169.18 860.2,1171.37 860.6,1169.33 861,1171.24 861.4,1170.56 861.8,1171.46 862.2,1172.28 862.6,1175.3 863,1176.86 863.4,1182.06 863.8,1188.03 864.2,1192.59 864.6,1192.39 865,1198.83 865.4,1203.95 865.8,1204.52 866.2,1212.46 866.6,1212.59 867,1216.6 867.4,1224.07 867.8,1220.13 868.2,1223.42 868.6,1225.76 869.08,1218.96 869.56,1215.48 870.04,1203.65 870.52,1198.73 871,1194.23 871.41,1188.24 871.82,1190.12 872.23,1186.87 872.64,1182.83 873.05,1181.38 873.45,1178.29 873.86,1178.81 874.27,1176.62 874.68,1173.22 875.09,1170.54 875.5,1168.27 875.91,1167.28 876.32,1165.16 876.73,1163.76 877.14,1163.78 877.55,1161.85 877.95,1163.37 878.36,1159.51 878.77,1159.32 879.18,1159.08 879.59,1159.46 880,1161.42 880.41,1159.88 880.83,1163.41 881.24,1164.96 881.65,1172.94 882.07,1181.3 882.48,1182.48 882.89,1185.99 883.31,1190.25 883.72,1201.72 884.13,1205.41 884.55,1209.32 884.96,1209.74 885.37,1217.96 885.79,1223.28 886.2,1220.24 886.64,1219.14 887.07,1221.29 887.51,1215.94 887.95,1215.03 888.38,1209.52 888.82,1205.63 889.25,1205.17 889.69,1197.46 890.13,1198.22 890.56,1195.15 891,1191.58 891.41,1187.63 891.82,1185.62 892.23,1183.61 892.64,1180.11 893.05,1179.16 893.46,1175.86 893.87,1177.7 894.28,1175.19 894.69,1170.03 895.11,1170.92 895.52,1170.74 895.93,1167.44 896.34,1171.45 896.75,1165.56 897.16,1163.96 897.57,1163.25 897.98,1164.72 898.39,1162.36 898.8,1162.2 899.22,1163.99 899.63,1165.47 900.05,1171.02 900.47,1171.75 900.88,1178.59 901.3,1184.78 901.72,1192.71 902.13,1199.75 902.55,1202.16 902.97,1205.12 903.38,1205.17 903.8,1209.83 904.22,1207.03 904.64,1206.57 905.06,1205.19 905.48,1201.79 905.9,1200.56 906.32,1198.69 906.74,1198.97 907.16,1196.33 907.58,1193.04 908,1199.77 908.4,1195.5 908.8,1197.21 909.2,1197.44 909.6,1199.17 910,1203.11 910.4,1205.1 910.8,1205.2 911.2,1209.32 911.6,1211.29 912,1213 912.4,1218.65 912.8,1216.65 913.2,1219.92 913.6,1222.63 914,1219.33 914.42,1212.45 914.83,1206.07 915.25,1196.61 915.67,1186.28 916.08,1177.03 916.5,1170.76 916.92,1172.37 917.33,1173.31 917.75,1180.26 918.17,1180.03 918.58,1191.54 919,1192.43 919.42,1196.96 919.83,1202.32 920.25,1203.69 920.67,1208.82 921.08,1213.39 921.5,1213.39 921.92,1212.76 922.33,1209.35 922.75,1208.8 923.17,1202.49 923.58,1201.61 924,1194.58 924.42,1191.55 924.83,1186.49 925.25,1185.88 925.67,1179.01 926.08,1176.33 926.5,1175.55 926.92,1174.66 927.33,1174.61 927.75,1174 928.17,1170.81 928.58,1175.97 929,1175.1 929.42,1169.45 929.83,1169.84 930.25,1171.73 930.67,1166.84 931.08,1169.52 931.5,1171.39 931.92,1175.2 932.33,1170.45 932.75,1168.41 933.17,1170.94 933.58,1171.8 934,1170.42 934.43,1171.27 934.85,1171.88 935.28,1174.96 935.71,1181.92 936.13,1186.92 936.56,1189.14 936.99,1196.06 937.41,1205.13 937.84,1211.56 938.27,1214.85 938.69,1219.26 939.12,1222.47 939.55,1229.67 939.97,1228.41 940.4,1229.06 940.81,1232.84 941.23,1230.92 941.64,1227.96 942.05,1234.22 942.46,1223.94 942.88,1224.68 943.29,1220.64 943.7,1220.05 944.11,1219.85 944.52,1216.32 944.94,1213.21 945.35,1211.23 945.76,1208.35 946.17,1203.2 946.59,1201.54 947,1198.4 947.4,1196.29 947.8,1193.24 948.2,1189.51 948.6,1189.76 949,1186.48 949.4,1178.86 949.8,1179.4 950.2,1175.14 950.6,1172.21 951,1168.09 951.4,1166.35 951.8,1161.05 952.2,1161.79 952.6,1159.37 953,1160.47 953.42,1159.14 953.84,1161.68 954.26,1165.51 954.68,1169.13 955.1,1177.04 955.52,1181.48 955.94,1185.46 956.36,1190.87 956.78,1196.13 957.2,1203.34 957.62,1206.68 958.04,1210.88 958.46,1214.88 958.88,1216.67 959.3,1215.22 959.72,1217.03 960.13,1209.59 960.55,1208.06 960.97,1203.51 961.38,1194.82 961.8,1190.72 962.2,1190.47 962.6,1188.52 963,1185.73 963.4,1185.95 963.8,1182.4 964.2,1180.38 964.6,1179.71 965,1175.45 965.4,1175.01 965.8,1173.9 966.2,1172.02 966.6,1167.78 967,1167.69 967.4,1166.47 967.8,1166.83 968.2,1165.56 968.6,1162.53 969,1161.21 969.4,1163.53 969.8,1161.05 970.2,1163.97 970.6,1161.32 971.02,1162.57 971.45,1167.18 971.88,1171.69 972.3,1175.83 972.73,1179.78 973.15,1185.89 973.58,1192.05 974,1203.79 974.43,1206.27 974.85,1210.92 975.28,1213.92 975.7,1211.53 976.11,1212.23 976.52,1210 976.92,1211.13 977.33,1209.85 977.74,1204.91 978.15,1207.01 978.55,1205.62 978.96,1204.22 979.37,1202.01 979.78,1200.1 980.18,1197.08 980.59,1196.86 981,1198.21 981.41,1194 981.81,1195.18 982.22,1190.62 982.62,1186.8 983.03,1190.94 983.43,1182.07 983.84,1191.9 984.24,1182.81 984.65,1182.43 985.06,1184.25 985.46,1186.6 985.87,1179.24 986.27,1175.01 986.68,1179.3 987.08,1174.3 987.49,1181.19 987.89,1175.79 988.3,1177.08 988.72,1180.14 989.13,1176.66 989.55,1183.17 989.97,1184.11 990.38,1190.57 990.8,1197.35 991.22,1202.13 991.63,1207.46 992.05,1209.51 992.47,1214.52 992.88,1215.27 993.3,1217.63 993.72,1218.01 994.14,1217.92 994.56,1215.35 994.97,1211.94 995.39,1211.28 995.81,1211.11 996.23,1213.19 996.65,1211.87 997.07,1207.64 997.49,1204.99 997.91,1206.09 998.33,1203.32 998.74,1200.7 999.16,1196.87 999.58,1198.44 1000,1196.87 1000.4,1191.91 1000.8,1192.49 1001.2,1190.25 1001.6,1187.9 1002,1185.59 1002.4,1185.17 1002.8,1181.05 1003.2,1177.69 1003.6,1174.95 1004,1173.52 1004.4,1175.81 1004.8,1169.54 1005.2,1171.19 1005.6,1168.09 1006,1170.68 1006.4,1167.89 1006.8,1170.04 1007.2,1177.03 1007.6,1180.75 1008,1181.4 1008.4,1189.41 1008.8,1196.25 1009.2,1200.38 1009.6,1209.95 1010,1208.69 1010.4,1214.4 1010.8,1218.06 1011.2,1221.55 1011.6,1221.72 1012,1223.29 1012.4,1225.26 1012.8,1219.27 1013.2,1221.78 1013.6,1215.23 1014,1215.96 1014.4,1209.66 1014.8,1207.69 1015.2,1203.41 1015.6,1202.28 1016,1200.73 1016.42,1197.77 1016.84,1194.1 1017.27,1195.12 1017.69,1189.79 1018.11,1191.39 1018.53,1186.89 1018.96,1184.95 1019.38,1183.44 1019.8,1184.05 1020.21,1191.07 1020.63,1187.98 1021.04,1186.68 1021.46,1188.18 1021.87,1193.23 1022.29,1194.92 1022.7,1196.52" fill="none" stroke="#2a2a2a" stroke-width="1.25" stroke-linejoin="round"/>
<polyline points="760.8,1254.05 761.3,1253.68 761.8,1252.44 762.3,1256.98 762.8,1251.99 763.3,1255.13 763.8,1257.67 764.3,1252.92 764.8,1255.92 765.3,1256.45 765.8,1253.15 766.3,1255.33 766.8,1257.42 767.3,1256.06 767.8,1257.84 768.3,1254.56 768.8,1255.18 769.3,1254.54 769.8,1257.03 770.3,1259.65 770.8,1257.76 771.3,1258.97 771.8,1256.73 772.3,1259 772.8,1255.22 773.3,1256.44 773.8,1258.81 774.3,1259.19 774.8,1257.43 775.3,1255.48 775.8,1256.61 776.3,1256.31 776.8,1256.78 777.3,1259.98 777.8,1256.35 778.3,1260.49 778.8,1260.46 779.3,1255.51 779.8,1257.46 780.3,1258.13 780.8,1255.3 781.3,1257.69 781.8,1260.55 782.3,1255.76 782.8,1258.63 783.3,1255.73 783.8,1258.42 784.3,1260.27 784.8,1256.05 785.3,1254.82 785.8,1255.2 786.3,1257.86 786.8,1254.65 787.3,1254.96 787.8,1257.35 788.3,1259.8 788.8,1256.7 789.3,1256.46 789.8,1257.8 790.3,1254.42 790.8,1257.23 791.3,1254.67 791.8,1257.18 792.3,1259.16 792.8,1253.61 793.3,1256.5 793.8,1256.68 794.3,1253.82 794.8,1254.41 795.3,1258.64 795.8,1258.54 796.3,1253.15 796.8,1256.54 797.3,1257.88 797.8,1253.48 798.3,1255.6 798.8,1252.08 799.3,1253.9 799.8,1255.63 800.3,1255.01 800.8,1256.01 801.3,1251.77 801.8,1253.23 802.3,1256.23 802.8,1254.45 803.3,1253.56 803.8,1253.17 804.3,1256.59 804.8,1254.04 805.3,1250.62 805.8,1255.24 806.3,1252.34 806.8,1252.91 807.3,1251.53 807.8,1252.86 808.3,1252.09 808.8,1250.63 809.3,1253.84 809.8,1250.65 810.3,1254.71 810.8,1250.13 811.3,1254.65 811.8,1254.8 812.3,1252.93 812.8,1254.21 813.3,1251.45 813.8,1254.39 814.3,1252.53 814.8,1251.39 815.3,1255.82 815.8,1252.47 816.3,1252.35 816.8,1255.31 817.3,1252.42 817.8,1254.26 818.3,1251.34 818.8,1255.44 819.3,1252 819.8,1250.82 820.3,1256.44 820.8,1251.71 821.3,1256.43 821.8,1256.76 822.3,1254.57 822.8,1251.1 823.3,1251.49 823.8,1252.47 824.3,1253.66 824.8,1255.1 825.3,1257.33 825.8,1253.77 826.3,1252.59 826.8,1255.23 827.3,1252.79 827.8,1252.6 828,1239.34 828.3,1256.37 828.8,1252.7 829.3,1255.12 829.8,1256.75 830.3,1257.22 830.8,1255.04 831.3,1258.18 831.8,1253.97 832.3,1257.36 832.8,1257.8 833.3,1258.55 833.8,1256.33 834,1268.5 834.3,1253.75 834.8,1256.72 835.3,1254.68 835.8,1257.5 836.3,1254.31 836.8,1258.56 837.3,1255.28 837.8,1254.09 838.3,1255.13 838.8,1256.88 839.3,1257.54 839.8,1256.57 840.3,1255.32 840.8,1257.21 841.3,1260.03 841.8,1257.59 842.3,1260.04 842.8,1254.58 843.3,1260.37 843.8,1259.75 844.3,1257.68 844.8,1257.54 845.3,1257.61 845.8,1259.82 846.3,1254.72 846.8,1258.15 847.3,1257.5 847.8,1256 848,1240.35 848.3,1258.47 848.8,1254.71 849.3,1258.22 849.8,1256.67 850.3,1256.81 850.8,1257.6 851.3,1254.01 851.8,1257.21 852.3,1255.73 852.8,1258.66 853.3,1254.66 853.8,1258.1 854,1265.35 854.3,1256.79 854.8,1258.17 855.3,1253 855.8,1256.23 856.3,1256.19 856.8,1256.43 857.3,1254.66 857.8,1252.48 858.3,1253.05 858.8,1255.41 859.3,1252.69 859.8,1251.83 860.3,1253.41 860.8,1253.94 861.3,1254.17 861.8,1250.94 862.3,1255.27 862.8,1252.46 863.3,1254.98 863.8,1250.17 864.3,1255.67 864.8,1253.32 865.3,1255.48 865.8,1255.37 866.3,1254.29 866.8,1249.77 867.3,1251.06 867.8,1250.2 868,1240.68 868.3,1249.81 868.8,1249.83 869.3,1249.02 869.8,1248.93 870.3,1253.7 870.8,1253.79 871.3,1250.03 871.8,1252.12 872.3,1250.35 872.8,1250.56 873.3,1249.53 873.8,1251.01 874,1267.82 874.3,1248.64 874.8,1250.11 875.3,1248.09 875.8,1249.45 876.3,1252.4 876.8,1246.8 877.3,1247.21 877.8,1251.33 878.3,1246.82 878.8,1247.93 879.3,1251.49 879.8,1249.98 880.3,1247.64 880.8,1246.64 881.3,1247.93 881.8,1248.07 882.3,1251.06 882.8,1252.12 883.3,1250.99 883.8,1251.7 884.3,1251.9 884.8,1251.61 885.3,1251.9 885.8,1252.23 886.3,1247.04 886.8,1248.43 887.3,1248.07 887.8,1250.28 888.3,1249.68 888.8,1248.89 889,1241.02 889.3,1249.28 889.8,1248.23 890.3,1248.73 890.8,1249.94 891.3,1250.93 891.8,1250.78 892.3,1250.12 892.8,1248.71 893.3,1250.13 893.8,1249.78 894,1268.15 894.3,1251.22 894.8,1249.22 895.3,1252.48 895.8,1252.3 896.3,1249.3 896.8,1252.36 897.3,1250.77 897.8,1251.57 898.3,1252.66 898.8,1253.73 899.3,1254.6 899.8,1253.84 900.3,1250.84 900.8,1252.97 901.3,1251.86 901.8,1250.1 902.3,1253.44 902.8,1253.08 903.3,1255.59 903.8,1252.46 904.3,1255.64 904.8,1253.85 905.3,1251.48 905.8,1255.31 906.3,1252.83 906.8,1254.43 907.3,1251.76 907.8,1251.5 908.3,1257.06 908.8,1251.88 909.3,1252.62 909.8,1252.79 910,1236.58 910.3,1256.83 910.8,1257.93 911.3,1255.93 911.8,1254.47 912.3,1257.49 912.8,1255.25 913.3,1253.07 913.8,1256.44 914.3,1254.49 914.8,1253.99 915,1267.4 915.3,1254.71 915.8,1253.51 916.3,1256.11 916.8,1257.65 917.3,1255.87 917.8,1252.5 918.3,1256.54 918.8,1252.54 919.3,1255.28 919.8,1257.57 920.3,1256.41 920.8,1257.76 921.3,1256.8 921.8,1253.87 922.3,1253.04 922.8,1254.83 923.3,1256.14 923.8,1253.39 924.3,1253.92 924.8,1256.35 925.3,1253.87 925.8,1255.31 926.3,1254.9 926.8,1257.11 927.3,1251.61 927.8,1252.48 928.3,1255.94 928.8,1255.19 929,1236.58 929.3,1251.88 929.8,1252.24 930.3,1254.13 930.8,1256.19 931.3,1251.97 931.8,1251.78 932.3,1254.58 932.8,1252.9 933.3,1255.34 933.8,1256.15 934,1264.32 934.3,1254.34 934.8,1252.93 935.3,1250.21 935.8,1254.6 936.3,1252.04 936.8,1252.34 937.3,1253.26 937.8,1255.16 938.3,1252.63 938.8,1254.71 939.3,1254.91 939.8,1249.56 940.3,1251.1 940.8,1254.24 941.3,1253.44 941.8,1254.59 942.3,1249.84 942.8,1251.86 943.3,1254.22 943.8,1251.82 944.3,1252.57 944.8,1254.37 945.3,1249.53 945.8,1248.81 946.3,1253.58 946.8,1251.93 947.3,1249.65 947.8,1253.44 948.3,1250.16 948.8,1249.25 949,1237.79 949.3,1248.71 949.8,1250.95 950.3,1253.23 950.8,1251.31 951.3,1254.42 951.8,1248.94 952.3,1249.78 952.8,1249.67 953.3,1252.32 953.8,1250.15 954.3,1253.03 954.5,1266.38 954.8,1252.6 955.3,1254.28 955.8,1254.04 956.3,1254.94 956.8,1250.42 957.3,1251.9 957.8,1255.5 958.3,1252.24 958.8,1251.69 959.3,1253 959.8,1251.33 960.3,1255.47 960.8,1254.33 961.3,1251.22 961.8,1256.59 962.3,1254.07 962.8,1252.62 963.3,1254.93 963.8,1257.1 964.3,1253.64 964.8,1251.8 965.3,1253.06 965.8,1252.39 966.3,1255.36 966.8,1254.22 967.3,1257.62 967.8,1253.91 968.3,1252.92 968.8,1255.77 969.3,1253.88 969.5,1237.86 969.8,1254.65 970.3,1254.51 970.8,1257.41 971.3,1259.36 971.8,1256.11 972.3,1257.86 972.8,1256.11 973.3,1259.79 973.8,1257.75 974,1268.85 974.3,1259.01 974.8,1255.94 975.3,1255.08 975.8,1255.03 976.3,1260.07 976.8,1259.39 977.3,1257.38 977.8,1258.67 978.3,1259.64 978.8,1255.95 979.3,1259.81 979.8,1259.89 980.3,1261.36 980.8,1256.12 981.3,1259.25 981.8,1258.91 982.3,1260.97 982.8,1258.11 983.3,1259.93 983.8,1261.36 984.3,1258.08 984.8,1259.08 985.3,1261.35 985.8,1256.18 986.3,1261.81 986.8,1257.82 987.3,1258.66 987.8,1257.6 988.3,1260.62 988.8,1258.98 989.3,1260.22 989.8,1256.29 990,1241.28 990.3,1260.53 990.8,1259.61 991.3,1256.79 991.8,1256.92 992.3,1257.99 992.8,1255.57 993.3,1260.8 993.8,1257.42 994,1264.23 994.3,1255.96 994.8,1258.64 995.3,1259.42 995.8,1258.37 996.3,1256.92 996.8,1254.36 997.3,1256.72 997.8,1256.32 998.3,1259.5 998.8,1259.53 999.3,1259.29 999.8,1259.28 1000.3,1254.27 1000.8,1253.28 1001.3,1254.7 1001.8,1252.85 1002.3,1253.36 1002.8,1255.96 1003.3,1253.55 1003.8,1255.85 1004.3,1254.32 1004.8,1253.53 1005.3,1257.55 1005.8,1252.7 1006.3,1256.73 1006.8,1254.45 1007.3,1255.13 1007.8,1251.87 1008.3,1255.34 1008.8,1256.07 1009.3,1251.79 1009.5,1238.84 1009.8,1254.4 1010.3,1253.2 1010.8,1254.74 1011.3,1253.98 1011.8,1251.89 1012.3,1253.98 1012.8,1254.43 1013.3,1252.47 1013.8,1253.14 1014,1265.83 1014.3,1252.37 1014.8,1249.96 1015.3,1251.8 1015.8,1253.94 1016.3,1253.55 1016.8,1249.59 1017.3,1251.96 1017.8,1252.57 1018.3,1252.2 1018.8,1249.86 1019.3,1252.81 1019.8,1253.09 1020.3,1252.1 1020.8,1254.51 1021.3,1252.33 1021.8,1248.93 1022.3,1250.57" fill="none" stroke="#222" stroke-width="1.4" stroke-linejoin="round"/>
<polyline points="760.8,1290.21 761.21,1286.39 761.61,1291.61 762.02,1289.92 762.42,1290.21 762.83,1286.54 763.23,1285.45 763.64,1290.54 764.05,1288.26 764.45,1287.73 764.86,1288.08 765.26,1289.46 765.67,1286.97 766.07,1289.26 766.48,1285.48 766.89,1290.28 767.29,1288.46 767.7,1286.09 768.1,1286.93 768.51,1289.26 768.91,1285.82 769.32,1287.96 769.73,1289.13 770.13,1289.35 770.54,1285.03 770.94,1288.19 771.35,1287 771.75,1288.13 772.16,1283.63 772.57,1285.64 772.97,1285.82 773.38,1287.96 773.78,1285.75 774.19,1283.27 774.59,1284.26 775,1287.99 775.41,1288.3 775.81,1286.47 776.22,1283.53 776.62,1287.74 777.03,1288.35 777.43,1284.93 777.84,1286.17 778.24,1285.1 778.65,1283.77 779.05,1287.94 779.46,1284.59 779.86,1284.26 780.27,1289.31 780.68,1284.54 781.08,1288.64 781.49,1289.09 781.89,1285.82 782.3,1286.67 782.7,1285.9 783.11,1288.93 783.51,1290.64 783.92,1289.38 784.32,1287.99 784.73,1288.37 785.14,1287.71 785.54,1289.65 785.95,1287.08 786.35,1287.03 786.76,1289.82 787.16,1287.25 787.57,1291.72 787.97,1290.21 788.38,1287.01 788.78,1286.07 789.19,1289.56 789.59,1286.8 790,1289 790.41,1289.59 790.81,1290.82 791.22,1288.25 791.62,1289.15 792.03,1290.69 792.43,1286.53 792.84,1287.64 793.24,1290.37 793.65,1287.55 794.05,1290.86 794.46,1285.65 794.86,1285.52 795.27,1287.04 795.68,1287.5 796.08,1286.77 796.49,1285.73 796.89,1286.93 797.3,1289.45 797.7,1289.54 798.11,1287.51 798.51,1285.14 798.92,1286.93 799.32,1284.23 799.73,1283.51 800.14,1287.76 800.54,1284.45 800.95,1283.68 801.35,1287.51 801.76,1283.21 802.16,1283.79 802.57,1283.19 802.97,1287.55 803.38,1286.22 803.78,1283.16 804.19,1282.47 804.59,1287.45 805,1282.77 805.41,1286.31 805.82,1286.22 806.22,1285.71 806.63,1285.19 807.04,1284.98 807.45,1284.36 807.85,1286.77 808.26,1284.03 808.67,1286.24 809.08,1285.21 809.48,1286.13 809.89,1289.56 810.3,1287.9 810.71,1288.66 811.12,1288.96 811.52,1285.36 811.93,1290.32 812.34,1291.12 812.75,1290.58 813.15,1289.46 813.56,1291.59 813.97,1292.35 814.38,1288.48 814.78,1287.9 815.19,1289 815.6,1287.11 816.02,1288.37 816.44,1287.34 816.86,1286.72 817.28,1288.83 817.7,1286.18 818.12,1288.69 818.54,1290.54 818.96,1289.32 819.38,1284.94 819.8,1288.57 820.22,1284.91 820.64,1288.18 821.06,1286.79 821.48,1285.8 821.9,1284.78 822.32,1287.72 822.74,1282.8 823.16,1286.69 823.58,1282.35 824,1281.56 824.41,1282.22 824.82,1281.07 825.23,1285.76 825.64,1281.81 826.05,1284.07 826.45,1282.21 826.86,1282.65 827.27,1285.16 827.68,1283.68 828.09,1281.93 828.5,1284.75 828.91,1281.1 829.32,1280.44 829.73,1284.32 830.14,1285.23 830.55,1284.68 830.95,1284.25 831.36,1285.62 831.77,1285.58 832.18,1283.41 832.59,1281.07 833,1283.48 833.41,1282.59 833.81,1284.37 834.22,1282.37 834.62,1280.91 835.03,1281.88 835.44,1281.87 835.84,1285.74 836.25,1285.85 836.66,1285.32 837.06,1284.46 837.47,1287.38 837.88,1286.17 838.28,1286.94 838.69,1285.65 839.09,1290.97 839.5,1288.16 839.91,1288.84 840.31,1287.77 840.72,1289.72 841.12,1290.34 841.53,1290.54 841.94,1292.91 842.34,1290.89 842.75,1293.02 843.16,1293.67 843.56,1290.8 843.97,1295.22 844.38,1290.95 844.78,1292.27 845.19,1295.86 845.59,1291.68 846,1292.66 846.4,1293.46 846.8,1296.62 847.2,1296.68 847.6,1292.08 848,1294.5 848.4,1295.49 848.8,1293.43 849.2,1292.05 849.6,1290.88 850,1290.17 850.4,1289.79 850.8,1289.57 851.2,1293.38 851.6,1292.33 852,1288.92 852.4,1293.87 852.8,1293.89 853.2,1290.19 853.6,1289.61 854,1292.42 854.4,1290.89 854.8,1291.11 855.2,1287.49 855.6,1290.52 856,1288.58 856.4,1286.04 856.8,1285.79 857.2,1286.9 857.6,1286.55 858,1286.61 858.4,1290.33 858.8,1287.11 859.2,1285.83 859.6,1285.07 860,1284.63 860.4,1286.59 860.8,1286.53 861.2,1284.34 861.6,1286.83 862,1285.65 862.4,1283.56 862.8,1286.15 863.2,1284.11 863.6,1284.11 864,1287.41 864.4,1285.34 864.8,1284.78 865.2,1285.84 865.6,1286.79 866,1286.03 866.4,1287.85 866.8,1286.34 867.2,1283.98 867.6,1287.55 868,1281.83 868.4,1282.77 868.8,1282.28 869.2,1283.76 869.6,1283.51 870,1283.66 870.4,1285.05 870.8,1283.29 871.2,1284.04 871.6,1285.17 872,1286.62 872.4,1286.78 872.8,1283.23 873.2,1283.31 873.6,1286.95 874.02,1286.05 874.43,1286.31 874.85,1281.79 875.26,1282.92 875.68,1283.83 876.1,1283.25 876.51,1284.31 876.93,1287.33 877.34,1284.16 877.76,1285.04 878.18,1284.12 878.59,1285.9 879.01,1285.84 879.42,1283.86 879.84,1283.34 880.26,1287.71 880.67,1288.39 881.09,1285.65 881.5,1285.03 881.92,1284.65 882.34,1287.98 882.75,1287.92 883.17,1290.25 883.58,1288.89 884,1288.44 884.41,1288.74 884.82,1290.81 885.23,1291.07 885.64,1286.76 886.06,1286.7 886.47,1286.95 886.88,1286.48 887.29,1291.74 887.7,1292.64 888.11,1290.11 888.52,1291.9 888.93,1291.55 889.34,1291.76 889.76,1290.42 890.17,1294.05 890.58,1290.39 890.99,1289.38 891.4,1289.32 891.81,1293.96 892.22,1294.13 892.63,1294.78 893.04,1294.67 893.46,1291.43 893.87,1292.44 894.28,1292.13 894.69,1295.8 895.1,1290.78 895.51,1292.74 895.92,1294.96 896.33,1294.98 896.74,1291.28 897.16,1292.02 897.57,1292.42 897.98,1292.78 898.39,1294.56 898.8,1291.68 899.2,1296.45 899.6,1294.23 900,1295.27 900.4,1293.41 900.8,1296.2 901.2,1291.57 901.6,1295.96 902,1292.03 902.4,1293.41 902.8,1293.46 903.2,1293.86 903.6,1292.81 904,1293.59 904.4,1289.28 904.8,1291.88 905.2,1291.36 905.6,1291.76 906,1288.37 906.4,1291.66 906.8,1287.59 907.2,1287.07 907.6,1286.79 908,1292.06 908.4,1286.87 908.8,1289.72 909.2,1285.68 909.6,1288.73 910,1286.17 910.4,1288.24 910.8,1288.88 911.2,1288.33 911.6,1287.37 912,1288.31 912.4,1283.9 912.81,1284.1 913.21,1285.09 913.62,1286.27 914.02,1288.03 914.43,1283.5 914.83,1284.47 915.24,1286.28 915.64,1284.97 916.05,1283.42 916.45,1284.52 916.86,1282.88 917.26,1282.71 917.67,1287.57 918.07,1284.33 918.48,1286.64 918.88,1283.73 919.29,1286.6 919.69,1287.38 920.1,1282.1 920.5,1285.53 920.9,1287.29 921.31,1286.38 921.71,1282.42 922.12,1286 922.52,1286.08 922.93,1282.45 923.33,1285.38 923.74,1285.12 924.14,1282.52 924.55,1286.19 924.95,1286.37 925.36,1281.63 925.76,1283.98 926.17,1284.64 926.57,1281.13 926.98,1284.16 927.38,1286.67 927.79,1283.02 928.19,1283.98 928.6,1286.63 929,1286.24 929.41,1286.75 929.82,1281.69 930.23,1287.31 930.64,1283.54 931.05,1283.99 931.46,1283.28 931.87,1287.4 932.28,1286.52 932.69,1286.2 933.1,1286.91 933.51,1287.54 933.92,1288.5 934.33,1286.47 934.74,1290.45 935.15,1288.28 935.55,1287.41 935.96,1293.61 936.37,1289.03 936.78,1293.81 937.19,1294.14 937.6,1292.63 938.01,1294.21 938.42,1292.46 938.83,1292.74 939.24,1297.13 939.65,1296.66 940.06,1297.06 940.47,1295.43 940.88,1293.07 941.29,1297.6 941.7,1298.76 942.1,1294.89 942.51,1296.68 942.91,1293.72 943.31,1298.49 943.72,1296.83 944.12,1292.77 944.52,1296.4 944.92,1296.02 945.33,1294.34 945.73,1294.97 946.13,1296.77 946.54,1294.97 946.94,1293.41 947.34,1296.06 947.75,1293.76 948.15,1294.25 948.55,1292.59 948.95,1293.46 949.36,1293.22 949.76,1291.23 950.16,1290.69 950.57,1288.77 950.97,1291.17 951.37,1291.31 951.78,1289.12 952.18,1286.77 952.58,1290.34 952.98,1289.75 953.39,1289.53 953.79,1286.36 954.19,1290.58 954.6,1289.49 955,1289.8 955.4,1285.78 955.81,1286.42 956.21,1287.89 956.62,1284.63 957.02,1290.33 957.42,1285.44 957.83,1285.21 958.23,1288.97 958.64,1285.52 959.04,1287.47 959.45,1287.83 959.85,1285.05 960.25,1284.04 960.66,1287.88 961.06,1288.82 961.47,1288.34 961.87,1284.03 962.27,1285.33 962.68,1285.96 963.08,1283.37 963.49,1288.4 963.89,1287.99 964.3,1288.76 964.7,1288.37 965.1,1287.84 965.51,1284.53 965.91,1286.6 966.32,1287.87 966.72,1282.62 967.12,1282.95 967.53,1288.38 967.93,1282.96 968.34,1287.81 968.74,1284.6 969.15,1283.74 969.55,1284.49 969.95,1287.49 970.36,1286.05 970.76,1282.88 971.17,1287.04 971.57,1284.16 971.98,1287.01 972.38,1285.05 972.78,1287.2 973.19,1285.31 973.59,1284.13 974,1287.95 974.4,1287.89 974.8,1285.3 975.2,1285.21 975.6,1285.78 976,1286.33 976.4,1284.05 976.8,1288.19 977.2,1285.33 977.6,1289.01 978,1286.72 978.4,1289.04 978.8,1289.35 979.2,1285.78 979.6,1284.65 980,1288.25 980.4,1288.55 980.8,1287.46 981.2,1287.91 981.6,1287.79 982,1287.06 982.4,1289.61 982.8,1290.34 983.2,1290.18 983.6,1292.97 984,1290.85 984.4,1293.08 984.8,1293.4 985.2,1292.21 985.6,1292.25 986,1291.13 986.4,1294.09 986.8,1295.4 987.2,1296.22 987.6,1295.38 988,1296.53 988.4,1294.34 988.8,1293.64 989.2,1296.87 989.6,1295.03 990.01,1291.41 990.41,1296.06 990.82,1294.43 991.22,1295.89 991.63,1293.06 992.03,1294.26 992.44,1293.87 992.84,1293.77 993.25,1295.16 993.65,1292 994.06,1293.42 994.46,1294.75 994.87,1289.36 995.27,1293.68 995.68,1292.39 996.08,1290.58 996.49,1287.86 996.89,1290.28 997.3,1287.99 997.71,1287.85 998.11,1289.4 998.52,1289.82 998.92,1291.35 999.33,1289.24 999.73,1289.77 1000.14,1288.17 1000.54,1284.78 1000.95,1286.35 1001.35,1284.84 1001.76,1287.55 1002.16,1285.54 1002.57,1287.2 1002.97,1285.4 1003.38,1283.52 1003.78,1284.51 1004.19,1288.66 1004.59,1285.71 1005,1286.98 1005.4,1286.24 1005.8,1285.79 1006.21,1287.13 1006.61,1288.5 1007.01,1286.89 1007.41,1287.87 1007.82,1285.28 1008.22,1284.9 1008.62,1283.36 1009.02,1286.57 1009.42,1283.81 1009.83,1285.12 1010.23,1286.37 1010.63,1285.92 1011.03,1285.02 1011.44,1286.39 1011.84,1289.47 1012.24,1287.44 1012.64,1288.14 1013.05,1290.27 1013.45,1288.23 1013.85,1290.21 1014.25,1288.79 1014.65,1289.59 1015.06,1288.5 1015.46,1290.96 1015.86,1288.38 1016.26,1287.23 1016.67,1289.26 1017.07,1286.01 1017.47,1288.12 1017.87,1291.34 1018.28,1286.68 1018.68,1288.38 1019.08,1287.87 1019.48,1289.87 1019.88,1291.4 1020.29,1288.32 1020.69,1289.91 1021.09,1286.79 1021.49,1288.14 1021.9,1289.33 1022.3,1290.75 1022.7,1292.27" fill="none" stroke="#3a3a3a" stroke-width="1.1" stroke-linejoin="round"/>
<rect x="763" y="1185" width="52" height="17" fill="#fff" stroke="none" stroke-width="1" rx="0"/>
<rect x="763" y="1240" width="52" height="25" fill="#fff" stroke="none" stroke-width="1" rx="0"/>
<rect x="764" y="1282" width="50" height="16" fill="#fff" stroke="none" stroke-width="1" rx="0"/>
<path d="M753,1198.2 h4.5 l2,2.2 l-2,2.2 h-4.5 z" fill="#fff" stroke="#222" stroke-width="0.8"/>
<text x="755.5" y="1202" font-family="'Liberation Sans', sans-serif" font-size="4.2" font-weight="bold" fill="#222" text-anchor="middle">1</text>
<path d="M753,1252.8 h4.5 l2,2.2 l-2,2.2 h-4.5 z" fill="#111"/>
<path d="M753,1290.2 h4.5 l2,2.2 l-2,2.2 h-4.5 z" fill="#fff" stroke="#222" stroke-width="0.8"/>
<text x="755.5" y="1294" font-family="'Liberation Sans', sans-serif" font-size="4.2" font-weight="bold" fill="#222" text-anchor="middle">3</text>
<text x="788.7" y="1192.74" font-family="'Liberation Serif', serif" font-size="6.4" font-weight="bold" fill="#3fb27a" text-anchor="middle" textLength="47.5" lengthAdjust="spacingAndGlyphs">(Switching)Power</text>
<text x="788.7" y="1200.31" font-family="'Liberation Serif', serif" font-size="6.6" font-weight="bold" fill="#3fb27a" text-anchor="middle" textLength="44.5" lengthAdjust="spacingAndGlyphs">Vo/Io = 20V/18A</text>
<text x="789.8" y="1247.24" font-family="'Liberation Serif', serif" font-size="6.4" font-weight="bold" fill="#6e5bb0" text-anchor="middle" textLength="40.5" lengthAdjust="spacingAndGlyphs">(Hybrid)Power</text>
<text x="789.5" y="1255.78" font-family="'Liberation Serif', serif" font-size="6.8" font-weight="bold" fill="#6e5bb0" text-anchor="middle" textLength="29" lengthAdjust="spacingAndGlyphs">PLR 20-18</text>
<text x="790" y="1263.24" font-family="'Liberation Serif', serif" font-size="6.4" font-weight="bold" fill="#6e5bb0" text-anchor="middle" textLength="44.8" lengthAdjust="spacingAndGlyphs">Vo/Io = 20V/18A</text>
<text x="789.5" y="1289.17" font-family="'Liberation Serif', serif" font-size="6.2" font-weight="bold" fill="#2f8fd0" text-anchor="middle" textLength="39" lengthAdjust="spacingAndGlyphs">(Linear)Power</text>
<text x="790" y="1296.75" font-family="'Liberation Serif', serif" font-size="7" font-weight="bold" fill="#2f8fd0" text-anchor="middle" textLength="44.8" lengthAdjust="spacingAndGlyphs">Vo/Io = 20V/10A</text>
<text x="993" y="1233.88" font-family="'Liberation Serif', serif" font-size="6.8" font-weight="bold" fill="#e8323c" text-anchor="middle" textLength="50" lengthAdjust="spacingAndGlyphs">2mV/div; 10us/div</text>
</svg></body></html>
